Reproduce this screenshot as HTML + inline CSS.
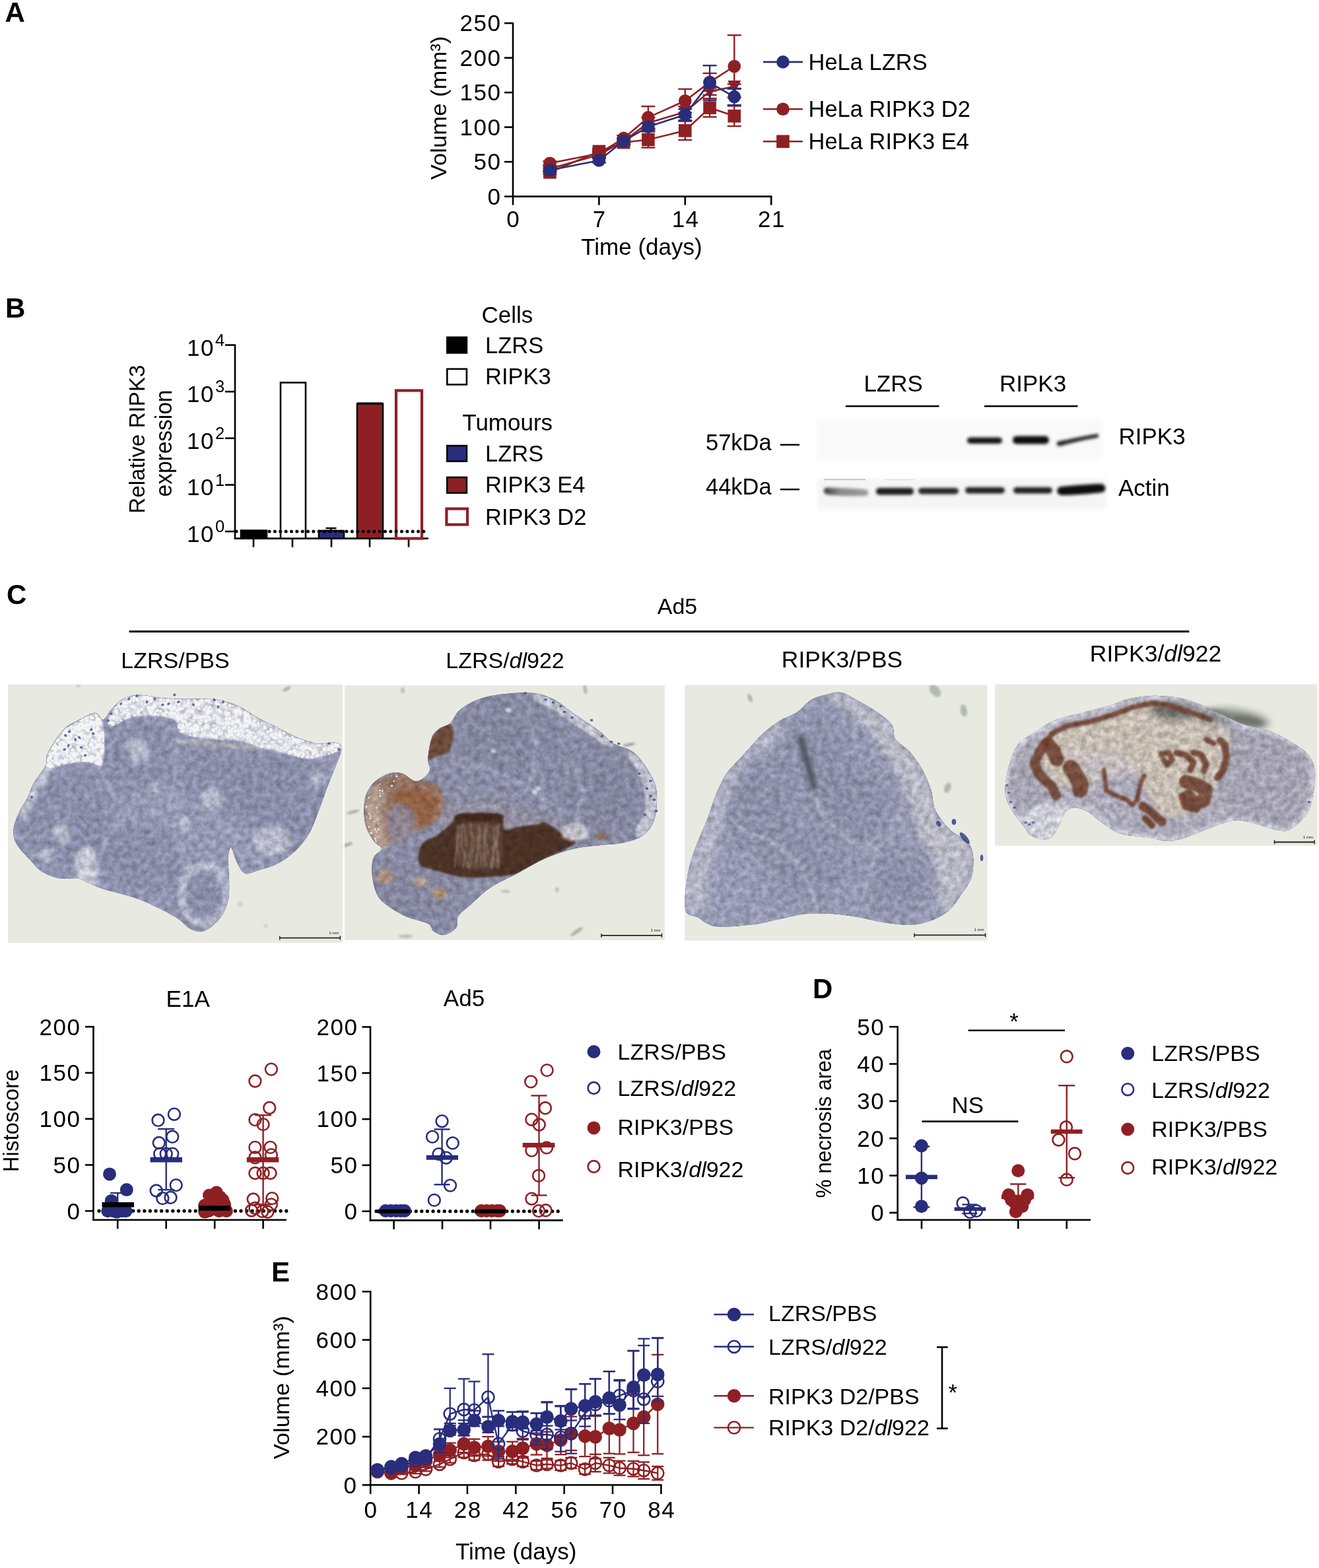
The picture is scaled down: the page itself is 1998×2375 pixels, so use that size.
<!DOCTYPE html>
<html><head><meta charset="utf-8"><title>Figure</title>
<style>
html,body{margin:0;padding:0;background:#fff;}
svg{display:block;}
text{font-family:'Liberation Sans', Arial, sans-serif;fill:#000;}
</style></head><body>
<svg width="1998" height="2375" viewBox="0 0 1998 2375">
<rect width="1998" height="2375" fill="#fff"/>
<defs>
<filter id="blur1" x="-20%" y="-50%" width="140%" height="200%"><feGaussianBlur stdDeviation="1.5"/></filter>
<filter id="blur2" x="-20%" y="-50%" width="140%" height="200%"><feGaussianBlur stdDeviation="2.2"/></filter>
<filter id="blur3" x="-20%" y="-50%" width="140%" height="200%"><feGaussianBlur stdDeviation="3"/></filter>
<filter id="blur6" x="-30%" y="-30%" width="160%" height="160%"><feGaussianBlur stdDeviation="6"/></filter>
<filter id="blur12" x="-30%" y="-30%" width="160%" height="160%"><feGaussianBlur stdDeviation="12"/></filter>
<filter id="sb1" filterUnits="userSpaceOnUse" x="0" y="1030" width="1998" height="400"><feGaussianBlur stdDeviation="1.5"/></filter>
<filter id="sb2" filterUnits="userSpaceOnUse" x="0" y="1030" width="1998" height="400"><feGaussianBlur stdDeviation="2.2"/></filter>
<filter id="sb3" filterUnits="userSpaceOnUse" x="0" y="1030" width="1998" height="400"><feGaussianBlur stdDeviation="3"/></filter>
<filter id="tt" x="0" y="0" width="100%" height="100%" color-interpolation-filters="sRGB">
  <feTurbulence type="fractalNoise" baseFrequency="0.11" numOctaves="3" seed="5"/>
  <feColorMatrix type="matrix" values="1 0 0 0 0  1 0 0 0 0  1 0 0 0 0  0 0 0 0 1" result="n"/>
  <feComposite in="SourceGraphic" in2="n" operator="arithmetic" k1="0.5" k2="0.75" k3="0" k4="0"/>
</filter>
<filter id="tt2" x="0" y="0" width="100%" height="100%" color-interpolation-filters="sRGB">
  <feTurbulence type="fractalNoise" baseFrequency="0.12" numOctaves="2" seed="9"/>
  <feColorMatrix type="matrix" values="1 0 0 0 0  1 0 0 0 0  1 0 0 0 0  0 0 0 0 1" result="n"/>
  <feComposite in="SourceGraphic" in2="n" operator="arithmetic" k1="0.7" k2="0.65" k3="0" k4="0"/>
</filter>
</defs>
<text x="7.5" y="32.8" font-size="42" text-anchor="start" font-weight="bold" >A</text>
<line x1="777" y1="33.9" x2="777" y2="298.8" stroke="#000" stroke-width="2.6" />
<line x1="775.8" y1="297.6" x2="1169.4" y2="297.6" stroke="#000" stroke-width="2.6" />
<line x1="764" y1="297.6" x2="777" y2="297.6" stroke="#000" stroke-width="2.6" />
<text x="759.5" y="309.9" font-size="35" text-anchor="end" letter-spacing="1.5">0</text>
<line x1="764" y1="245.1" x2="777" y2="245.1" stroke="#000" stroke-width="2.6" />
<text x="759.5" y="257.4" font-size="35" text-anchor="end" letter-spacing="1.5">50</text>
<line x1="764" y1="192.6" x2="777" y2="192.6" stroke="#000" stroke-width="2.6" />
<text x="759.5" y="204.9" font-size="35" text-anchor="end" letter-spacing="1.5">100</text>
<line x1="764" y1="140.1" x2="777" y2="140.1" stroke="#000" stroke-width="2.6" />
<text x="759.5" y="152.4" font-size="35" text-anchor="end" letter-spacing="1.5">150</text>
<line x1="764" y1="87.6" x2="777" y2="87.6" stroke="#000" stroke-width="2.6" />
<text x="759.5" y="99.9" font-size="35" text-anchor="end" letter-spacing="1.5">200</text>
<line x1="764" y1="35.1" x2="777" y2="35.1" stroke="#000" stroke-width="2.6" />
<text x="759.5" y="47.4" font-size="35" text-anchor="end" letter-spacing="1.5">250</text>
<line x1="777" y1="297.6" x2="777" y2="310.6" stroke="#000" stroke-width="2.6" />
<text x="777.8" y="343.6" font-size="35" text-anchor="middle" letter-spacing="1.5">0</text>
<line x1="907.4" y1="297.6" x2="907.4" y2="310.6" stroke="#000" stroke-width="2.6" />
<text x="908.2" y="343.6" font-size="35" text-anchor="middle" letter-spacing="1.5">7</text>
<line x1="1037.8" y1="297.6" x2="1037.8" y2="310.6" stroke="#000" stroke-width="2.6" />
<text x="1038.6" y="343.6" font-size="35" text-anchor="middle" letter-spacing="1.5">14</text>
<line x1="1168.2" y1="297.6" x2="1168.2" y2="310.6" stroke="#000" stroke-width="2.6" />
<text x="1169" y="343.6" font-size="35" text-anchor="middle" letter-spacing="1.5">21</text>
<text x="972" y="386" font-size="35" text-anchor="middle" >Time (days)</text>
<text transform="translate(676.4,163.4) rotate(-90)" font-size="34" text-anchor="middle" textLength="217.5" lengthAdjust="spacingAndGlyphs">Volume (mm³)</text>
<line x1="832.9" y1="259.8" x2="832.9" y2="251.4" stroke="#8e2024" stroke-width="2.4" />
<line x1="822.4" y1="251.4" x2="843.4" y2="251.4" stroke="#8e2024" stroke-width="2.4" />
<line x1="822.4" y1="259.8" x2="843.4" y2="259.8" stroke="#8e2024" stroke-width="2.4" />
<line x1="907.4" y1="238.8" x2="907.4" y2="230.4" stroke="#8e2024" stroke-width="2.4" />
<line x1="896.9" y1="230.4" x2="917.9" y2="230.4" stroke="#8e2024" stroke-width="2.4" />
<line x1="896.9" y1="238.8" x2="917.9" y2="238.8" stroke="#8e2024" stroke-width="2.4" />
<line x1="944.7" y1="217.8" x2="944.7" y2="209.4" stroke="#8e2024" stroke-width="2.4" />
<line x1="934.2" y1="209.4" x2="955.2" y2="209.4" stroke="#8e2024" stroke-width="2.4" />
<line x1="934.2" y1="217.8" x2="955.2" y2="217.8" stroke="#8e2024" stroke-width="2.4" />
<line x1="981.9" y1="194.7" x2="981.9" y2="177.9" stroke="#8e2024" stroke-width="2.4" />
<line x1="971.4" y1="177.9" x2="992.4" y2="177.9" stroke="#8e2024" stroke-width="2.4" />
<line x1="971.4" y1="194.7" x2="992.4" y2="194.7" stroke="#8e2024" stroke-width="2.4" />
<line x1="1037.8" y1="177.9" x2="1037.8" y2="161.1" stroke="#8e2024" stroke-width="2.4" />
<line x1="1027.3" y1="161.1" x2="1048.3" y2="161.1" stroke="#8e2024" stroke-width="2.4" />
<line x1="1027.3" y1="177.9" x2="1048.3" y2="177.9" stroke="#8e2024" stroke-width="2.4" />
<line x1="1075.1" y1="143.8" x2="1075.1" y2="133.3" stroke="#8e2024" stroke-width="2.4" />
<line x1="1064.6" y1="133.3" x2="1085.6" y2="133.3" stroke="#8e2024" stroke-width="2.4" />
<line x1="1064.6" y1="143.8" x2="1085.6" y2="143.8" stroke="#8e2024" stroke-width="2.4" />
<line x1="1112.3" y1="134.7" x2="1112.3" y2="127.4" stroke="#8e2024" stroke-width="2.4" />
<line x1="1101.8" y1="127.4" x2="1122.8" y2="127.4" stroke="#8e2024" stroke-width="2.4" />
<line x1="1101.8" y1="134.7" x2="1122.8" y2="134.7" stroke="#8e2024" stroke-width="2.4" />
<polyline points="832.9,255.6 907.4,234.6 944.7,213.6 981.9,186.3 1037.8,169.5 1075.1,138.5 1112.3,131.1" fill="none" stroke="#8e2024" stroke-width="2.6" stroke-linejoin="round"/>
<polygon points="822.9,246.6 842.9,246.6 832.9,266.6" fill="#8e2024" />
<polygon points="897.4,225.6 917.4,225.6 907.4,245.6" fill="#8e2024" />
<polygon points="934.7,204.6 954.7,204.6 944.7,224.6" fill="#8e2024" />
<polygon points="971.9,177.3 991.9,177.3 981.9,197.3" fill="#8e2024" />
<polygon points="1027.8,160.5 1047.8,160.5 1037.8,180.5" fill="#8e2024" />
<polygon points="1065.1,129.5 1085.1,129.5 1075.1,149.5" fill="#8e2024" />
<polygon points="1102.3,122.1 1122.3,122.1 1112.3,142.1" fill="#8e2024" />
<line x1="832.9" y1="264" x2="832.9" y2="257.7" stroke="#8e2024" stroke-width="2.4" />
<line x1="822.4" y1="257.7" x2="843.4" y2="257.7" stroke="#8e2024" stroke-width="2.4" />
<line x1="822.4" y1="264" x2="843.4" y2="264" stroke="#8e2024" stroke-width="2.4" />
<line x1="907.4" y1="233.6" x2="907.4" y2="225.2" stroke="#8e2024" stroke-width="2.4" />
<line x1="896.9" y1="225.2" x2="917.9" y2="225.2" stroke="#8e2024" stroke-width="2.4" />
<line x1="896.9" y1="233.6" x2="917.9" y2="233.6" stroke="#8e2024" stroke-width="2.4" />
<line x1="944.7" y1="219.9" x2="944.7" y2="211.5" stroke="#8e2024" stroke-width="2.4" />
<line x1="934.2" y1="211.5" x2="955.2" y2="211.5" stroke="#8e2024" stroke-width="2.4" />
<line x1="934.2" y1="219.9" x2="955.2" y2="219.9" stroke="#8e2024" stroke-width="2.4" />
<line x1="981.9" y1="223.6" x2="981.9" y2="199.4" stroke="#8e2024" stroke-width="2.4" />
<line x1="971.4" y1="199.4" x2="992.4" y2="199.4" stroke="#8e2024" stroke-width="2.4" />
<line x1="971.4" y1="223.6" x2="992.4" y2="223.6" stroke="#8e2024" stroke-width="2.4" />
<line x1="1037.8" y1="212" x2="1037.8" y2="183.7" stroke="#8e2024" stroke-width="2.4" />
<line x1="1027.3" y1="183.7" x2="1048.3" y2="183.7" stroke="#8e2024" stroke-width="2.4" />
<line x1="1027.3" y1="212" x2="1048.3" y2="212" stroke="#8e2024" stroke-width="2.4" />
<line x1="1075.1" y1="177.2" x2="1075.1" y2="149.2" stroke="#8e2024" stroke-width="2.4" />
<line x1="1064.6" y1="149.2" x2="1085.6" y2="149.2" stroke="#8e2024" stroke-width="2.4" />
<line x1="1064.6" y1="177.2" x2="1085.6" y2="177.2" stroke="#8e2024" stroke-width="2.4" />
<line x1="1112.3" y1="191.1" x2="1112.3" y2="160.5" stroke="#8e2024" stroke-width="2.4" />
<line x1="1101.8" y1="160.5" x2="1122.8" y2="160.5" stroke="#8e2024" stroke-width="2.4" />
<line x1="1101.8" y1="191.1" x2="1122.8" y2="191.1" stroke="#8e2024" stroke-width="2.4" />
<polyline points="832.9,260.9 907.4,229.4 944.7,215.7 981.9,211.5 1037.8,197.9 1075.1,163.2 1112.3,175.8" fill="none" stroke="#8e2024" stroke-width="2.6" stroke-linejoin="round"/>
<rect x="823.1" y="251.1" width="19.6" height="19.6" fill="#8e2024" stroke="none" stroke-width="0"/>
<rect x="897.6" y="219.6" width="19.6" height="19.6" fill="#8e2024" stroke="none" stroke-width="0"/>
<rect x="934.9" y="205.9" width="19.6" height="19.6" fill="#8e2024" stroke="none" stroke-width="0"/>
<rect x="972.1" y="201.7" width="19.6" height="19.6" fill="#8e2024" stroke="none" stroke-width="0"/>
<rect x="1028" y="188.1" width="19.6" height="19.6" fill="#8e2024" stroke="none" stroke-width="0"/>
<rect x="1065.3" y="153.4" width="19.6" height="19.6" fill="#8e2024" stroke="none" stroke-width="0"/>
<rect x="1102.5" y="166" width="19.6" height="19.6" fill="#8e2024" stroke="none" stroke-width="0"/>
<line x1="832.9" y1="250.4" x2="832.9" y2="244.1" stroke="#8e2024" stroke-width="2.4" />
<line x1="822.4" y1="244.1" x2="843.4" y2="244.1" stroke="#8e2024" stroke-width="2.4" />
<line x1="822.4" y1="250.4" x2="843.4" y2="250.4" stroke="#8e2024" stroke-width="2.4" />
<line x1="907.4" y1="236.7" x2="907.4" y2="228.3" stroke="#8e2024" stroke-width="2.4" />
<line x1="896.9" y1="228.3" x2="917.9" y2="228.3" stroke="#8e2024" stroke-width="2.4" />
<line x1="896.9" y1="236.7" x2="917.9" y2="236.7" stroke="#8e2024" stroke-width="2.4" />
<line x1="944.7" y1="213.6" x2="944.7" y2="205.2" stroke="#8e2024" stroke-width="2.4" />
<line x1="934.2" y1="205.2" x2="955.2" y2="205.2" stroke="#8e2024" stroke-width="2.4" />
<line x1="934.2" y1="213.6" x2="955.2" y2="213.6" stroke="#8e2024" stroke-width="2.4" />
<line x1="981.9" y1="194.7" x2="981.9" y2="161.1" stroke="#8e2024" stroke-width="2.4" />
<line x1="971.4" y1="161.1" x2="992.4" y2="161.1" stroke="#8e2024" stroke-width="2.4" />
<line x1="971.4" y1="194.7" x2="992.4" y2="194.7" stroke="#8e2024" stroke-width="2.4" />
<line x1="1037.8" y1="170.6" x2="1037.8" y2="134.9" stroke="#8e2024" stroke-width="2.4" />
<line x1="1027.3" y1="134.9" x2="1048.3" y2="134.9" stroke="#8e2024" stroke-width="2.4" />
<line x1="1027.3" y1="170.6" x2="1048.3" y2="170.6" stroke="#8e2024" stroke-width="2.4" />
<line x1="1075.1" y1="137.7" x2="1075.1" y2="111" stroke="#8e2024" stroke-width="2.4" />
<line x1="1064.6" y1="111" x2="1085.6" y2="111" stroke="#8e2024" stroke-width="2.4" />
<line x1="1064.6" y1="137.7" x2="1085.6" y2="137.7" stroke="#8e2024" stroke-width="2.4" />
<line x1="1112.3" y1="147.8" x2="1112.3" y2="53.3" stroke="#8e2024" stroke-width="2.4" />
<line x1="1101.8" y1="53.3" x2="1122.8" y2="53.3" stroke="#8e2024" stroke-width="2.4" />
<line x1="1101.8" y1="147.8" x2="1122.8" y2="147.8" stroke="#8e2024" stroke-width="2.4" />
<polyline points="832.9,247.2 907.4,232.5 944.7,209.4 981.9,177.9 1037.8,152.7 1075.1,124.4 1112.3,100.5" fill="none" stroke="#8e2024" stroke-width="2.6" stroke-linejoin="round"/>
<circle cx="832.9" cy="247.2" r="9.8" fill="#8e2024" stroke="none" stroke-width="0"/>
<circle cx="907.4" cy="232.5" r="9.8" fill="#8e2024" stroke="none" stroke-width="0"/>
<circle cx="944.7" cy="209.4" r="9.8" fill="#8e2024" stroke="none" stroke-width="0"/>
<circle cx="981.9" cy="177.9" r="9.8" fill="#8e2024" stroke="none" stroke-width="0"/>
<circle cx="1037.8" cy="152.7" r="9.8" fill="#8e2024" stroke="none" stroke-width="0"/>
<circle cx="1075.1" cy="124.4" r="9.8" fill="#8e2024" stroke="none" stroke-width="0"/>
<circle cx="1112.3" cy="100.5" r="9.8" fill="#8e2024" stroke="none" stroke-width="0"/>
<line x1="832.9" y1="260.9" x2="832.9" y2="254.6" stroke="#282d7c" stroke-width="2.4" />
<line x1="822.4" y1="254.6" x2="843.4" y2="254.6" stroke="#282d7c" stroke-width="2.4" />
<line x1="822.4" y1="260.9" x2="843.4" y2="260.9" stroke="#282d7c" stroke-width="2.4" />
<line x1="907.4" y1="246.2" x2="907.4" y2="239.9" stroke="#282d7c" stroke-width="2.4" />
<line x1="896.9" y1="239.9" x2="917.9" y2="239.9" stroke="#282d7c" stroke-width="2.4" />
<line x1="896.9" y1="246.2" x2="917.9" y2="246.2" stroke="#282d7c" stroke-width="2.4" />
<line x1="944.7" y1="217.8" x2="944.7" y2="209.4" stroke="#282d7c" stroke-width="2.4" />
<line x1="934.2" y1="209.4" x2="955.2" y2="209.4" stroke="#282d7c" stroke-width="2.4" />
<line x1="934.2" y1="217.8" x2="955.2" y2="217.8" stroke="#282d7c" stroke-width="2.4" />
<line x1="981.9" y1="197.3" x2="981.9" y2="186.8" stroke="#282d7c" stroke-width="2.4" />
<line x1="971.4" y1="186.8" x2="992.4" y2="186.8" stroke="#282d7c" stroke-width="2.4" />
<line x1="971.4" y1="197.3" x2="992.4" y2="197.3" stroke="#282d7c" stroke-width="2.4" />
<line x1="1037.8" y1="182.1" x2="1037.8" y2="165.3" stroke="#282d7c" stroke-width="2.4" />
<line x1="1027.3" y1="165.3" x2="1048.3" y2="165.3" stroke="#282d7c" stroke-width="2.4" />
<line x1="1027.3" y1="182.1" x2="1048.3" y2="182.1" stroke="#282d7c" stroke-width="2.4" />
<line x1="1075.1" y1="151.7" x2="1075.1" y2="99.2" stroke="#282d7c" stroke-width="2.4" />
<line x1="1064.6" y1="99.2" x2="1085.6" y2="99.2" stroke="#282d7c" stroke-width="2.4" />
<line x1="1064.6" y1="151.7" x2="1085.6" y2="151.7" stroke="#282d7c" stroke-width="2.4" />
<line x1="1112.3" y1="159.2" x2="1112.3" y2="134" stroke="#282d7c" stroke-width="2.4" />
<line x1="1101.8" y1="134" x2="1122.8" y2="134" stroke="#282d7c" stroke-width="2.4" />
<line x1="1101.8" y1="159.2" x2="1122.8" y2="159.2" stroke="#282d7c" stroke-width="2.4" />
<polyline points="832.9,257.7 907.4,243 944.7,213.6 981.9,192.1 1037.8,173.7 1075.1,125.4 1112.3,146.6" fill="none" stroke="#282d7c" stroke-width="2.6" stroke-linejoin="round"/>
<circle cx="832.9" cy="257.7" r="9.8" fill="#282d7c" stroke="none" stroke-width="0"/>
<circle cx="907.4" cy="243" r="9.8" fill="#282d7c" stroke="none" stroke-width="0"/>
<circle cx="944.7" cy="213.6" r="9.8" fill="#282d7c" stroke="none" stroke-width="0"/>
<circle cx="981.9" cy="192.1" r="9.8" fill="#282d7c" stroke="none" stroke-width="0"/>
<circle cx="1037.8" cy="173.7" r="9.8" fill="#282d7c" stroke="none" stroke-width="0"/>
<circle cx="1075.1" cy="125.4" r="9.8" fill="#282d7c" stroke="none" stroke-width="0"/>
<circle cx="1112.3" cy="146.6" r="9.8" fill="#282d7c" stroke="none" stroke-width="0"/>
<line x1="1156" y1="93.9" x2="1216" y2="93.9" stroke="#282d7c" stroke-width="2.6" />
<circle cx="1186" cy="93.9" r="9.8" fill="#282d7c" stroke="none" stroke-width="0"/>
<text x="1224.5" y="105.9" font-size="34.5" text-anchor="start" >HeLa LZRS</text>
<line x1="1156" y1="165.3" x2="1216" y2="165.3" stroke="#8e2024" stroke-width="2.6" />
<circle cx="1186" cy="165.3" r="9.8" fill="#8e2024" stroke="none" stroke-width="0"/>
<text x="1224.5" y="177.3" font-size="34.5" text-anchor="start" >HeLa RIPK3 D2</text>
<line x1="1156" y1="214.3" x2="1216" y2="214.3" stroke="#8e2024" stroke-width="2.6" />
<rect x="1176.2" y="204.5" width="19.6" height="19.6" fill="#8e2024" stroke="none" stroke-width="0"/>
<text x="1224.5" y="226.3" font-size="34.5" text-anchor="start" >HeLa RIPK3 E4</text>
<text x="8" y="481.1" font-size="42" text-anchor="start" font-weight="bold" >B</text>
<line x1="356" y1="521.4" x2="356" y2="816.8" stroke="#000" stroke-width="2.6" />
<line x1="354.8" y1="815.6" x2="648.8" y2="815.6" stroke="#000" stroke-width="2.6" />
<line x1="341" y1="805" x2="356" y2="805" stroke="#000" stroke-width="2.6" />
<text x="324.9" y="821" font-size="35" text-anchor="end" letter-spacing="1.5">10</text>
<text x="326" y="806.2" font-size="25.5" text-anchor="start" >0</text>
<line x1="341" y1="734.4" x2="356" y2="734.4" stroke="#000" stroke-width="2.6" />
<text x="324.9" y="750.4" font-size="35" text-anchor="end" letter-spacing="1.5">10</text>
<text x="326" y="735.6" font-size="25.5" text-anchor="start" >1</text>
<line x1="341" y1="663.8" x2="356" y2="663.8" stroke="#000" stroke-width="2.6" />
<text x="324.9" y="679.8" font-size="35" text-anchor="end" letter-spacing="1.5">10</text>
<text x="326" y="665" font-size="25.5" text-anchor="start" >2</text>
<line x1="341" y1="593.2" x2="356" y2="593.2" stroke="#000" stroke-width="2.6" />
<text x="324.9" y="609.2" font-size="35" text-anchor="end" letter-spacing="1.5">10</text>
<text x="326" y="594.4" font-size="25.5" text-anchor="start" >3</text>
<line x1="341" y1="522.6" x2="356" y2="522.6" stroke="#000" stroke-width="2.6" />
<text x="324.9" y="538.6" font-size="35" text-anchor="end" letter-spacing="1.5">10</text>
<text x="326" y="523.8" font-size="25.5" text-anchor="start" >4</text>
<line x1="384" y1="815.6" x2="384" y2="828.7" stroke="#000" stroke-width="2.6" />
<line x1="443" y1="815.6" x2="443" y2="828.7" stroke="#000" stroke-width="2.6" />
<line x1="502" y1="815.6" x2="502" y2="828.7" stroke="#000" stroke-width="2.6" />
<line x1="560" y1="815.6" x2="560" y2="828.7" stroke="#000" stroke-width="2.6" />
<line x1="619" y1="815.6" x2="619" y2="828.7" stroke="#000" stroke-width="2.6" />
<rect x="365" y="803.5" width="39" height="12.1" fill="#000" stroke="#000" stroke-width="2.6"/>
<rect x="425" y="579.5" width="38" height="236.1" fill="#fff" stroke="#000" stroke-width="2.6"/>
<line x1="501.5" y1="804" x2="501.5" y2="800" stroke="#000" stroke-width="2.4" />
<line x1="493.5" y1="800" x2="509.5" y2="800" stroke="#000" stroke-width="2.4" />
<line x1="493.5" y1="804" x2="509.5" y2="804" stroke="#000" stroke-width="2.4" />
<rect x="483" y="804" width="38" height="11.6" fill="#282d7c" stroke="#000" stroke-width="2.6"/>
<rect x="541" y="611.5" width="39" height="204.1" fill="#8e2024" stroke="#000" stroke-width="2.6"/>
<line x1="541" y1="610.5" x2="580" y2="610.5" stroke="#000" stroke-width="2" />
<rect x="600" y="591.5" width="39" height="224.1" fill="#fff" stroke="#8e2024" stroke-width="4.2"/>
<line x1="358" y1="805" x2="648" y2="805" stroke="#000" stroke-width="5" stroke-linecap="round" stroke-dasharray="0 8.35"/>
<text transform="translate(219,665.2) rotate(-90)" font-size="34" text-anchor="middle" textLength="225" lengthAdjust="spacingAndGlyphs">Relative RIPK3</text>
<text transform="translate(260.1,671.5) rotate(-90)" font-size="34.5" text-anchor="middle" textLength="162" lengthAdjust="spacingAndGlyphs">expression</text>
<text x="729.4" y="488.8" font-size="35" text-anchor="start" >Cells</text>
<text x="700.3" y="652" font-size="35" text-anchor="start" >Tumours</text>
<rect x="677.3" y="510.9" width="29.6" height="23.6" fill="#000" stroke="#000" stroke-width="2.6"/>
<text x="735" y="534.7" font-size="34.5" text-anchor="start" >LZRS</text>
<rect x="677.3" y="558.9" width="29.6" height="23.6" fill="#fff" stroke="#000" stroke-width="2.6"/>
<text x="735" y="582.3" font-size="34.5" text-anchor="start" >RIPK3</text>
<rect x="677.3" y="675.1" width="29.6" height="23.6" fill="#282d7c" stroke="#000" stroke-width="2.6"/>
<text x="735" y="698.8" font-size="34.5" text-anchor="start" >LZRS</text>
<rect x="677.3" y="723" width="29.6" height="23.6" fill="#8e2024" stroke="#000" stroke-width="2.6"/>
<text x="735" y="746" font-size="34.5" text-anchor="start" >RIPK3 E4</text>
<rect x="676.4" y="770.6" width="31.6" height="24" fill="#fff" stroke="#8e2024" stroke-width="4.2"/>
<text x="735" y="795" font-size="34.5" text-anchor="start" >RIPK3 D2</text>
<text x="1308.4" y="593" font-size="35" text-anchor="start" >LZRS</text>
<text x="1514" y="593" font-size="35" text-anchor="start" >RIPK3</text>
<line x1="1281" y1="615.2" x2="1422.5" y2="615.2" stroke="#000" stroke-width="2.6" />
<line x1="1491" y1="615.2" x2="1632.5" y2="615.2" stroke="#000" stroke-width="2.6" />
<text x="1069" y="681.6" font-size="34.5" text-anchor="start" >57kDa</text>
<line x1="1181.9" y1="673.7" x2="1211.1" y2="673.7" stroke="#000" stroke-width="2.4" />
<text x="1069" y="749.2" font-size="34.5" text-anchor="start" >44kDa</text>
<line x1="1181.9" y1="741.3" x2="1211.1" y2="741.3" stroke="#000" stroke-width="2.4" />
<text x="1694.5" y="672.7" font-size="35" text-anchor="start" >RIPK3</text>
<text x="1694" y="751" font-size="35" text-anchor="start" >Actin</text>
<rect x="1236" y="634" width="434" height="63" fill="#f9f9f9" filter="url(#blur3)"/>
<rect x="1238" y="725" width="438" height="47" fill="#f5f5f5" filter="url(#blur3)"/>
<line x1="1248" y1="726.4" x2="1311" y2="726.4" stroke="#777" stroke-width="1.6" opacity="0.45"/>
<line x1="1340" y1="726.6" x2="1385" y2="726.6" stroke="#999" stroke-width="1.4" opacity="0.3"/>
<linearGradient id="act1" x1="0" y1="0" x2="1" y2="0"><stop offset="0" stop-color="#3a3a3a"/><stop offset="0.35" stop-color="#8a8a8a"/><stop offset="1" stop-color="#9a9a9a"/></linearGradient>
<g filter="url(#blur2)">
<rect x="1465" y="662.5" width="53" height="9.5" rx="4.7" fill="#161616"/>
<rect x="1534" y="660.5" width="55" height="12" rx="6" fill="#0c0c0c"/>
<path d="M1603,668.5 C1620,665 1645,660 1662,657 C1665,659 1665,662 1662,663 C1645,666 1622,671 1605,676 C1600,675 1599,670 1603,668.5 Z" fill="#2a2a2a"/>
</g>
<g filter="url(#blur2)">
<path d="M1253,738.5 C1275,739 1300,740 1311,741.5 C1317,743 1317,750 1311,751 C1290,752 1265,751 1253,749 C1246,747 1246,739 1253,738.5 Z" fill="url(#act1)"/>
<rect x="1327" y="739" width="57" height="10.5" rx="5" fill="#1d1d1d"/>
<rect x="1391" y="739" width="61" height="9.5" rx="4.7" fill="#262626"/>
<rect x="1462" y="738" width="60" height="9.5" rx="4.7" fill="#202020"/>
<rect x="1535" y="738" width="59" height="9.5" rx="4.7" fill="#222"/>
<path d="M1608,737 C1630,735 1655,733 1668,733 C1676,734 1677,745 1668,746 C1650,748 1625,750 1608,750 C1599,749 1599,738 1608,737 Z" fill="#080808"/>
</g>
<text x="10" y="915" font-size="42" text-anchor="start" font-weight="bold" >C</text>
<text x="1026" y="929.7" font-size="34" text-anchor="middle" >Ad5</text>
<line x1="195.6" y1="956.5" x2="1801.3" y2="956.5" stroke="#000" stroke-width="3" />
<text x="265.5" y="1012" font-size="34" text-anchor="middle" >LZRS/PBS</text>
<text x="765" y="1012" font-size="34" text-anchor="middle" >LZRS/<tspan font-style="italic">dl</tspan>922</text>
<text x="1275.5" y="1011" font-size="35.5" text-anchor="middle" >RIPK3/PBS</text>
<text x="1750.5" y="1002" font-size="35.5" text-anchor="middle" >RIPK3/<tspan font-style="italic">dl</tspan>922</text>
<clipPath id="f1"><rect x="12" y="1036.6" width="507" height="391.4"/></clipPath>
<rect x="12" y="1036.6" width="507" height="391.4" fill="#e8eae2"/>
<g clip-path="url(#f1)">
<ellipse cx="118.7" cy="1039" rx="3" ry="1.8" fill="#8a8f88" filter="url(#blur1)" opacity="0.5"/>
<ellipse cx="434.2" cy="1043.5" rx="6.6" ry="2.4" fill="#8a8f88" filter="url(#blur1)" opacity="0.7" transform="rotate(-30 434.2 1043.5)"/>
<ellipse cx="524.3" cy="1279.4" rx="4.2" ry="9" fill="#8a8f88" filter="url(#blur1)" opacity="0.6" transform="rotate(20 524.3 1279.4)"/>
<ellipse cx="363.6" cy="1369.5" rx="3.6" ry="4.2" fill="#8a8f88" filter="url(#blur1)" opacity="0.25"/>
<ellipse cx="402.6" cy="1402.6" rx="3" ry="3.6" fill="#8a8f88" filter="url(#blur1)" opacity="0.25"/>
<g filter="url(#tt)">
<clipPath id="t1"><path d="M21,1252.4 C22.4,1245.3 26.5,1235.8 30,1228.3 C33.6,1220.8 38.6,1214.3 42.1,1207.3 C45.6,1200.3 46.6,1194.3 51.1,1186.2 C55.6,1178.2 65.6,1166.7 69.1,1159.2 C72.6,1151.7 67.6,1150.2 72.1,1141.2 C76.6,1132.2 88.1,1113.6 96.2,1105.1 C104.2,1096.6 112.2,1094.4 120.2,1090.1 C128.2,1085.8 138.2,1079.6 144.2,1079.6 C150.2,1079.6 152.2,1090.8 156.2,1090.1 C160.3,1089.3 163.3,1080.3 168.3,1075.1 C173.3,1069.8 179.3,1062.3 186.3,1058.5 C193.3,1054.8 201.3,1052.9 210.3,1052.5 C219.4,1052.2 230.4,1055.4 240.4,1056.4 C250.4,1057.4 260.4,1058.2 270.4,1058.5 C280.4,1058.9 290.5,1058.3 300.5,1058.5 C310.5,1058.8 320.5,1058.3 330.5,1060 C340.5,1061.8 350.6,1064.6 360.6,1069.1 C370.6,1073.6 380.6,1081.6 390.6,1087.1 C400.6,1092.6 410.7,1097.1 420.7,1102.1 C430.7,1107.1 440.7,1113.1 450.7,1117.1 C460.7,1121.1 471.3,1124.9 480.8,1126.2 C490.3,1127.4 501.7,1123.4 507.8,1124.7 C513.9,1125.9 517.4,1127.4 517.4,1133.7 C517.4,1139.9 511.4,1152.4 507.8,1162.2 C504.2,1172 499.8,1181.7 495.8,1192.3 C491.8,1202.8 488.3,1213.8 483.8,1225.3 C479.3,1236.8 474.8,1250.9 468.8,1261.4 C462.7,1271.9 455.7,1280.7 447.7,1288.4 C439.7,1296.2 430.2,1302.9 420.7,1307.9 C411.2,1313 398.9,1316 390.6,1318.5 C382.4,1321 376.4,1325 371.1,1323 C365.8,1321 362.6,1313 359.1,1306.4 C355.6,1299.9 352.3,1284.9 350.1,1283.9 C347.8,1282.9 346.1,1292.7 345.6,1300.4 C345.1,1308.2 347.1,1320 347.1,1330.5 C347.1,1341 347.8,1353.5 345.6,1363.5 C343.3,1373.5 339.5,1382.8 333.5,1390.6 C327.5,1398.3 317,1407.4 309.5,1410.1 C302,1412.9 295,1410.1 288.5,1407.1 C282,1404.1 277.4,1396.8 270.4,1392.1 C263.4,1387.3 256.4,1383.6 246.4,1378.6 C236.4,1373.5 221.4,1366.3 210.3,1362 C199.3,1357.8 189.8,1355.8 180.3,1353 C170.8,1350.3 161.3,1348.3 153.2,1345.5 C145.2,1342.8 138.2,1339 132.2,1336.5 C126.2,1334 124.2,1331.5 117.2,1330.5 C110.2,1329.5 99.2,1332.2 90.1,1330.5 C81.1,1328.7 70.6,1324.7 63.1,1320 C55.6,1315.2 50.6,1307.7 45.1,1301.9 C39.6,1296.2 34,1290.7 30,1285.4 C26.1,1280.2 23.1,1275.9 21.6,1270.4 C20.1,1264.9 19.6,1259.4 21,1252.4 Z"/></clipPath>
<path d="M21,1252.4 C22.4,1245.3 26.5,1235.8 30,1228.3 C33.6,1220.8 38.6,1214.3 42.1,1207.3 C45.6,1200.3 46.6,1194.3 51.1,1186.2 C55.6,1178.2 65.6,1166.7 69.1,1159.2 C72.6,1151.7 67.6,1150.2 72.1,1141.2 C76.6,1132.2 88.1,1113.6 96.2,1105.1 C104.2,1096.6 112.2,1094.4 120.2,1090.1 C128.2,1085.8 138.2,1079.6 144.2,1079.6 C150.2,1079.6 152.2,1090.8 156.2,1090.1 C160.3,1089.3 163.3,1080.3 168.3,1075.1 C173.3,1069.8 179.3,1062.3 186.3,1058.5 C193.3,1054.8 201.3,1052.9 210.3,1052.5 C219.4,1052.2 230.4,1055.4 240.4,1056.4 C250.4,1057.4 260.4,1058.2 270.4,1058.5 C280.4,1058.9 290.5,1058.3 300.5,1058.5 C310.5,1058.8 320.5,1058.3 330.5,1060 C340.5,1061.8 350.6,1064.6 360.6,1069.1 C370.6,1073.6 380.6,1081.6 390.6,1087.1 C400.6,1092.6 410.7,1097.1 420.7,1102.1 C430.7,1107.1 440.7,1113.1 450.7,1117.1 C460.7,1121.1 471.3,1124.9 480.8,1126.2 C490.3,1127.4 501.7,1123.4 507.8,1124.7 C513.9,1125.9 517.4,1127.4 517.4,1133.7 C517.4,1139.9 511.4,1152.4 507.8,1162.2 C504.2,1172 499.8,1181.7 495.8,1192.3 C491.8,1202.8 488.3,1213.8 483.8,1225.3 C479.3,1236.8 474.8,1250.9 468.8,1261.4 C462.7,1271.9 455.7,1280.7 447.7,1288.4 C439.7,1296.2 430.2,1302.9 420.7,1307.9 C411.2,1313 398.9,1316 390.6,1318.5 C382.4,1321 376.4,1325 371.1,1323 C365.8,1321 362.6,1313 359.1,1306.4 C355.6,1299.9 352.3,1284.9 350.1,1283.9 C347.8,1282.9 346.1,1292.7 345.6,1300.4 C345.1,1308.2 347.1,1320 347.1,1330.5 C347.1,1341 347.8,1353.5 345.6,1363.5 C343.3,1373.5 339.5,1382.8 333.5,1390.6 C327.5,1398.3 317,1407.4 309.5,1410.1 C302,1412.9 295,1410.1 288.5,1407.1 C282,1404.1 277.4,1396.8 270.4,1392.1 C263.4,1387.3 256.4,1383.6 246.4,1378.6 C236.4,1373.5 221.4,1366.3 210.3,1362 C199.3,1357.8 189.8,1355.8 180.3,1353 C170.8,1350.3 161.3,1348.3 153.2,1345.5 C145.2,1342.8 138.2,1339 132.2,1336.5 C126.2,1334 124.2,1331.5 117.2,1330.5 C110.2,1329.5 99.2,1332.2 90.1,1330.5 C81.1,1328.7 70.6,1324.7 63.1,1320 C55.6,1315.2 50.6,1307.7 45.1,1301.9 C39.6,1296.2 34,1290.7 30,1285.4 C26.1,1280.2 23.1,1275.9 21.6,1270.4 C20.1,1264.9 19.6,1259.4 21,1252.4 Z" fill="#979ab6"/>
<g clip-path="url(#t1)"><ellipse cx="99.2" cy="1240.3" rx="75.1" ry="78.1" fill="#82859f" filter="url(#blur12)" opacity="0.55"/></g>
<g clip-path="url(#t1)"><ellipse cx="210.3" cy="1144.2" rx="60.1" ry="60.1" fill="#82859f" filter="url(#blur12)" opacity="0.55"/></g>
<g clip-path="url(#t1)"><ellipse cx="435.7" cy="1210.3" rx="66.1" ry="84.1" fill="#82859f" filter="url(#blur12)" opacity="0.55"/></g>
<g clip-path="url(#t1)"><ellipse cx="210.3" cy="1300.4" rx="66.1" ry="54.1" fill="#82859f" filter="url(#blur12)" opacity="0.55"/></g>
<g clip-path="url(#t1)"><ellipse cx="300.5" cy="1360.5" rx="45.1" ry="48.1" fill="#82859f" filter="url(#blur12)" opacity="0.55"/></g>
<g clip-path="url(#t1)"><ellipse cx="330.5" cy="1180.2" rx="60.1" ry="60.1" fill="#82859f" filter="url(#blur12)" opacity="0.55"/></g>
<g clip-path="url(#t1)"><path d="M144.2,1156.2 L168.3,1198.3 L180.3,1240.3 L156.2,1285.4 L141.2,1330.5" fill="none" stroke="#a8aac0" stroke-width="6" opacity="0.6" filter="url(#sb2)"/></g>
<g clip-path="url(#t1)"><path d="M180.3,1240.3 L240.4,1225.3 L285.5,1210.3 L330.5,1240.3 L354.6,1270.4" fill="none" stroke="#a8aac0" stroke-width="6" opacity="0.6" filter="url(#sb2)"/></g>
<g clip-path="url(#t1)"><path d="M270.4,1120.1 L264.4,1165.2 L255.4,1225.3 L270.4,1285.4 L285.5,1330.5" fill="none" stroke="#a8aac0" stroke-width="6" opacity="0.6" filter="url(#sb2)"/></g>
<g clip-path="url(#t1)"><path d="M70.6,1162.2 C70.4,1158.5 69.4,1150.4 73.6,1141.2 C77.9,1131.9 88.4,1114.9 96.2,1106.6 C103.9,1098.4 112.3,1095.9 120.2,1091.6 C128.1,1087.3 137.9,1080.6 143.6,1081.1 C149.4,1081.6 152.4,1088.1 154.7,1094.6 C157.1,1101.1 157.8,1109.6 157.8,1120.1 C157.8,1130.7 159,1152.1 154.7,1157.7 C150.5,1163.3 140.5,1154 132.2,1153.8 C123.9,1153.5 114.7,1154.5 105.2,1156.2 C95.7,1157.9 80.9,1162.7 75.1,1163.7 C69.4,1164.7 70.9,1166 70.6,1162.2 Z" fill="#d9dbe3" filter="url(#blur1)" opacity="0.97"/></g>
<g clip-path="url(#t1)"><path d="M163.8,1090.1 C165.8,1083.6 175.5,1066.2 183.3,1060 C191.1,1053.9 200.8,1053.9 210.3,1053.4 C219.9,1052.9 230.4,1056.1 240.4,1057 C250.4,1058 260.4,1058.8 270.4,1059.1 C280.4,1059.5 290.5,1058.9 300.5,1059.1 C310.5,1059.4 320.5,1058.9 330.5,1060.6 C340.5,1062.4 350.6,1065.2 360.6,1069.7 C370.6,1074.2 380.6,1082.2 390.6,1087.7 C400.6,1093.2 410.7,1097.7 420.7,1102.7 C430.7,1107.7 440.7,1113.7 450.7,1117.7 C460.7,1121.7 470.8,1125.5 480.8,1126.8 C490.8,1128.1 504.9,1124.1 510.8,1125.6 C516.7,1127.1 519.2,1132.7 516.2,1135.8 C513.2,1138.9 501.7,1142 492.8,1144.2 C483.9,1146.3 473.8,1149.4 462.7,1148.7 C451.7,1147.9 438.7,1142.7 426.7,1139.7 C414.7,1136.7 401.6,1133.7 390.6,1130.7 C379.6,1127.7 370.6,1123.4 360.6,1121.6 C350.6,1119.9 340.5,1120.9 330.5,1120.1 C320.5,1119.4 310,1118.9 300.5,1117.1 C291,1115.4 279.4,1114.1 273.4,1109.6 C267.4,1105.1 270.9,1094.4 264.4,1090.1 C257.9,1085.8 245.4,1084.7 234.4,1084.1 C223.4,1083.5 208.8,1084 198.3,1086.5 C187.8,1089 177,1098.5 171.3,1099.1 C165.5,1099.7 161.8,1096.6 163.8,1090.1 Z" fill="#d9dbe3" filter="url(#blur1)" opacity="0.97"/></g>
<g clip-path="url(#t1)"><path d="M30,1228.3 C31,1222.8 38.6,1214.3 42.1,1207.3 C45.6,1200.3 46.6,1193.8 51.1,1186.2 C55.6,1178.7 64.6,1165.7 69.1,1162.2 C73.6,1158.7 79.6,1159.2 78.1,1165.2 C76.6,1171.2 65.1,1188.8 60.1,1198.3 C55.1,1207.8 52.1,1215.3 48.1,1222.3 C44.1,1229.3 39.1,1239.3 36.1,1240.3 C33.1,1241.3 29,1233.8 30,1228.3 Z" fill="#cbcdd8" filter="url(#blur3)" opacity="0.8"/></g>
<g clip-path="url(#t1)"><path d="M120.2,1288.4 C124.7,1284.4 136.7,1278.4 141.2,1285.4 C145.7,1292.4 147.2,1320.7 147.2,1330.5 C147.2,1340.2 145.7,1343.5 141.2,1344 C136.7,1344.5 124.7,1339.2 120.2,1333.5 C115.7,1327.7 114.2,1317 114.2,1309.4 C114.2,1301.9 115.7,1292.4 120.2,1288.4 Z" fill="#cfd1da" filter="url(#blur3)" opacity="0.85"/></g>
<g clip-path="url(#t1)"><path d="M279.4,1120.1 C298,1120.6 372.1,1126.7 390.6,1129.2 C409.2,1131.7 409.2,1135.7 390.6,1135.2 C372.1,1134.7 298,1128.7 279.4,1126.2 C260.9,1123.6 260.9,1119.6 279.4,1120.1 Z" fill="#b8b5b0" filter="url(#blur2)" opacity="0.6"/></g>
<ellipse cx="210.3" cy="1138.2" rx="16.5" ry="18" fill="#bcbecf" filter="url(#blur3)" opacity="0.85"/>
<ellipse cx="320" cy="1210.3" rx="16.5" ry="18" fill="#bcbecf" filter="url(#blur3)" opacity="0.85"/>
<ellipse cx="411.7" cy="1273.4" rx="28.5" ry="22.5" fill="#bcbecf" filter="url(#blur3)" opacity="0.85"/>
<ellipse cx="93.1" cy="1261.4" rx="13.5" ry="16.5" fill="#bcbecf" filter="url(#blur3)" opacity="0.85"/>
<ellipse cx="70.6" cy="1294.4" rx="12" ry="10.5" fill="#bcbecf" filter="url(#blur3)" opacity="0.85"/>
<ellipse cx="480.8" cy="1180.2" rx="10.5" ry="12" fill="#bcbecf" filter="url(#blur3)" opacity="0.85"/>
<ellipse cx="279.4" cy="1246.3" rx="9" ry="10.5" fill="#bcbecf" filter="url(#blur3)" opacity="0.85"/>
<ellipse cx="234.4" cy="1195.3" rx="9" ry="9" fill="#bcbecf" filter="url(#blur3)" opacity="0.85"/>
<ellipse cx="198.3" cy="1126.2" rx="9" ry="9" fill="#bcbecf" filter="url(#blur3)" opacity="0.85"/>
<g clip-path="url(#t1)"><ellipse cx="309.5" cy="1354.5" rx="34.6" ry="43.6" fill="none" stroke="#b6b8ca" stroke-width="13.5" opacity="0.9" filter="url(#sb2)"/></g>
</g>
<clipPath id="foam1"><path d="M163.8,1090.1 C165.8,1083.6 175.5,1066.2 183.3,1060 C191.1,1053.9 200.8,1053.9 210.3,1053.4 C219.9,1052.9 230.4,1056.1 240.4,1057 C250.4,1058 260.4,1058.8 270.4,1059.1 C280.4,1059.5 290.5,1058.9 300.5,1059.1 C310.5,1059.4 320.5,1058.9 330.5,1060.6 C340.5,1062.4 350.6,1065.2 360.6,1069.7 C370.6,1074.2 380.6,1082.2 390.6,1087.7 C400.6,1093.2 410.7,1097.7 420.7,1102.7 C430.7,1107.7 440.7,1113.7 450.7,1117.7 C460.7,1121.7 470.8,1125.5 480.8,1126.8 C490.8,1128.1 504.9,1124.1 510.8,1125.6 C516.7,1127.1 519.2,1132.7 516.2,1135.8 C513.2,1138.9 501.7,1142 492.8,1144.2 C483.9,1146.3 473.8,1149.4 462.7,1148.7 C451.7,1147.9 438.7,1142.7 426.7,1139.7 C414.7,1136.7 401.6,1133.7 390.6,1130.7 C379.6,1127.7 370.6,1123.4 360.6,1121.6 C350.6,1119.9 340.5,1120.9 330.5,1120.1 C320.5,1119.4 310,1118.9 300.5,1117.1 C291,1115.4 279.4,1114.1 273.4,1109.6 C267.4,1105.1 270.9,1094.4 264.4,1090.1 C257.9,1085.8 245.4,1084.7 234.4,1084.1 C223.4,1083.5 208.8,1084 198.3,1086.5 C187.8,1089 177,1098.5 171.3,1099.1 C165.5,1099.7 161.8,1096.6 163.8,1090.1 Z"/></clipPath>
<g clip-path="url(#t1)"><g clip-path="url(#foam1)" fill="#f4f4f5"><circle cx="247.6" cy="1105.3" r="1.8"/><circle cx="376.6" cy="1113" r="1.3"/><circle cx="168.4" cy="1133.2" r="1.6"/><circle cx="246.4" cy="1148.3" r="2"/><circle cx="458.6" cy="1098.8" r="2.2"/><circle cx="216.8" cy="1113.9" r="2.6"/><circle cx="348.2" cy="1124" r="2.3"/><circle cx="186.3" cy="1125.7" r="2.1"/><circle cx="269.9" cy="1056.4" r="2.6"/><circle cx="330.4" cy="1121.9" r="2.6"/><circle cx="415.5" cy="1141.2" r="1.8"/><circle cx="446.1" cy="1095.8" r="2.7"/><circle cx="473.5" cy="1062.7" r="1.4"/><circle cx="240.2" cy="1145.4" r="1.9"/><circle cx="384.6" cy="1082.1" r="2"/><circle cx="299.8" cy="1086.9" r="2.1"/><circle cx="369.7" cy="1139.6" r="2.3"/><circle cx="491.2" cy="1135" r="2.8"/><circle cx="400.4" cy="1069" r="2.6"/><circle cx="503.8" cy="1139.6" r="2.1"/><circle cx="415.4" cy="1073.5" r="2.5"/><circle cx="365.9" cy="1080.6" r="1.3"/><circle cx="464.7" cy="1147.7" r="1.3"/><circle cx="445.9" cy="1092.5" r="1.4"/><circle cx="267.3" cy="1126.7" r="2.6"/><circle cx="179.3" cy="1112" r="1.3"/><circle cx="417" cy="1085" r="2.6"/><circle cx="509.4" cy="1101.6" r="2.8"/><circle cx="272.9" cy="1060.8" r="2.2"/><circle cx="174.8" cy="1072.2" r="1.9"/><circle cx="378.9" cy="1068.3" r="1.3"/><circle cx="469.6" cy="1083.3" r="2.7"/><circle cx="479.8" cy="1089.4" r="1.9"/><circle cx="347.1" cy="1114.8" r="2.2"/><circle cx="360.9" cy="1112.5" r="2.7"/><circle cx="342.5" cy="1094.5" r="2.4"/><circle cx="247.5" cy="1082.1" r="2.8"/><circle cx="347.4" cy="1105.7" r="1.2"/><circle cx="310.1" cy="1108.7" r="1.2"/><circle cx="380.8" cy="1113.7" r="1.3"/><circle cx="384.9" cy="1097.8" r="2.3"/><circle cx="288" cy="1120.8" r="2.4"/><circle cx="171.6" cy="1059.2" r="2.3"/><circle cx="503.3" cy="1077.4" r="1.9"/><circle cx="372.7" cy="1083.9" r="1.8"/><circle cx="274" cy="1088.6" r="2.2"/><circle cx="269.6" cy="1089.4" r="2.4"/><circle cx="173.3" cy="1107.7" r="2.4"/><circle cx="273" cy="1074.6" r="2.5"/><circle cx="247.9" cy="1071.3" r="1.9"/><circle cx="409.8" cy="1063.1" r="1.7"/><circle cx="281.4" cy="1132.8" r="1.9"/><circle cx="465.3" cy="1069.6" r="1.7"/><circle cx="392.9" cy="1137.7" r="1.9"/><circle cx="243.1" cy="1065" r="2"/><circle cx="231" cy="1130.3" r="2.5"/><circle cx="228.5" cy="1080" r="2.5"/><circle cx="390" cy="1130.2" r="1.8"/><circle cx="209.5" cy="1081.2" r="2.5"/><circle cx="259.3" cy="1086.4" r="1.9"/><circle cx="311.7" cy="1092.4" r="2.7"/><circle cx="218.7" cy="1053.9" r="2.7"/><circle cx="473.9" cy="1147.4" r="1.9"/><circle cx="498.7" cy="1141.8" r="1.6"/><circle cx="426.5" cy="1133.1" r="2.3"/><circle cx="346.7" cy="1081" r="1.7"/><circle cx="243.9" cy="1059.9" r="2.1"/><circle cx="264.9" cy="1130.6" r="1.3"/><circle cx="482.3" cy="1119.5" r="2.7"/><circle cx="479.8" cy="1139.1" r="2.1"/><circle cx="168.4" cy="1124.4" r="1.5"/><circle cx="269.5" cy="1116.6" r="2"/><circle cx="309.6" cy="1142.9" r="2.2"/><circle cx="284.1" cy="1077.5" r="2.6"/><circle cx="332" cy="1128" r="1.8"/><circle cx="233.3" cy="1104.4" r="2.5"/><circle cx="224.1" cy="1128.8" r="2.7"/><circle cx="447.9" cy="1131.9" r="1.2"/><circle cx="385.3" cy="1135.6" r="1.3"/><circle cx="259.4" cy="1079" r="2"/><circle cx="312.8" cy="1098.5" r="2.4"/><circle cx="164.4" cy="1058.7" r="1.4"/><circle cx="207.7" cy="1060" r="2.8"/><circle cx="464.9" cy="1061.6" r="2"/><circle cx="275.1" cy="1083.4" r="1.8"/><circle cx="391.8" cy="1109.3" r="1.8"/><circle cx="231.1" cy="1084.8" r="1.4"/><circle cx="359.6" cy="1121.6" r="1.8"/><circle cx="191.9" cy="1070.4" r="1.8"/><circle cx="376.8" cy="1128" r="1.8"/><circle cx="446.1" cy="1112.8" r="1.9"/><circle cx="295" cy="1100.7" r="2.3"/><circle cx="312" cy="1119.6" r="1.9"/><circle cx="250.1" cy="1104.5" r="2.3"/><circle cx="189" cy="1093.9" r="1.9"/><circle cx="473.8" cy="1142.6" r="1.8"/><circle cx="480.2" cy="1128.8" r="1.6"/><circle cx="327.4" cy="1065.2" r="2.5"/><circle cx="397.2" cy="1138" r="2.5"/><circle cx="399.1" cy="1123.3" r="2.1"/><circle cx="200.1" cy="1109.4" r="1.2"/><circle cx="214.3" cy="1127.2" r="1.3"/><circle cx="196.1" cy="1062.9" r="2.6"/><circle cx="226.9" cy="1055.7" r="2.5"/><circle cx="206.5" cy="1133.8" r="2.3"/><circle cx="458.5" cy="1144.2" r="2.1"/><circle cx="445.3" cy="1056.9" r="2.4"/><circle cx="344" cy="1121.6" r="1.4"/><circle cx="427.7" cy="1142.5" r="1.3"/><circle cx="278" cy="1107.2" r="2.5"/><circle cx="249.1" cy="1070.6" r="1.6"/><circle cx="380.9" cy="1125.2" r="1.8"/><circle cx="293.3" cy="1091.2" r="1.8"/><circle cx="311.2" cy="1061.4" r="2"/><circle cx="506.7" cy="1092.8" r="2.4"/><circle cx="220.4" cy="1119.2" r="2.4"/><circle cx="401.3" cy="1102.7" r="2"/><circle cx="390.4" cy="1138.9" r="1.4"/><circle cx="197.5" cy="1124.7" r="2.7"/><circle cx="346.1" cy="1095.6" r="2.4"/><circle cx="229.4" cy="1078.9" r="1.5"/><circle cx="370.2" cy="1083.4" r="1.6"/><circle cx="407.4" cy="1144.3" r="1.7"/><circle cx="412.4" cy="1092.8" r="2.6"/><circle cx="369.8" cy="1078.9" r="1.5"/><circle cx="171.9" cy="1099.1" r="1.8"/><circle cx="224.5" cy="1087.8" r="1.7"/><circle cx="436.6" cy="1067.1" r="2.8"/><circle cx="332.8" cy="1110.5" r="1.9"/><circle cx="457.9" cy="1131.7" r="2.1"/><circle cx="333.4" cy="1122.1" r="2.6"/><circle cx="304.8" cy="1123.3" r="2.7"/><circle cx="328.5" cy="1075.3" r="1.6"/><circle cx="416.7" cy="1117.8" r="2.7"/><circle cx="464.7" cy="1076.5" r="1.5"/><circle cx="254.9" cy="1071.3" r="2.3"/><circle cx="466.4" cy="1139.1" r="1.6"/><circle cx="468.7" cy="1083.3" r="1.9"/><circle cx="420.7" cy="1061.6" r="1.3"/><circle cx="457.7" cy="1081.2" r="1.8"/><circle cx="368.3" cy="1117.8" r="1.2"/><circle cx="281.8" cy="1095" r="2"/><circle cx="237.8" cy="1109.2" r="2.7"/><circle cx="301.5" cy="1105.3" r="1.4"/><circle cx="260.6" cy="1116.8" r="1.4"/><circle cx="476.5" cy="1140" r="1.4"/><circle cx="495.5" cy="1089.1" r="2.4"/><circle cx="430.7" cy="1081.6" r="2.3"/><circle cx="394.3" cy="1130.2" r="1.6"/><circle cx="429.6" cy="1145" r="2.3"/><circle cx="352.7" cy="1064.2" r="2"/><circle cx="287.9" cy="1121.8" r="2.3"/><circle cx="363.4" cy="1070.8" r="2.2"/><circle cx="386.1" cy="1070.5" r="2.6"/><circle cx="394.8" cy="1065.2" r="2.7"/><circle cx="213.6" cy="1085" r="2.4"/><circle cx="374.3" cy="1106.3" r="2.2"/><circle cx="325.1" cy="1083.2" r="1.5"/><circle cx="187.9" cy="1121.6" r="2.4"/><circle cx="355.2" cy="1123.9" r="1.8"/><circle cx="257.5" cy="1090" r="2.6"/><circle cx="178.6" cy="1101.5" r="1.6"/><circle cx="434.8" cy="1087.2" r="1.7"/><circle cx="305.9" cy="1105" r="2.4"/><circle cx="288.1" cy="1134.1" r="1.4"/><circle cx="259.1" cy="1062.9" r="1.4"/><circle cx="438.3" cy="1122.7" r="1.5"/><circle cx="230.4" cy="1093.1" r="2.4"/><circle cx="451.3" cy="1124.8" r="2.1"/><circle cx="215.4" cy="1091.4" r="1.5"/><circle cx="349.7" cy="1107.6" r="1.5"/><circle cx="251.9" cy="1127.9" r="1.2"/><circle cx="446.8" cy="1138.3" r="2.7"/><circle cx="298.8" cy="1106.1" r="2.1"/><circle cx="387.1" cy="1146.5" r="2.3"/><circle cx="269.3" cy="1135.4" r="2"/><circle cx="375.7" cy="1122.7" r="1.2"/><circle cx="435.3" cy="1116.5" r="2"/><circle cx="348.3" cy="1097.3" r="1.5"/><circle cx="350.4" cy="1057" r="2"/><circle cx="391.4" cy="1095.8" r="2.1"/><circle cx="501.8" cy="1138.4" r="1.4"/><circle cx="443" cy="1112.8" r="1.3"/><circle cx="290.6" cy="1075.7" r="1.3"/><circle cx="353.7" cy="1142" r="1.7"/><circle cx="470.6" cy="1119.6" r="1.4"/><circle cx="466.3" cy="1110.7" r="2.7"/><circle cx="416.1" cy="1123.9" r="1.7"/><circle cx="448.1" cy="1142.2" r="2.6"/><circle cx="317.8" cy="1125.5" r="2"/><circle cx="202.2" cy="1057.5" r="1.3"/><circle cx="234.4" cy="1068.8" r="2"/><circle cx="410.2" cy="1104.6" r="1.9"/><circle cx="392.6" cy="1082.5" r="1.9"/><circle cx="430.6" cy="1091.7" r="1.5"/><circle cx="480.8" cy="1122" r="1.8"/><circle cx="294.5" cy="1103.9" r="2.2"/><circle cx="242.7" cy="1053.7" r="1.5"/><circle cx="439.8" cy="1067.1" r="1.9"/><circle cx="232.6" cy="1073.4" r="1.5"/><circle cx="306.1" cy="1069.5" r="1.2"/><circle cx="202.6" cy="1069.5" r="2"/><circle cx="184.8" cy="1055.6" r="1.9"/><circle cx="307.5" cy="1120.4" r="1.3"/><circle cx="305.9" cy="1091.2" r="1.2"/><circle cx="504.1" cy="1074.3" r="1.4"/><circle cx="331" cy="1069.1" r="2.2"/><circle cx="285.8" cy="1065.2" r="1.3"/><circle cx="420.2" cy="1079.6" r="2.5"/><circle cx="327.8" cy="1142.3" r="1.7"/><circle cx="251.9" cy="1078.8" r="2.5"/><circle cx="385.5" cy="1086.3" r="1.3"/><circle cx="404.3" cy="1145.8" r="2.1"/><circle cx="165.1" cy="1056.3" r="1.3"/><circle cx="223.8" cy="1056.9" r="1.3"/><circle cx="394.4" cy="1139.2" r="1.5"/><circle cx="507" cy="1098.9" r="2.5"/><circle cx="487.1" cy="1143" r="1.3"/><circle cx="271.2" cy="1111.2" r="2.7"/><circle cx="194.7" cy="1081.4" r="2.6"/><circle cx="204.2" cy="1090.6" r="1.7"/><circle cx="403.5" cy="1141.9" r="1.5"/><circle cx="424.5" cy="1123.3" r="2.5"/><circle cx="358.8" cy="1141.4" r="1.8"/><circle cx="309.9" cy="1075.3" r="2.4"/><circle cx="333.2" cy="1079.1" r="1.5"/><circle cx="417.8" cy="1111.1" r="2.3"/><circle cx="300.1" cy="1099.8" r="1.4"/><circle cx="414.3" cy="1055.6" r="1.9"/><circle cx="431.1" cy="1118" r="1.4"/><circle cx="247.4" cy="1133.8" r="2.2"/><circle cx="473.4" cy="1136.5" r="1.9"/><circle cx="479.9" cy="1123.2" r="1.7"/><circle cx="294.2" cy="1060.3" r="1.8"/><circle cx="500.6" cy="1063.4" r="2.1"/><circle cx="202.6" cy="1061.1" r="2.2"/><circle cx="248.6" cy="1058.1" r="1.4"/><circle cx="390.9" cy="1109.2" r="1.2"/><circle cx="244.8" cy="1145.6" r="1.6"/><circle cx="362" cy="1093.4" r="2.4"/><circle cx="376.8" cy="1128.6" r="2.1"/><circle cx="230.1" cy="1070.4" r="1.3"/><circle cx="454.7" cy="1064.2" r="1.2"/><circle cx="504.4" cy="1072.4" r="2.6"/><circle cx="194" cy="1097.8" r="1.6"/><circle cx="456.1" cy="1112.1" r="2.2"/><circle cx="432.1" cy="1136.5" r="1.8"/><circle cx="376.3" cy="1095.9" r="1.4"/><circle cx="458.2" cy="1110.1" r="2.5"/><circle cx="236.4" cy="1104.8" r="1.9"/><circle cx="420.4" cy="1060.8" r="1.8"/><circle cx="334.5" cy="1060.3" r="2.1"/><circle cx="422.9" cy="1093.7" r="2.2"/><circle cx="377.3" cy="1073.8" r="1.8"/><circle cx="514.7" cy="1085.4" r="1.9"/><circle cx="193.4" cy="1074.2" r="1.5"/><circle cx="491.9" cy="1122.6" r="2.6"/><circle cx="511.5" cy="1111.7" r="2.7"/><circle cx="352.6" cy="1093.3" r="2.7"/><circle cx="482.1" cy="1143.9" r="2"/><circle cx="436.4" cy="1092.2" r="2.8"/><circle cx="488.1" cy="1081.3" r="2.7"/><circle cx="228.8" cy="1062.6" r="2.4"/><circle cx="267.5" cy="1102.9" r="2.2"/><circle cx="178.1" cy="1124.4" r="1.6"/><circle cx="316.2" cy="1086.3" r="2.4"/><circle cx="427" cy="1080.8" r="1.4"/><circle cx="269.3" cy="1092.6" r="1.3"/><circle cx="217.8" cy="1126.1" r="2.3"/><circle cx="507.9" cy="1146.8" r="2.6"/><circle cx="295.1" cy="1068.8" r="1.7"/><circle cx="327" cy="1103.5" r="2.1"/><circle cx="290.5" cy="1134.7" r="1.7"/><circle cx="327" cy="1137.9" r="2.5"/><circle cx="268.6" cy="1076.5" r="2.5"/><circle cx="167.3" cy="1066" r="2"/><circle cx="352.6" cy="1069.2" r="1.3"/><circle cx="235.6" cy="1126.8" r="1.9"/><circle cx="508.9" cy="1128.3" r="2.8"/><circle cx="176.1" cy="1071.1" r="1.2"/><circle cx="316.2" cy="1085.7" r="1.3"/><circle cx="356.2" cy="1062.4" r="1.7"/><circle cx="250.9" cy="1129.8" r="1.9"/><circle cx="255.5" cy="1057.6" r="1.9"/><circle cx="384.9" cy="1117.8" r="2.7"/><circle cx="448.8" cy="1077" r="1.4"/><circle cx="431" cy="1128.6" r="2"/><circle cx="456.7" cy="1106" r="1.6"/><circle cx="223.2" cy="1055.1" r="2.2"/><circle cx="479.9" cy="1139.8" r="1.9"/><circle cx="398.3" cy="1141.9" r="2.5"/><circle cx="376.2" cy="1092.9" r="2"/><circle cx="224" cy="1070.9" r="2.3"/><circle cx="513.4" cy="1105.5" r="1.9"/><circle cx="287.8" cy="1096.8" r="2.5"/><circle cx="323.3" cy="1144.8" r="1.4"/><circle cx="274.8" cy="1103.2" r="1.9"/><circle cx="463.7" cy="1132.3" r="2.7"/><circle cx="379.6" cy="1056.4" r="2.1"/><circle cx="357.5" cy="1099.9" r="1.6"/><circle cx="413.8" cy="1140.3" r="1.4"/><circle cx="399.5" cy="1088.8" r="2"/><circle cx="479.5" cy="1144.9" r="2.2"/><circle cx="232.5" cy="1141.1" r="1.5"/><circle cx="298.9" cy="1132.3" r="1.7"/><circle cx="259.2" cy="1143.9" r="2.7"/><circle cx="275.6" cy="1090.8" r="1.7"/><circle cx="210.1" cy="1077.3" r="2.8"/><circle cx="191.7" cy="1075.3" r="1.5"/><circle cx="191.8" cy="1103.6" r="2.4"/><circle cx="459.2" cy="1113.6" r="2.5"/><circle cx="165.7" cy="1080.3" r="2.7"/><circle cx="188.2" cy="1078.9" r="2"/><circle cx="258.2" cy="1105.5" r="1.3"/><circle cx="246.9" cy="1144.6" r="1.4"/><circle cx="482.9" cy="1070.4" r="2.8"/><circle cx="401.5" cy="1115.1" r="1.4"/><circle cx="183" cy="1125.8" r="1.5"/><circle cx="230.6" cy="1131.8" r="2.6"/><circle cx="181" cy="1145" r="2.1"/><circle cx="298.5" cy="1063.6" r="1.8"/><circle cx="511.8" cy="1080.2" r="1.4"/><circle cx="215" cy="1065.5" r="1.8"/><circle cx="486.3" cy="1060.8" r="1.5"/><circle cx="494.8" cy="1148.4" r="2.8"/><circle cx="250.4" cy="1087.2" r="2.7"/><circle cx="334.7" cy="1120.4" r="1.7"/><circle cx="171.3" cy="1086.3" r="2.4"/><circle cx="439.4" cy="1107.6" r="1.9"/><circle cx="353.4" cy="1095.6" r="2.1"/><circle cx="457.4" cy="1072.5" r="2.2"/><circle cx="492.5" cy="1134.2" r="1.5"/><circle cx="503.3" cy="1133.5" r="1.5"/><circle cx="257.5" cy="1072.7" r="1.3"/><circle cx="508.6" cy="1092.4" r="2.6"/><circle cx="204.1" cy="1054.8" r="2.6"/><circle cx="443.6" cy="1147.9" r="2.3"/><circle cx="348.9" cy="1126.4" r="1.3"/><circle cx="354.2" cy="1095.5" r="1.4"/><circle cx="375.4" cy="1084.2" r="2"/><circle cx="295.4" cy="1083.7" r="1.8"/><circle cx="375.6" cy="1146.8" r="2.7"/><circle cx="467.7" cy="1133" r="1.7"/><circle cx="508" cy="1079.1" r="1.4"/><circle cx="340.3" cy="1123.2" r="1.7"/><circle cx="391.2" cy="1080.3" r="2.7"/><circle cx="323.4" cy="1099" r="2.1"/><circle cx="472.1" cy="1147.4" r="2"/><circle cx="319.4" cy="1112.3" r="1.3"/><circle cx="313.7" cy="1134.2" r="2.4"/><circle cx="184.7" cy="1134.8" r="1.8"/><circle cx="509.6" cy="1088.4" r="1.5"/><circle cx="357.2" cy="1137.6" r="1.9"/><circle cx="469.5" cy="1121.2" r="1.8"/><circle cx="269.7" cy="1101.6" r="1.8"/><circle cx="295.1" cy="1115.5" r="2.6"/><circle cx="369.7" cy="1067.4" r="1.6"/><circle cx="294.5" cy="1112" r="1.4"/><circle cx="192.5" cy="1084" r="1.7"/><circle cx="174.2" cy="1104.8" r="2.7"/><circle cx="352.1" cy="1123.7" r="2.5"/><circle cx="459" cy="1140.4" r="1.9"/><circle cx="404.3" cy="1064.9" r="2.6"/><circle cx="297.1" cy="1098.7" r="2.6"/><circle cx="264.8" cy="1071.5" r="2.5"/><circle cx="374.8" cy="1061.5" r="1.2"/><circle cx="287.6" cy="1054.2" r="2.5"/><circle cx="228.5" cy="1079.6" r="1.8"/><circle cx="344.1" cy="1094.6" r="2.2"/><circle cx="396.3" cy="1095" r="1.4"/><circle cx="508.9" cy="1119.3" r="1.3"/><circle cx="319.4" cy="1125.2" r="2.8"/><circle cx="187" cy="1054.3" r="2"/><circle cx="312.5" cy="1138.6" r="2.5"/><circle cx="280.6" cy="1093.3" r="2.1"/><circle cx="475.4" cy="1072.7" r="1.8"/><circle cx="194.9" cy="1114.5" r="1.2"/><circle cx="493.3" cy="1103.3" r="2.1"/><circle cx="193.8" cy="1075.6" r="2"/><circle cx="466" cy="1104.8" r="1.7"/><circle cx="509.9" cy="1116.4" r="2"/><circle cx="235.1" cy="1081.9" r="2.6"/><circle cx="210.6" cy="1104.1" r="2.2"/><circle cx="288.8" cy="1126.7" r="2.7"/><circle cx="466" cy="1123.7" r="1.5"/><circle cx="184.9" cy="1094.7" r="1.7"/><circle cx="232.1" cy="1136.4" r="1.5"/><circle cx="453.8" cy="1142.8" r="1.4"/><circle cx="485.8" cy="1091.3" r="1.5"/><circle cx="229.5" cy="1057" r="2"/><circle cx="299.2" cy="1134.5" r="2.5"/><circle cx="183.8" cy="1091.7" r="1.8"/><circle cx="226.4" cy="1077.3" r="1.6"/><circle cx="408.4" cy="1085.8" r="1.4"/><circle cx="241.5" cy="1095.6" r="2.1"/><circle cx="250.3" cy="1120.1" r="1.5"/><circle cx="400.2" cy="1111.5" r="1.5"/><circle cx="428.5" cy="1091" r="2.1"/><circle cx="374.5" cy="1113.3" r="1.9"/><circle cx="183.5" cy="1128.4" r="2.6"/><circle cx="336.5" cy="1108.6" r="1.6"/><circle cx="480.5" cy="1118.7" r="1.6"/><circle cx="451.9" cy="1147.4" r="1.8"/><circle cx="514.6" cy="1099.5" r="1.5"/><circle cx="416.4" cy="1085.7" r="2.4"/><circle cx="369.4" cy="1063.7" r="2"/><circle cx="463.7" cy="1098.9" r="2.1"/><circle cx="468" cy="1096" r="2"/><circle cx="369.2" cy="1131.9" r="1.5"/><circle cx="196.7" cy="1125.9" r="2.1"/><circle cx="270.5" cy="1138.4" r="2.6"/><circle cx="354.6" cy="1147.6" r="2.5"/><circle cx="427.4" cy="1081.2" r="1.2"/><circle cx="402.9" cy="1123.5" r="1.8"/><circle cx="332.5" cy="1107.5" r="1.6"/><circle cx="409.6" cy="1107" r="1.8"/><circle cx="202.4" cy="1106.2" r="1.7"/><circle cx="419.3" cy="1069.9" r="1.8"/><circle cx="232.9" cy="1092.3" r="2.1"/><circle cx="201.4" cy="1058.7" r="2"/><circle cx="234.8" cy="1101.5" r="1.5"/><circle cx="199.3" cy="1104.6" r="2.7"/><circle cx="469.9" cy="1102.5" r="1.8"/><circle cx="187.1" cy="1079.8" r="1.7"/><circle cx="495.6" cy="1064.6" r="2.7"/><circle cx="331.8" cy="1094.8" r="1.6"/><circle cx="503" cy="1071.2" r="2.1"/><circle cx="343.8" cy="1072.4" r="1.6"/><circle cx="511.1" cy="1128.8" r="2.4"/><circle cx="482" cy="1062.8" r="2.3"/><circle cx="428.3" cy="1074.9" r="1.9"/><circle cx="507.2" cy="1084.6" r="2.4"/><circle cx="222" cy="1117" r="1.6"/><circle cx="343.1" cy="1088.9" r="2.6"/><circle cx="426.3" cy="1101.5" r="2.3"/><circle cx="314.5" cy="1130" r="1.6"/><circle cx="355.6" cy="1109.2" r="1.8"/><circle cx="180.2" cy="1069.6" r="2.2"/><circle cx="238.3" cy="1125.7" r="2"/><circle cx="499.7" cy="1134.2" r="2.4"/><circle cx="295.1" cy="1057.6" r="2.1"/><circle cx="426.6" cy="1141.2" r="1.5"/><circle cx="219.6" cy="1146.8" r="2.4"/><circle cx="334.6" cy="1123.8" r="1.4"/><circle cx="355.5" cy="1117.1" r="2.2"/><circle cx="220.6" cy="1066.5" r="2.2"/><circle cx="475.5" cy="1066.6" r="1.2"/><circle cx="192.9" cy="1128.2" r="1.8"/><circle cx="324.4" cy="1148.1" r="2.2"/><circle cx="256.6" cy="1120.2" r="1.2"/><circle cx="263" cy="1120" r="1.5"/><circle cx="175.3" cy="1102.8" r="1.7"/><circle cx="506.1" cy="1063.1" r="2.5"/><circle cx="300.7" cy="1130.2" r="1.9"/><circle cx="399" cy="1084.5" r="1.6"/><circle cx="323.2" cy="1129.7" r="1.8"/><circle cx="244.8" cy="1093" r="1.4"/><circle cx="275" cy="1108" r="2.1"/><circle cx="374.3" cy="1081.1" r="1.2"/><circle cx="173.1" cy="1085.7" r="1.5"/><circle cx="364.3" cy="1078.7" r="2.4"/><circle cx="375.7" cy="1116.5" r="2.4"/><circle cx="347.6" cy="1094.1" r="1.7"/><circle cx="185.9" cy="1129.1" r="2"/><circle cx="198.9" cy="1141.7" r="2.1"/><circle cx="383.5" cy="1095.2" r="1.4"/><circle cx="516.1" cy="1069.5" r="1.8"/><circle cx="516" cy="1065.1" r="2"/><circle cx="332.8" cy="1077" r="2.7"/><circle cx="309.7" cy="1054.5" r="2"/><circle cx="165.4" cy="1120.9" r="2.6"/><circle cx="483" cy="1058" r="2.3"/><circle cx="271.2" cy="1098.5" r="1.7"/><circle cx="271.3" cy="1066.1" r="2.2"/><circle cx="195" cy="1145.3" r="1.3"/><circle cx="503.6" cy="1071.7" r="1.3"/><circle cx="426.3" cy="1104" r="2.4"/><circle cx="343" cy="1113.5" r="1.3"/><circle cx="401.3" cy="1102.2" r="2.7"/><circle cx="165.9" cy="1059.9" r="2.3"/><circle cx="490.2" cy="1093.6" r="2.3"/><circle cx="361.3" cy="1090.7" r="1.9"/><circle cx="375.8" cy="1056.2" r="1.7"/><circle cx="423.9" cy="1078" r="2"/><circle cx="254.2" cy="1087.5" r="2.2"/><circle cx="425.9" cy="1144.6" r="2"/><circle cx="235.2" cy="1085.5" r="1.3"/><circle cx="248.2" cy="1109.1" r="2.2"/><circle cx="248.9" cy="1070.7" r="1.4"/><circle cx="226.7" cy="1101.2" r="1.6"/><circle cx="475.2" cy="1107.2" r="1.7"/><circle cx="315.7" cy="1057.2" r="2.4"/><circle cx="428.5" cy="1088.1" r="2.4"/><circle cx="259.8" cy="1074.3" r="1.6"/><circle cx="233.1" cy="1111.1" r="2.2"/><circle cx="420.3" cy="1063.3" r="2.4"/><circle cx="332.3" cy="1089.5" r="2"/><circle cx="316.3" cy="1072.5" r="1.8"/><circle cx="391.5" cy="1121.6" r="2.7"/><circle cx="232.3" cy="1138.3" r="2.5"/><circle cx="415.1" cy="1146.7" r="1.4"/><circle cx="437.5" cy="1139.1" r="1.4"/><circle cx="373.4" cy="1143.6" r="1.7"/><circle cx="465.2" cy="1139.8" r="1.9"/><circle cx="214.9" cy="1074" r="2.5"/><circle cx="312.6" cy="1083.5" r="1.9"/><circle cx="490.9" cy="1077.6" r="1.2"/><circle cx="498.3" cy="1083.6" r="1.8"/><circle cx="507.7" cy="1080.3" r="1.3"/><circle cx="476.7" cy="1076.7" r="1.6"/><circle cx="494.3" cy="1075.3" r="2.6"/><circle cx="281.2" cy="1082.3" r="1.5"/><circle cx="354.9" cy="1106.8" r="1.8"/><circle cx="342.6" cy="1081.8" r="2.5"/><circle cx="492.9" cy="1125.2" r="2.5"/><circle cx="188.7" cy="1077.3" r="1.5"/><circle cx="218.3" cy="1145.7" r="2.6"/><circle cx="486" cy="1106.6" r="1.4"/><circle cx="314.3" cy="1058.8" r="2.6"/><circle cx="257.3" cy="1080.9" r="2.7"/><circle cx="234.4" cy="1141.3" r="1.7"/><circle cx="398.1" cy="1063.6" r="2.6"/><circle cx="304.3" cy="1086.3" r="2.2"/><circle cx="372.9" cy="1077.3" r="1.4"/><circle cx="366.6" cy="1055.8" r="2.6"/><circle cx="284.9" cy="1069.6" r="1.7"/><circle cx="203.9" cy="1083.6" r="2.1"/><circle cx="307.2" cy="1085.3" r="1.7"/><circle cx="335.2" cy="1127.6" r="1.9"/><circle cx="434.4" cy="1099.4" r="1.4"/><circle cx="223.8" cy="1134.2" r="2"/><circle cx="298.6" cy="1102.6" r="2.6"/><circle cx="296.1" cy="1087.9" r="1.8"/><circle cx="167.6" cy="1105.3" r="2"/><circle cx="338.5" cy="1096.5" r="2"/><circle cx="415.9" cy="1071.2" r="2.8"/><circle cx="204.2" cy="1136" r="1.5"/><circle cx="444" cy="1078.3" r="1.3"/><circle cx="354.3" cy="1133.4" r="2.6"/><circle cx="472.9" cy="1146.8" r="1.3"/><circle cx="297.4" cy="1063.6" r="2.4"/><circle cx="322.9" cy="1124.3" r="2.5"/><circle cx="515.9" cy="1117.9" r="2.6"/><circle cx="357.1" cy="1061.1" r="2.6"/><circle cx="195.9" cy="1061.6" r="2.5"/><circle cx="262.6" cy="1116.5" r="1.2"/><circle cx="238.1" cy="1121.6" r="1.3"/><circle cx="343.7" cy="1142.7" r="1.5"/><circle cx="412.2" cy="1124.3" r="2.2"/><circle cx="433.9" cy="1119.9" r="1.2"/><circle cx="231.4" cy="1104.5" r="2.8"/><circle cx="240.2" cy="1109.3" r="1.4"/><circle cx="462.2" cy="1095.8" r="2"/><circle cx="399.7" cy="1066.4" r="2.4"/><circle cx="445.7" cy="1135.3" r="1.7"/><circle cx="246.4" cy="1069.2" r="2.6"/><circle cx="318.2" cy="1090.6" r="2"/><circle cx="410" cy="1083.7" r="1.7"/><circle cx="433.8" cy="1127.4" r="1.7"/><circle cx="189.7" cy="1141.8" r="2.4"/><circle cx="373.2" cy="1092" r="2.7"/><circle cx="315.5" cy="1074.1" r="1.4"/><circle cx="287.5" cy="1110.7" r="1.8"/><circle cx="497.6" cy="1115.3" r="1.9"/><circle cx="396.5" cy="1110.8" r="2.2"/><circle cx="338.3" cy="1103.3" r="2"/><circle cx="456.8" cy="1071.7" r="2.5"/><circle cx="268.9" cy="1134.3" r="1.3"/><circle cx="334.7" cy="1095.6" r="2.3"/><circle cx="235.1" cy="1078.4" r="1.4"/><circle cx="361.7" cy="1108.4" r="1.2"/><circle cx="226.5" cy="1072.5" r="2.7"/><circle cx="324.1" cy="1107.3" r="1.7"/><circle cx="396.3" cy="1130.9" r="2.3"/><circle cx="164.3" cy="1095.3" r="2"/><circle cx="179.5" cy="1128.7" r="1.7"/><circle cx="267.2" cy="1113" r="2.1"/><circle cx="338.7" cy="1135.3" r="2"/><circle cx="284.7" cy="1059.6" r="2.1"/><circle cx="291.9" cy="1104.5" r="1.8"/><circle cx="166.2" cy="1057" r="1.5"/><circle cx="196.9" cy="1134.5" r="2.1"/><circle cx="247.8" cy="1121.1" r="2.2"/><circle cx="185.6" cy="1125" r="1.6"/><circle cx="515.3" cy="1067" r="1.7"/><circle cx="251.6" cy="1135.6" r="2.5"/><circle cx="368" cy="1067.6" r="1.9"/><circle cx="411.2" cy="1059" r="2.7"/><circle cx="460.3" cy="1142.2" r="2.3"/><circle cx="381.5" cy="1146.3" r="1.6"/><circle cx="271.5" cy="1065.2" r="1.5"/><circle cx="445.2" cy="1062.5" r="2.4"/><circle cx="303.4" cy="1137" r="2.4"/><circle cx="405.8" cy="1133.9" r="1.3"/><circle cx="257.3" cy="1088.5" r="1.9"/><circle cx="400" cy="1137.2" r="2.4"/><circle cx="491.1" cy="1119.7" r="1.8"/><circle cx="342.8" cy="1124.7" r="2.5"/><circle cx="294.1" cy="1087.3" r="2.2"/><circle cx="244.3" cy="1137.5" r="1.2"/><circle cx="392.4" cy="1099.7" r="1.5"/><circle cx="364.7" cy="1098.6" r="2.7"/><circle cx="475.6" cy="1109.3" r="2.6"/><circle cx="475.2" cy="1069.2" r="2.5"/><circle cx="457.5" cy="1147.8" r="2.4"/><circle cx="301.9" cy="1073.1" r="2.2"/><circle cx="238" cy="1125.6" r="2.1"/><circle cx="454.8" cy="1087.4" r="1.7"/><circle cx="482.5" cy="1116.5" r="1.8"/><circle cx="361.4" cy="1094.9" r="2.2"/><circle cx="345.9" cy="1080.6" r="2.8"/><circle cx="475.8" cy="1125.7" r="1.6"/><circle cx="232.2" cy="1123.1" r="2.5"/><circle cx="393.8" cy="1073.8" r="2.4"/><circle cx="348.2" cy="1089" r="2.1"/><circle cx="321.9" cy="1115.2" r="2.4"/><circle cx="510.1" cy="1064" r="2.1"/><circle cx="497" cy="1116" r="2.1"/><circle cx="464.4" cy="1056.4" r="2.5"/><circle cx="383.4" cy="1109.1" r="1.7"/><circle cx="382" cy="1065.4" r="2"/><circle cx="254.6" cy="1142.2" r="2.5"/><circle cx="330.4" cy="1125.4" r="1.8"/><circle cx="348.3" cy="1068.8" r="2.6"/><circle cx="433.1" cy="1125.8" r="1.3"/><circle cx="452.6" cy="1054.6" r="2.1"/><circle cx="335.7" cy="1059.1" r="1.9"/><circle cx="476.4" cy="1112.9" r="1.7"/><circle cx="450.8" cy="1087.3" r="2.6"/><circle cx="305.1" cy="1060.8" r="2.8"/><circle cx="188.8" cy="1077.5" r="2.4"/><circle cx="204.4" cy="1105.3" r="2.6"/><circle cx="371.7" cy="1086.6" r="2.4"/><circle cx="454.8" cy="1108.6" r="2.2"/><circle cx="277.4" cy="1092.2" r="2.8"/><circle cx="506.3" cy="1053.6" r="1.5"/><circle cx="243.2" cy="1129" r="1.5"/><circle cx="223.5" cy="1126.4" r="1.5"/><circle cx="508.3" cy="1096.8" r="2.6"/><circle cx="452.7" cy="1073.2" r="2.5"/><circle cx="310" cy="1074.6" r="1.3"/><circle cx="411.6" cy="1106.9" r="1.7"/><circle cx="457.3" cy="1072.2" r="1.9"/><circle cx="194.5" cy="1086.8" r="2.6"/><circle cx="340" cy="1068.1" r="1.6"/><circle cx="390.9" cy="1079.9" r="2.6"/><circle cx="185.1" cy="1136.2" r="2.2"/><circle cx="453.6" cy="1087.2" r="1.3"/><circle cx="224.4" cy="1113.1" r="1.2"/><circle cx="202.6" cy="1128" r="2.6"/><circle cx="465.5" cy="1133.2" r="2.1"/><circle cx="472.3" cy="1119.9" r="2.1"/><circle cx="313.8" cy="1055.8" r="1.3"/><circle cx="251.8" cy="1097.3" r="1.4"/><circle cx="505.8" cy="1108.4" r="2.4"/><circle cx="478.4" cy="1075" r="2.6"/><circle cx="501.4" cy="1078.9" r="1.4"/><circle cx="445.7" cy="1138.2" r="2.5"/><circle cx="307.7" cy="1110.8" r="1.4"/><circle cx="246.4" cy="1093.3" r="2.4"/><circle cx="195.1" cy="1141.9" r="1.2"/><circle cx="505.5" cy="1076" r="2.5"/><circle cx="452.1" cy="1144.3" r="2"/><circle cx="410.1" cy="1081.3" r="2.5"/><circle cx="202.1" cy="1137.6" r="2.1"/><circle cx="185.6" cy="1143.1" r="1.7"/><circle cx="187.8" cy="1078.1" r="1.2"/><circle cx="262.9" cy="1121.1" r="2.8"/><circle cx="386.3" cy="1134.8" r="2.5"/><circle cx="415.7" cy="1090.1" r="1.6"/><circle cx="218.8" cy="1105.5" r="1.5"/><circle cx="424.6" cy="1084" r="2.1"/><circle cx="356.4" cy="1113.2" r="1.4"/><circle cx="254.1" cy="1119" r="1.5"/><circle cx="400.4" cy="1145.4" r="1.8"/><circle cx="502.7" cy="1111.9" r="2.7"/><circle cx="349.2" cy="1125.1" r="2.3"/><circle cx="232.6" cy="1102.8" r="2.1"/><circle cx="327.2" cy="1116.3" r="2.7"/><circle cx="444" cy="1130.8" r="1.4"/><circle cx="411.6" cy="1113.2" r="2.7"/><circle cx="164.7" cy="1069.9" r="2.8"/><circle cx="295" cy="1120.7" r="2.1"/><circle cx="304" cy="1095.2" r="2.1"/><circle cx="511" cy="1104.2" r="2.5"/><circle cx="270.7" cy="1121.2" r="2.2"/><circle cx="425.8" cy="1137.2" r="1.3"/><circle cx="504.6" cy="1111.6" r="1.6"/><circle cx="327.4" cy="1062.7" r="1.6"/><circle cx="459" cy="1121.2" r="2.6"/><circle cx="221" cy="1063.7" r="1.8"/><circle cx="338.5" cy="1121.1" r="1.7"/><circle cx="423.6" cy="1109.1" r="1.7"/><circle cx="441.4" cy="1060.5" r="2.1"/><circle cx="230" cy="1057.5" r="2"/><circle cx="347" cy="1111.8" r="1.8"/><circle cx="491.4" cy="1128.1" r="1.4"/><circle cx="165.4" cy="1144.9" r="1.9"/><circle cx="200.8" cy="1070.4" r="2.3"/><circle cx="226" cy="1089" r="2.3"/><circle cx="287.9" cy="1115.7" r="2.7"/><circle cx="443.2" cy="1113.3" r="2.2"/><circle cx="272.9" cy="1114.4" r="2.2"/><circle cx="370.7" cy="1100.2" r="2.4"/><circle cx="235.8" cy="1121.4" r="2.8"/><circle cx="176.4" cy="1077.4" r="2.8"/><circle cx="192.8" cy="1131.3" r="2.1"/><circle cx="188.3" cy="1113.4" r="1.2"/><circle cx="463.1" cy="1082.2" r="2.7"/><circle cx="480.1" cy="1066.4" r="1.8"/><circle cx="217.5" cy="1125.6" r="1.4"/><circle cx="189.7" cy="1064.5" r="2.6"/><circle cx="250.8" cy="1084.2" r="1.9"/><circle cx="358.3" cy="1092.8" r="2.7"/><circle cx="283.8" cy="1098.8" r="2.6"/><circle cx="249.6" cy="1070" r="2.5"/><circle cx="275.1" cy="1138.4" r="2.5"/><circle cx="295.2" cy="1085.1" r="1.4"/><circle cx="471.6" cy="1095.6" r="1.7"/><circle cx="226" cy="1075" r="2.6"/><circle cx="209.8" cy="1106.3" r="2.2"/><circle cx="347.2" cy="1101.3" r="1.8"/><circle cx="231.3" cy="1131.6" r="2.6"/><circle cx="362.5" cy="1077.4" r="2.7"/><circle cx="234.9" cy="1069.7" r="2.2"/><circle cx="456.8" cy="1107.9" r="1.4"/><circle cx="508.8" cy="1068.3" r="1.7"/><circle cx="512.1" cy="1128.9" r="2.4"/><circle cx="190.5" cy="1134.6" r="1.8"/><circle cx="167.5" cy="1128.6" r="2.7"/><circle cx="180.5" cy="1096.7" r="2.6"/><circle cx="280.9" cy="1082.3" r="2.4"/><circle cx="319.3" cy="1148.5" r="2.6"/><circle cx="466.4" cy="1120.8" r="1.5"/><circle cx="405.9" cy="1108.5" r="2"/><circle cx="363.4" cy="1082.5" r="1.5"/><circle cx="485.3" cy="1088.4" r="1.4"/><circle cx="507.9" cy="1102.1" r="2.3"/><circle cx="283.3" cy="1067.6" r="1.7"/><circle cx="457.5" cy="1079.5" r="2.7"/><circle cx="271.1" cy="1138.9" r="1.5"/><circle cx="320.1" cy="1065.7" r="1.4"/><circle cx="347.9" cy="1088.2" r="2.1"/><circle cx="240" cy="1083" r="1.7"/><circle cx="480.4" cy="1061.1" r="1.9"/><circle cx="464.9" cy="1107.9" r="1.6"/><circle cx="515.2" cy="1063.8" r="1.4"/><circle cx="169.8" cy="1095.3" r="2.6"/><circle cx="263.3" cy="1080.6" r="2.5"/><circle cx="191.1" cy="1055.1" r="2.3"/><circle cx="194.8" cy="1103.7" r="1.4"/><circle cx="375.8" cy="1134.5" r="1.9"/><circle cx="260.1" cy="1112.8" r="2.3"/><circle cx="183.8" cy="1076.3" r="1.8"/><circle cx="342" cy="1079.5" r="2.3"/><circle cx="253.8" cy="1139.6" r="1.8"/><circle cx="241.9" cy="1060.9" r="1.4"/><circle cx="239.7" cy="1137.5" r="1.9"/><circle cx="319.9" cy="1144.9" r="2.7"/><circle cx="433.6" cy="1076.3" r="1.7"/><circle cx="341.8" cy="1078" r="1.8"/><circle cx="238.7" cy="1076.4" r="2.4"/><circle cx="376.4" cy="1095.9" r="2"/><circle cx="380" cy="1118.7" r="1.2"/><circle cx="461" cy="1097.5" r="1.7"/><circle cx="501.6" cy="1125.5" r="1.8"/><circle cx="172.4" cy="1095.1" r="1.9"/><circle cx="295.9" cy="1062.7" r="2.1"/><circle cx="253.5" cy="1126" r="2"/><circle cx="267" cy="1132.1" r="1.9"/><circle cx="193.5" cy="1080.1" r="1.3"/><circle cx="315.2" cy="1140" r="2.7"/><circle cx="393.6" cy="1068.1" r="1.6"/><circle cx="235.4" cy="1088.9" r="2.2"/><circle cx="171.6" cy="1100.1" r="1.9"/><circle cx="396.8" cy="1132.2" r="1.8"/><circle cx="376.2" cy="1079.3" r="1.9"/><circle cx="387.6" cy="1058.4" r="2"/><circle cx="340.8" cy="1070.9" r="1.6"/><circle cx="454.3" cy="1086.7" r="1.5"/><circle cx="264.1" cy="1103.1" r="1.8"/><circle cx="287.5" cy="1084.2" r="1.5"/><circle cx="341.6" cy="1110.6" r="1.3"/><circle cx="371.9" cy="1082.7" r="2.8"/><circle cx="494.4" cy="1065.9" r="2.3"/><circle cx="285.4" cy="1064" r="2.6"/><circle cx="483.9" cy="1128.4" r="2.2"/><circle cx="508.5" cy="1106.4" r="2.3"/><circle cx="393.8" cy="1135.3" r="2.6"/><circle cx="271" cy="1073.2" r="2.1"/><circle cx="371.6" cy="1087.1" r="2.6"/><circle cx="462.9" cy="1118.9" r="2.1"/><circle cx="408.8" cy="1072" r="2.5"/><circle cx="208.6" cy="1139.5" r="2.2"/><circle cx="261.5" cy="1071.6" r="2.2"/><circle cx="327.3" cy="1119.8" r="1.4"/><circle cx="472.3" cy="1094.3" r="1.9"/><circle cx="424.1" cy="1111.2" r="1.9"/><circle cx="266.9" cy="1097.8" r="1.3"/><circle cx="254" cy="1132.1" r="1.4"/><circle cx="194.1" cy="1134.2" r="1.8"/><circle cx="350.5" cy="1109.4" r="2.3"/><circle cx="276.1" cy="1126.8" r="1.2"/><circle cx="462.5" cy="1083" r="2.2"/><circle cx="270.8" cy="1124.8" r="1.8"/><circle cx="376.1" cy="1084" r="2.5"/><circle cx="437.6" cy="1072.6" r="2.4"/><circle cx="495.9" cy="1076" r="1.5"/><circle cx="491.9" cy="1145.2" r="1.4"/><circle cx="437.1" cy="1142" r="1.6"/><circle cx="438.9" cy="1081.8" r="2.5"/><circle cx="343" cy="1098.4" r="1.4"/><circle cx="393.7" cy="1120.2" r="1.7"/><circle cx="179.6" cy="1062.1" r="1.6"/><circle cx="515" cy="1124.3" r="2.6"/><circle cx="428" cy="1066.2" r="1.8"/><circle cx="498.6" cy="1134.6" r="2.8"/><circle cx="452.7" cy="1121.2" r="2.4"/><circle cx="486.3" cy="1094.3" r="1.3"/><circle cx="273.9" cy="1054.7" r="1.6"/><circle cx="371.7" cy="1079.7" r="1.6"/><circle cx="197.1" cy="1087.6" r="2"/><circle cx="372" cy="1143.3" r="1.3"/><circle cx="253.7" cy="1060.8" r="2.7"/><circle cx="386.5" cy="1116" r="2.5"/><circle cx="164.6" cy="1139.5" r="1.7"/><circle cx="385.3" cy="1091.9" r="2.4"/><circle cx="270.2" cy="1079.9" r="1.6"/><circle cx="419.2" cy="1096.9" r="1.4"/><circle cx="289" cy="1107.5" r="1.8"/><circle cx="372.6" cy="1133.7" r="2.2"/><circle cx="446.2" cy="1082.3" r="2.6"/><circle cx="495.3" cy="1103.9" r="1.2"/><circle cx="194" cy="1125.6" r="2.6"/><circle cx="419.1" cy="1101.8" r="2.1"/><circle cx="204.5" cy="1110.4" r="2.8"/><circle cx="236.2" cy="1111.6" r="2.6"/><circle cx="392.9" cy="1086.8" r="1.6"/><circle cx="422" cy="1141.8" r="2.6"/><circle cx="305" cy="1124.4" r="2.5"/><circle cx="296.1" cy="1125.4" r="1.8"/><circle cx="234.4" cy="1053.5" r="2.4"/><circle cx="429" cy="1057.5" r="1.3"/><circle cx="276.1" cy="1073.3" r="2.4"/><circle cx="230.7" cy="1109.2" r="2.1"/><circle cx="286.7" cy="1134.9" r="1.9"/><circle cx="344.2" cy="1116.9" r="1.8"/><circle cx="229.3" cy="1144.2" r="2.4"/><circle cx="356" cy="1100.7" r="2.2"/><circle cx="267.8" cy="1060.4" r="2.1"/><circle cx="481" cy="1062.9" r="2.8"/><circle cx="295.5" cy="1148.5" r="2.4"/><circle cx="259.7" cy="1073.7" r="2.6"/><circle cx="509" cy="1130.1" r="2.1"/><circle cx="355.3" cy="1128" r="2.5"/><circle cx="457.8" cy="1080.9" r="2.5"/><circle cx="499.9" cy="1108.2" r="1.2"/><circle cx="230.2" cy="1115.5" r="1.9"/><circle cx="487.2" cy="1114.6" r="2.3"/><circle cx="217.1" cy="1103.4" r="2.3"/><circle cx="486.9" cy="1139.3" r="1.6"/><circle cx="340.6" cy="1146.7" r="1.3"/><circle cx="188.7" cy="1070.7" r="2.4"/><circle cx="278.3" cy="1120.8" r="2.5"/><circle cx="448.7" cy="1057.2" r="2.3"/><circle cx="445.1" cy="1120.4" r="2.6"/><circle cx="452" cy="1111.9" r="2.6"/><circle cx="355.7" cy="1063.7" r="1.7"/><circle cx="492.5" cy="1085.5" r="2"/><circle cx="471.5" cy="1118.7" r="2.5"/><circle cx="329.5" cy="1101.8" r="1.3"/><circle cx="234.1" cy="1068.5" r="2.1"/><circle cx="349.3" cy="1060.3" r="2.2"/><circle cx="199.6" cy="1090.2" r="1.2"/><circle cx="331.2" cy="1067.2" r="2.7"/><circle cx="291.3" cy="1132.4" r="1.9"/><circle cx="279.1" cy="1133.4" r="1.6"/><circle cx="345.3" cy="1114.3" r="2.8"/><circle cx="411.8" cy="1058.3" r="1.9"/><circle cx="499.4" cy="1134.8" r="1.8"/><circle cx="209" cy="1079.1" r="2.4"/><circle cx="227.4" cy="1138.4" r="1.6"/><circle cx="406.8" cy="1119.5" r="1.6"/><circle cx="346.6" cy="1113.3" r="1.6"/><circle cx="351.3" cy="1113.2" r="2.7"/><circle cx="263.9" cy="1070" r="2"/><circle cx="374.1" cy="1099.8" r="2.7"/><circle cx="234.9" cy="1101.9" r="2"/><circle cx="233.6" cy="1096.8" r="1.9"/><circle cx="296.1" cy="1127.1" r="2.8"/><circle cx="505.4" cy="1074.2" r="1.8"/><circle cx="498.4" cy="1061.3" r="1.3"/><circle cx="186.6" cy="1144.9" r="2"/><circle cx="316.4" cy="1062.8" r="2.6"/><circle cx="513.7" cy="1119" r="2.7"/><circle cx="363.9" cy="1083.1" r="1.5"/><circle cx="270.8" cy="1067.7" r="1.8"/><circle cx="180.5" cy="1057.3" r="2.6"/><circle cx="462.7" cy="1131" r="1.8"/><circle cx="322.6" cy="1105.2" r="2.5"/><circle cx="270.8" cy="1102.2" r="2.1"/><circle cx="460.2" cy="1086.7" r="1.2"/><circle cx="306.1" cy="1137.6" r="1.5"/><circle cx="384.5" cy="1066.1" r="1.6"/><circle cx="384" cy="1063.2" r="1.9"/><circle cx="370.6" cy="1090.4" r="2.4"/><circle cx="462.1" cy="1080" r="2.4"/><circle cx="430.1" cy="1110.2" r="2.1"/><circle cx="363.9" cy="1123.9" r="2.3"/><circle cx="259.3" cy="1115.4" r="2.3"/><circle cx="326.7" cy="1138.8" r="1.7"/><circle cx="358.1" cy="1107.6" r="2.2"/><circle cx="228.6" cy="1117.1" r="1.4"/><circle cx="351.7" cy="1096.4" r="2.3"/><circle cx="466.1" cy="1147.2" r="1.6"/><circle cx="484.5" cy="1098.4" r="2"/><circle cx="178.1" cy="1135.3" r="1.6"/><circle cx="261.6" cy="1082.5" r="1.6"/><circle cx="265.6" cy="1080.9" r="2.1"/><circle cx="290.6" cy="1125.5" r="2.7"/><circle cx="492.2" cy="1089.2" r="2.3"/><circle cx="422" cy="1122.5" r="1.8"/><circle cx="231.6" cy="1125.6" r="2.3"/><circle cx="287.6" cy="1116.9" r="1.3"/><circle cx="440" cy="1139" r="2.8"/><circle cx="204" cy="1119.3" r="2.5"/><circle cx="213.6" cy="1111.5" r="1.5"/><circle cx="240.7" cy="1056.1" r="1.6"/><circle cx="463.2" cy="1109.3" r="2.5"/><circle cx="505.8" cy="1067.9" r="2.6"/><circle cx="479.5" cy="1115.3" r="1.7"/><circle cx="225.6" cy="1095.3" r="1.8"/><circle cx="255.6" cy="1117.7" r="2.2"/><circle cx="254.8" cy="1069.9" r="2"/><circle cx="414.3" cy="1116.8" r="2.2"/><circle cx="479.9" cy="1125.6" r="1.9"/><circle cx="426.6" cy="1116.8" r="1.7"/><circle cx="222.7" cy="1089.4" r="2.3"/><circle cx="428.4" cy="1082.4" r="2.1"/><circle cx="190.1" cy="1110.4" r="1.9"/><circle cx="434.4" cy="1135.4" r="1.3"/><circle cx="503.9" cy="1069.8" r="2.7"/><circle cx="511.1" cy="1074.6" r="1.7"/><circle cx="215" cy="1140.2" r="2.4"/><circle cx="504.3" cy="1130.3" r="1.8"/><circle cx="436.6" cy="1087.4" r="1.7"/><circle cx="313.9" cy="1120.1" r="1.7"/><circle cx="361.2" cy="1107.5" r="2.5"/><circle cx="329.5" cy="1093.5" r="2.1"/><circle cx="326.2" cy="1123.1" r="1.4"/><circle cx="226.4" cy="1057.1" r="1.9"/><circle cx="462.9" cy="1110.6" r="2.2"/><circle cx="493.5" cy="1131.7" r="1.7"/><circle cx="242.1" cy="1104.6" r="1.6"/><circle cx="373.9" cy="1061" r="1.8"/><circle cx="418.2" cy="1077.7" r="1.4"/><circle cx="427.6" cy="1071.9" r="2.6"/><circle cx="379.8" cy="1138.1" r="2.1"/><circle cx="336.1" cy="1078" r="1.3"/><circle cx="499.8" cy="1074.3" r="1.3"/><circle cx="492.4" cy="1104.6" r="2.1"/><circle cx="487.7" cy="1123.2" r="1.6"/><circle cx="263.6" cy="1116" r="2.3"/><circle cx="243.2" cy="1077.2" r="2"/><circle cx="184.7" cy="1130.1" r="2.3"/><circle cx="217" cy="1108.6" r="2.1"/><circle cx="195.1" cy="1094.4" r="2.5"/><circle cx="324.1" cy="1122.7" r="1.6"/><circle cx="515.6" cy="1117.1" r="2.1"/><circle cx="167.7" cy="1087.3" r="1.2"/><circle cx="318.5" cy="1070.3" r="1.6"/><circle cx="271.5" cy="1067.2" r="1.7"/><circle cx="341.3" cy="1066.2" r="2.1"/><circle cx="498.3" cy="1122.1" r="2.7"/><circle cx="202.1" cy="1116.4" r="1.6"/><circle cx="493.3" cy="1100.7" r="2.4"/><circle cx="437.3" cy="1066.1" r="1.4"/><circle cx="449.5" cy="1131.4" r="1.9"/><circle cx="172.4" cy="1055.7" r="2.5"/><circle cx="408.8" cy="1089" r="2.3"/><circle cx="448.5" cy="1054.1" r="2.4"/><circle cx="508.5" cy="1136.2" r="2.6"/><circle cx="318.8" cy="1111.2" r="1.4"/><circle cx="443.1" cy="1116.3" r="1.8"/><circle cx="181.2" cy="1070.5" r="1.8"/><circle cx="488.3" cy="1098.4" r="2.6"/><circle cx="229.8" cy="1077.6" r="1.6"/><circle cx="265.1" cy="1129.2" r="1.8"/><circle cx="276.6" cy="1118.3" r="1.9"/><circle cx="473.5" cy="1119.7" r="2.5"/><circle cx="314.4" cy="1091" r="1.9"/><circle cx="511.9" cy="1143.4" r="2.1"/><circle cx="337.7" cy="1060.3" r="2.6"/><circle cx="378.8" cy="1092.7" r="1.5"/><circle cx="329.7" cy="1120.9" r="1.6"/><circle cx="257.3" cy="1102.1" r="2"/><circle cx="166.2" cy="1059.4" r="1.8"/><circle cx="413.7" cy="1089.8" r="1.2"/><circle cx="249.6" cy="1072" r="2.4"/><circle cx="244.1" cy="1146.9" r="1.7"/><circle cx="227.3" cy="1055.2" r="2"/><circle cx="345.5" cy="1127.8" r="2.3"/><circle cx="355.1" cy="1058.5" r="2.7"/><circle cx="251.1" cy="1075.8" r="1.5"/><circle cx="371" cy="1115.8" r="1.7"/><circle cx="254.4" cy="1054.5" r="2.2"/><circle cx="414.6" cy="1064.8" r="1.6"/><circle cx="428.7" cy="1121.1" r="1.4"/><circle cx="512" cy="1121.7" r="2.3"/><circle cx="276.9" cy="1145.5" r="1.9"/><circle cx="388.2" cy="1147" r="2.5"/><circle cx="225.7" cy="1065.8" r="1.5"/><circle cx="205.9" cy="1137.8" r="2.1"/><circle cx="331.6" cy="1088.6" r="2"/><circle cx="317.8" cy="1122.5" r="1.9"/><circle cx="469.3" cy="1134" r="2.6"/><circle cx="428.1" cy="1069.9" r="1.9"/><circle cx="460" cy="1087.4" r="2.1"/><circle cx="238.2" cy="1132" r="1.7"/><circle cx="291.2" cy="1131.3" r="1.3"/><circle cx="166.1" cy="1093.9" r="1.9"/><circle cx="203.5" cy="1090.8" r="2.4"/><circle cx="475.1" cy="1141.3" r="2.5"/><circle cx="189.9" cy="1088.3" r="1.9"/><circle cx="173.7" cy="1127.8" r="1.6"/><circle cx="438.7" cy="1117.8" r="1.6"/><circle cx="284.4" cy="1096.3" r="1.5"/><circle cx="167.8" cy="1093.6" r="1.6"/><circle cx="253.5" cy="1128.4" r="2.4"/><circle cx="308.6" cy="1055.8" r="2.4"/><circle cx="256.5" cy="1063" r="2.4"/><circle cx="482.9" cy="1077.8" r="2.1"/><circle cx="476.6" cy="1102.9" r="1.8"/><circle cx="218.8" cy="1056.1" r="2.6"/><circle cx="449.9" cy="1070.7" r="2.2"/><circle cx="231.5" cy="1124.6" r="1.8"/><circle cx="409.1" cy="1104.3" r="1.3"/><circle cx="364.4" cy="1115.8" r="1.3"/><circle cx="176.7" cy="1079.1" r="2.4"/><circle cx="508.1" cy="1096" r="2.6"/><circle cx="414.2" cy="1079.4" r="1.9"/><circle cx="461.7" cy="1099.4" r="2"/><circle cx="418.2" cy="1067.5" r="1.9"/><circle cx="347.1" cy="1107.5" r="2.3"/><circle cx="259.3" cy="1098.6" r="1.9"/><circle cx="200.2" cy="1128.4" r="2.7"/><circle cx="361.1" cy="1092.6" r="1.8"/><circle cx="323.5" cy="1088.7" r="1.6"/><circle cx="498.1" cy="1088.3" r="1.5"/><circle cx="396" cy="1053.9" r="1.8"/><circle cx="361.4" cy="1131.5" r="1.7"/><circle cx="182.1" cy="1145.6" r="1.2"/><circle cx="311.2" cy="1102.2" r="2.8"/><circle cx="289.3" cy="1076.5" r="1.7"/><circle cx="296" cy="1067.3" r="2.6"/><circle cx="344.7" cy="1123.4" r="1.6"/><circle cx="398.7" cy="1140.4" r="1.6"/><circle cx="500.7" cy="1080.6" r="2.3"/><circle cx="495.7" cy="1097.6" r="2.7"/><circle cx="303.2" cy="1095.1" r="2.7"/><circle cx="376" cy="1058.5" r="1.4"/><circle cx="352.3" cy="1085.8" r="1.3"/><circle cx="450.8" cy="1084.5" r="2.6"/><circle cx="292.9" cy="1070.9" r="1.9"/><circle cx="455.1" cy="1139.6" r="2.1"/><circle cx="252.5" cy="1103.7" r="1.6"/><circle cx="291.1" cy="1054.1" r="1.2"/><circle cx="492.5" cy="1126.5" r="1.6"/><circle cx="380.7" cy="1057.3" r="2.5"/><circle cx="379.8" cy="1122" r="1.9"/><circle cx="317" cy="1131.1" r="1.7"/><circle cx="191.1" cy="1064.4" r="2.7"/><circle cx="261.7" cy="1059.5" r="2.1"/><circle cx="209.4" cy="1094.1" r="2.4"/><circle cx="246.1" cy="1093.6" r="2.7"/><circle cx="470.1" cy="1136.2" r="1.3"/><circle cx="506.6" cy="1106.8" r="1.4"/><circle cx="511.2" cy="1065.1" r="2.8"/><circle cx="174.6" cy="1060.9" r="2"/><circle cx="378.3" cy="1109.2" r="2.5"/><circle cx="201.9" cy="1122.5" r="1.7"/><circle cx="500.2" cy="1113" r="2.3"/><circle cx="210.4" cy="1140.5" r="1.7"/><circle cx="237.3" cy="1093.5" r="2.5"/><circle cx="277.5" cy="1098.3" r="2.2"/><circle cx="250.8" cy="1064.7" r="1.9"/><circle cx="415" cy="1118" r="1.5"/><circle cx="395.5" cy="1133.1" r="2.3"/><circle cx="228.3" cy="1057.5" r="2.8"/><circle cx="413.8" cy="1079.5" r="2.4"/><circle cx="368.3" cy="1113.5" r="1.8"/><circle cx="399.3" cy="1089.9" r="1.8"/><circle cx="278.1" cy="1123.6" r="2.6"/><circle cx="266.5" cy="1060.6" r="1.6"/><circle cx="430.2" cy="1087.4" r="1.2"/><circle cx="461.1" cy="1094.8" r="1.3"/><circle cx="427.1" cy="1101.8" r="2.6"/><circle cx="458" cy="1131.9" r="2.6"/><circle cx="299.1" cy="1130.5" r="2"/><circle cx="393.5" cy="1074.1" r="2.2"/></g></g>
<clipPath id="foam2"><path d="M70.6,1162.2 C70.4,1158.5 69.4,1150.4 73.6,1141.2 C77.9,1131.9 88.4,1114.9 96.2,1106.6 C103.9,1098.4 112.3,1095.9 120.2,1091.6 C128.1,1087.3 137.9,1080.6 143.6,1081.1 C149.4,1081.6 152.4,1088.1 154.7,1094.6 C157.1,1101.1 157.8,1109.6 157.8,1120.1 C157.8,1130.7 159,1152.1 154.7,1157.7 C150.5,1163.3 140.5,1154 132.2,1153.8 C123.9,1153.5 114.7,1154.5 105.2,1156.2 C95.7,1157.9 80.9,1162.7 75.1,1163.7 C69.4,1164.7 70.9,1166 70.6,1162.2 Z"/></clipPath>
<g clip-path="url(#t1)"><g clip-path="url(#foam2)" fill="#f4f4f5"><circle cx="91.2" cy="1089.6" r="1.8"/><circle cx="84.1" cy="1086.6" r="1.8"/><circle cx="150.6" cy="1147.2" r="2.4"/><circle cx="90" cy="1125.4" r="1.6"/><circle cx="85.7" cy="1089.9" r="1.5"/><circle cx="151.4" cy="1149.6" r="2.5"/><circle cx="140.4" cy="1097.1" r="1.7"/><circle cx="125.2" cy="1141.6" r="2.6"/><circle cx="147.3" cy="1088.2" r="2.2"/><circle cx="129.1" cy="1122.9" r="1.5"/><circle cx="111.9" cy="1088.5" r="2.7"/><circle cx="146" cy="1126.3" r="1.7"/><circle cx="149.8" cy="1128.4" r="2.6"/><circle cx="144.5" cy="1123.1" r="1.9"/><circle cx="122.8" cy="1116.7" r="1.5"/><circle cx="97.2" cy="1148.2" r="1.3"/><circle cx="74.6" cy="1132.8" r="1.6"/><circle cx="117.2" cy="1120" r="1.7"/><circle cx="157.5" cy="1097.2" r="1.9"/><circle cx="88.3" cy="1133.4" r="1.6"/><circle cx="101.6" cy="1142.8" r="1.7"/><circle cx="119.3" cy="1155.8" r="1.4"/><circle cx="76" cy="1100" r="2.4"/><circle cx="124.2" cy="1100.7" r="1.7"/><circle cx="86.1" cy="1119" r="1.3"/><circle cx="131.4" cy="1155.1" r="2.7"/><circle cx="134.6" cy="1160.4" r="1.2"/><circle cx="95.8" cy="1160.9" r="2.4"/><circle cx="106.4" cy="1159" r="2.2"/><circle cx="141.9" cy="1105.3" r="1.5"/><circle cx="109.3" cy="1092.4" r="1.8"/><circle cx="154.4" cy="1108.5" r="1.2"/><circle cx="74.5" cy="1095.1" r="2.5"/><circle cx="102.2" cy="1105.1" r="1.4"/><circle cx="156.2" cy="1116.1" r="1.5"/><circle cx="75.8" cy="1085.6" r="1.5"/><circle cx="129.6" cy="1093.4" r="1.3"/><circle cx="113.4" cy="1101.7" r="2.8"/><circle cx="81.3" cy="1124.8" r="2.4"/><circle cx="106.3" cy="1162.7" r="2"/><circle cx="91.7" cy="1115" r="1.3"/><circle cx="107.3" cy="1101.6" r="2.6"/><circle cx="143" cy="1122.3" r="1.3"/><circle cx="92.8" cy="1101.1" r="1.5"/><circle cx="90.8" cy="1152.9" r="1.4"/><circle cx="75.1" cy="1157.8" r="2.1"/><circle cx="156.9" cy="1114.4" r="2.6"/><circle cx="127.6" cy="1146.4" r="2.4"/><circle cx="113.7" cy="1088.8" r="1.5"/><circle cx="146.8" cy="1155.4" r="2.7"/><circle cx="99.9" cy="1135.4" r="2.5"/><circle cx="126.6" cy="1148.4" r="2"/><circle cx="127.7" cy="1137.8" r="1.6"/><circle cx="151" cy="1160.1" r="1.3"/><circle cx="155.2" cy="1160.6" r="2.3"/><circle cx="74.5" cy="1155.4" r="1.4"/><circle cx="155" cy="1136.2" r="1.3"/><circle cx="85.2" cy="1133.6" r="2.1"/><circle cx="135.7" cy="1157.7" r="1.5"/><circle cx="70.9" cy="1157.3" r="1.2"/><circle cx="147" cy="1090.7" r="2.5"/><circle cx="138.8" cy="1153.6" r="2.1"/><circle cx="147.2" cy="1097.7" r="2.3"/><circle cx="99.4" cy="1154.8" r="2.4"/><circle cx="111.7" cy="1124.6" r="1.2"/><circle cx="73.6" cy="1130.2" r="2"/><circle cx="146" cy="1131.3" r="1.4"/><circle cx="102.2" cy="1144.5" r="2"/><circle cx="71.5" cy="1150.3" r="2.5"/><circle cx="78" cy="1126" r="1.8"/><circle cx="139.2" cy="1106.8" r="1.6"/><circle cx="113" cy="1160.9" r="1.4"/><circle cx="80.6" cy="1132.4" r="2.6"/><circle cx="115.3" cy="1116.9" r="2.6"/><circle cx="138.3" cy="1086.6" r="2.6"/><circle cx="87.7" cy="1106.1" r="2.5"/><circle cx="107.4" cy="1147.1" r="1.5"/><circle cx="146.8" cy="1095.7" r="1.4"/><circle cx="113.7" cy="1109.1" r="2.1"/><circle cx="149.4" cy="1139.8" r="1.2"/><circle cx="97.8" cy="1126.1" r="2"/><circle cx="133" cy="1121.1" r="1.3"/><circle cx="92" cy="1151.1" r="1.8"/><circle cx="137.4" cy="1162.5" r="2.2"/><circle cx="129.6" cy="1131.4" r="1.7"/><circle cx="150.2" cy="1119.7" r="2.7"/><circle cx="97.2" cy="1152.8" r="2.5"/><circle cx="124" cy="1117.6" r="1.4"/><circle cx="137.8" cy="1111" r="2.3"/><circle cx="82.2" cy="1087.9" r="1.4"/><circle cx="141.1" cy="1095.8" r="2.6"/><circle cx="103" cy="1128.7" r="1.8"/><circle cx="124.7" cy="1088.8" r="1.8"/><circle cx="152.2" cy="1095.9" r="2.2"/><circle cx="99.1" cy="1105.9" r="1.2"/><circle cx="72.4" cy="1159.5" r="2.5"/><circle cx="140.4" cy="1147.8" r="2.7"/><circle cx="84.4" cy="1129.4" r="2"/><circle cx="120.6" cy="1158.6" r="2.4"/><circle cx="155" cy="1090.7" r="2.2"/><circle cx="129.5" cy="1142.7" r="2.2"/><circle cx="143" cy="1106.1" r="2.7"/><circle cx="106" cy="1130.6" r="2.6"/><circle cx="131.9" cy="1106.7" r="1.6"/><circle cx="99.1" cy="1132.9" r="2.8"/><circle cx="149" cy="1114.2" r="1.8"/><circle cx="141.8" cy="1104.5" r="1.9"/><circle cx="71.8" cy="1096.3" r="2.1"/><circle cx="131" cy="1131.9" r="1.8"/><circle cx="153.5" cy="1132.6" r="1.4"/><circle cx="76.5" cy="1161.5" r="2.8"/><circle cx="150.8" cy="1131" r="1.7"/><circle cx="78.6" cy="1102.4" r="1.6"/><circle cx="151.5" cy="1154.8" r="2.4"/><circle cx="83.6" cy="1100.8" r="1.7"/><circle cx="153.2" cy="1094.6" r="2.5"/><circle cx="129.9" cy="1126.3" r="2.7"/><circle cx="93.5" cy="1124.4" r="1.5"/><circle cx="79" cy="1083.7" r="1.7"/><circle cx="81.2" cy="1086.1" r="2.8"/><circle cx="95.8" cy="1154.6" r="2.3"/><circle cx="134.3" cy="1135.2" r="2.7"/><circle cx="147.2" cy="1140.5" r="2.1"/><circle cx="131.1" cy="1140.9" r="2.1"/><circle cx="114.4" cy="1093.8" r="2.6"/><circle cx="112.8" cy="1086.7" r="1.5"/><circle cx="146.8" cy="1102.2" r="1.8"/><circle cx="130.1" cy="1152.3" r="1.7"/><circle cx="104.3" cy="1116" r="1.2"/><circle cx="147" cy="1082.7" r="2.7"/><circle cx="83.9" cy="1094" r="2.6"/><circle cx="142.4" cy="1100.3" r="2.1"/><circle cx="112.2" cy="1140.5" r="1.5"/><circle cx="142.5" cy="1163.4" r="2.3"/><circle cx="150.9" cy="1158.5" r="1.8"/><circle cx="144.5" cy="1150" r="2.1"/><circle cx="80" cy="1132.3" r="2.7"/><circle cx="97.2" cy="1134.5" r="2.6"/><circle cx="122.9" cy="1084.2" r="2.2"/><circle cx="92.9" cy="1152" r="2.3"/><circle cx="97.4" cy="1155.1" r="2.2"/><circle cx="100.2" cy="1150" r="2.6"/><circle cx="148.4" cy="1154.1" r="2.3"/><circle cx="131.5" cy="1131" r="2"/><circle cx="156.7" cy="1110.3" r="1.3"/><circle cx="132.8" cy="1122.2" r="2.1"/><circle cx="122.7" cy="1101.7" r="1.5"/><circle cx="76.8" cy="1145.7" r="2.7"/><circle cx="131.3" cy="1090.7" r="2.8"/><circle cx="142.6" cy="1123.2" r="1.2"/><circle cx="144.1" cy="1132.6" r="2.2"/><circle cx="72.2" cy="1141.7" r="1.3"/><circle cx="112.3" cy="1093.1" r="1.8"/><circle cx="148.2" cy="1142.9" r="2.5"/><circle cx="96.6" cy="1113.2" r="2.2"/><circle cx="73.6" cy="1115.2" r="2.8"/><circle cx="136.3" cy="1152.4" r="1.7"/><circle cx="130.8" cy="1146.3" r="2.3"/><circle cx="108.7" cy="1095.5" r="1.2"/><circle cx="147.9" cy="1158.1" r="1.6"/><circle cx="136.5" cy="1114.7" r="2.2"/><circle cx="144" cy="1107.6" r="2.2"/><circle cx="92.9" cy="1123.3" r="1.2"/><circle cx="93.6" cy="1104.8" r="2.7"/><circle cx="82.2" cy="1143.7" r="1.3"/><circle cx="156.6" cy="1094.8" r="1.3"/><circle cx="89.1" cy="1158.2" r="2.3"/><circle cx="148.2" cy="1122.3" r="1.4"/><circle cx="100.3" cy="1118.7" r="2.8"/><circle cx="85.1" cy="1101.3" r="2.5"/><circle cx="80.5" cy="1161.4" r="1.7"/><circle cx="120" cy="1135.7" r="2.7"/><circle cx="77.2" cy="1151.1" r="1.5"/><circle cx="133.2" cy="1083.3" r="2.4"/><circle cx="86.4" cy="1098.1" r="1.3"/><circle cx="98.9" cy="1108.2" r="2.8"/><circle cx="123.5" cy="1111.2" r="2.8"/><circle cx="85.6" cy="1098.8" r="2.7"/><circle cx="153.5" cy="1137.6" r="2.8"/><circle cx="75.6" cy="1155.7" r="2.3"/><circle cx="128.8" cy="1150.8" r="1.4"/><circle cx="88" cy="1092.5" r="2"/><circle cx="118.2" cy="1125.8" r="1.8"/><circle cx="135.4" cy="1150.4" r="2.4"/><circle cx="73.9" cy="1093.7" r="1.6"/><circle cx="91.4" cy="1128.5" r="1.5"/><circle cx="125" cy="1109.5" r="1.8"/><circle cx="132.3" cy="1159.1" r="1.5"/><circle cx="101" cy="1162.2" r="1.5"/><circle cx="73" cy="1096.9" r="2.5"/><circle cx="134.3" cy="1158.6" r="2"/><circle cx="74.2" cy="1106.4" r="2.4"/><circle cx="104.8" cy="1092.6" r="1.8"/><circle cx="111" cy="1110.5" r="1.9"/><circle cx="82.5" cy="1083.5" r="2.5"/><circle cx="134.4" cy="1115.7" r="1.4"/><circle cx="96.4" cy="1127.2" r="2.6"/><circle cx="112.6" cy="1161.5" r="2"/><circle cx="86.4" cy="1131.9" r="2.2"/><circle cx="122.8" cy="1141" r="1.2"/><circle cx="108.7" cy="1147.2" r="1.4"/><circle cx="74.3" cy="1096.2" r="1.7"/><circle cx="108.5" cy="1107.1" r="2.2"/><circle cx="85.4" cy="1109.6" r="2.3"/><circle cx="118" cy="1160.3" r="2.7"/><circle cx="93.1" cy="1108.8" r="2.1"/><circle cx="118" cy="1111.3" r="2.6"/><circle cx="87.8" cy="1120" r="1.4"/><circle cx="147.6" cy="1130.3" r="2.8"/><circle cx="83.1" cy="1139.8" r="2.2"/><circle cx="75.1" cy="1148.8" r="2.6"/><circle cx="77.6" cy="1158.9" r="2.5"/><circle cx="123.3" cy="1126" r="1.6"/><circle cx="75.6" cy="1120.4" r="2.6"/><circle cx="88.8" cy="1120.1" r="1.7"/><circle cx="130.8" cy="1160.4" r="2.6"/><circle cx="95.7" cy="1115.5" r="1.2"/><circle cx="116.7" cy="1151.6" r="2.6"/><circle cx="76.9" cy="1116.9" r="1.3"/><circle cx="107.6" cy="1156.5" r="1.7"/><circle cx="144.3" cy="1160" r="2.5"/><circle cx="88.2" cy="1157" r="2.7"/><circle cx="157.6" cy="1082" r="1.2"/><circle cx="96" cy="1123.9" r="1.9"/><circle cx="78.7" cy="1134" r="2.3"/><circle cx="125.5" cy="1123.3" r="2.1"/><circle cx="130.7" cy="1086.4" r="1.9"/><circle cx="82.4" cy="1089.7" r="2.4"/><circle cx="98.9" cy="1109.1" r="1.6"/><circle cx="121.8" cy="1090.8" r="2.2"/><circle cx="76.7" cy="1160" r="1.5"/><circle cx="137.5" cy="1126.1" r="1.9"/><circle cx="97.1" cy="1110.8" r="2.4"/><circle cx="116.3" cy="1125.4" r="1.6"/><circle cx="125.1" cy="1095.2" r="2"/><circle cx="127.4" cy="1126.1" r="2.1"/><circle cx="120.3" cy="1097.1" r="2.7"/><circle cx="130.2" cy="1141" r="2.7"/><circle cx="110" cy="1108.6" r="1.7"/><circle cx="98.2" cy="1105.9" r="1.7"/><circle cx="88.8" cy="1121.1" r="1.7"/><circle cx="102.7" cy="1135.9" r="1.7"/><circle cx="145.8" cy="1147" r="1.7"/><circle cx="143.3" cy="1095.7" r="1.4"/><circle cx="157.3" cy="1083.8" r="1.2"/><circle cx="146.2" cy="1081.3" r="2.2"/><circle cx="119" cy="1099.5" r="1.6"/><circle cx="154.9" cy="1113.6" r="1.6"/><circle cx="109.1" cy="1141.6" r="1.7"/><circle cx="78.4" cy="1146.4" r="1.4"/><circle cx="75.4" cy="1081.5" r="2.8"/><circle cx="108.4" cy="1142" r="2.1"/><circle cx="155.6" cy="1109.4" r="1.8"/><circle cx="130.1" cy="1081.1" r="1.8"/><circle cx="136.8" cy="1128.4" r="2"/><circle cx="152.2" cy="1116.8" r="2.4"/><circle cx="104.8" cy="1088.2" r="1.8"/><circle cx="89" cy="1083.3" r="1.7"/><circle cx="81.6" cy="1118.8" r="2.4"/><circle cx="136.7" cy="1154.1" r="1.7"/><circle cx="129" cy="1154.6" r="1.8"/><circle cx="150.2" cy="1089.6" r="2.7"/><circle cx="147.4" cy="1162.1" r="2.5"/><circle cx="132.6" cy="1117" r="2.3"/><circle cx="147.2" cy="1128.7" r="2.2"/><circle cx="151.2" cy="1104.6" r="1.7"/><circle cx="73.7" cy="1153.6" r="2.2"/><circle cx="129.2" cy="1100.8" r="1.5"/><circle cx="112.3" cy="1153.6" r="1.8"/><circle cx="107.4" cy="1115.6" r="2.6"/><circle cx="81.4" cy="1152.6" r="1.2"/><circle cx="131.5" cy="1144.2" r="2"/><circle cx="135.3" cy="1104.3" r="1.4"/><circle cx="102" cy="1103" r="2.3"/><circle cx="119.8" cy="1135.7" r="2.8"/><circle cx="138" cy="1146.5" r="2.8"/><circle cx="151.5" cy="1142.4" r="1.8"/><circle cx="114.9" cy="1143.5" r="2.5"/><circle cx="149" cy="1142.4" r="2.3"/><circle cx="92.8" cy="1132.4" r="1.5"/><circle cx="127" cy="1095.6" r="1.2"/><circle cx="153.9" cy="1153" r="1.7"/><circle cx="74.5" cy="1148.7" r="2.4"/><circle cx="84.1" cy="1148.6" r="2.5"/><circle cx="120.7" cy="1103.7" r="1.3"/><circle cx="76.1" cy="1117.5" r="2.4"/><circle cx="126.2" cy="1099.7" r="2.5"/><circle cx="76.1" cy="1131.8" r="1.5"/><circle cx="71.1" cy="1097.1" r="2.5"/><circle cx="89.8" cy="1082.2" r="2"/><circle cx="101" cy="1128.5" r="2.1"/><circle cx="132.3" cy="1156.7" r="1.7"/><circle cx="125.9" cy="1090.9" r="1.6"/><circle cx="79" cy="1152.3" r="1.7"/><circle cx="132.5" cy="1153.6" r="1.8"/><circle cx="88.6" cy="1101.6" r="2"/><circle cx="104.4" cy="1086.9" r="2.6"/><circle cx="126.3" cy="1153.1" r="2.6"/><circle cx="133.8" cy="1149.2" r="2.3"/><circle cx="107.9" cy="1148.7" r="2.7"/><circle cx="80" cy="1093" r="1.5"/><circle cx="110.3" cy="1152.5" r="2"/><circle cx="145.1" cy="1111.4" r="2.1"/><circle cx="92.1" cy="1134" r="1.6"/><circle cx="71.3" cy="1114" r="2.1"/><circle cx="147.4" cy="1104.7" r="2.7"/><circle cx="141.3" cy="1094.1" r="2.4"/><circle cx="152.1" cy="1160.6" r="2.3"/><circle cx="104.6" cy="1126" r="2.2"/><circle cx="124" cy="1096.7" r="2.6"/><circle cx="117.7" cy="1087" r="1.7"/><circle cx="77.6" cy="1119.2" r="1.4"/><circle cx="116.8" cy="1104.1" r="2.5"/><circle cx="137.6" cy="1096.6" r="2.5"/><circle cx="121.3" cy="1103.4" r="2.7"/><circle cx="71.2" cy="1114" r="2.2"/><circle cx="84.8" cy="1121.7" r="2.6"/><circle cx="100.6" cy="1139.6" r="1.5"/><circle cx="155.6" cy="1160.7" r="1.5"/><circle cx="137.2" cy="1108.7" r="1.3"/><circle cx="89" cy="1141.3" r="1.9"/><circle cx="116.8" cy="1091.6" r="1.5"/><circle cx="102.4" cy="1123.5" r="2.5"/><circle cx="109.8" cy="1108.2" r="2.7"/><circle cx="130.8" cy="1143.5" r="2.5"/><circle cx="112.8" cy="1102.6" r="1.4"/><circle cx="127.9" cy="1142.9" r="2.6"/><circle cx="150.7" cy="1122.7" r="2"/><circle cx="154.7" cy="1088.2" r="1.8"/><circle cx="118.1" cy="1130.8" r="2.2"/><circle cx="84.4" cy="1123.1" r="1.5"/><circle cx="104.1" cy="1095.9" r="1.7"/><circle cx="125.2" cy="1114" r="1.5"/><circle cx="111.5" cy="1136.4" r="1.7"/><circle cx="94.3" cy="1117.1" r="2.3"/><circle cx="73.8" cy="1136.7" r="1.3"/><circle cx="148.2" cy="1096.9" r="2.5"/><circle cx="73.6" cy="1121.8" r="1.6"/><circle cx="138.2" cy="1144.8" r="1.4"/><circle cx="75.1" cy="1141.4" r="1.9"/><circle cx="103.1" cy="1109.9" r="1.8"/><circle cx="120.9" cy="1113.2" r="1.4"/><circle cx="111.7" cy="1162.8" r="2.4"/><circle cx="133.2" cy="1157.7" r="1.9"/><circle cx="102.2" cy="1146.6" r="1.4"/><circle cx="137.4" cy="1093.3" r="2.2"/><circle cx="115.4" cy="1144.9" r="1.3"/><circle cx="129.1" cy="1149.4" r="1.3"/><circle cx="130.2" cy="1104.2" r="2.4"/><circle cx="155.9" cy="1081.3" r="1.9"/><circle cx="114.1" cy="1162.2" r="2.7"/><circle cx="73.1" cy="1092.4" r="1.9"/><circle cx="140.7" cy="1146.3" r="2.1"/><circle cx="150.9" cy="1148.9" r="2.6"/><circle cx="125.9" cy="1102.5" r="2.4"/><circle cx="133" cy="1157.8" r="1.5"/><circle cx="72.5" cy="1109.3" r="1.6"/><circle cx="104.3" cy="1086" r="2.2"/><circle cx="107.9" cy="1103" r="1.4"/><circle cx="120.6" cy="1089.3" r="2.6"/><circle cx="94.7" cy="1155.3" r="1.4"/><circle cx="104.6" cy="1145.4" r="2"/><circle cx="109.6" cy="1153.9" r="1.5"/><circle cx="144.8" cy="1123.6" r="1.7"/><circle cx="101.1" cy="1104.1" r="2.2"/><circle cx="109" cy="1123.9" r="2.2"/><circle cx="145.5" cy="1138.8" r="1.7"/><circle cx="128.6" cy="1138.3" r="2.7"/><circle cx="104.3" cy="1125.1" r="2.4"/><circle cx="99.8" cy="1108" r="2.2"/><circle cx="103.2" cy="1151.1" r="1.8"/><circle cx="89.8" cy="1131.5" r="2.2"/><circle cx="156.9" cy="1159" r="1.9"/><circle cx="109.7" cy="1134.9" r="2"/><circle cx="121.8" cy="1114.2" r="2.6"/><circle cx="148.4" cy="1146.4" r="2.4"/><circle cx="148" cy="1102.2" r="2.7"/><circle cx="88.2" cy="1089.4" r="2"/><circle cx="84.4" cy="1102.2" r="2.2"/><circle cx="83.6" cy="1114" r="1.8"/><circle cx="152.8" cy="1087.6" r="2"/><circle cx="111.4" cy="1094.5" r="1.8"/><circle cx="102.3" cy="1110.7" r="2.1"/><circle cx="119.1" cy="1119.6" r="1.9"/><circle cx="123.7" cy="1121.1" r="1.4"/><circle cx="127.8" cy="1114.9" r="2.6"/><circle cx="82.1" cy="1126.2" r="1.7"/><circle cx="125.7" cy="1148.7" r="2.2"/><circle cx="120.4" cy="1158.1" r="1.6"/><circle cx="157.4" cy="1117.3" r="2.2"/><circle cx="81.9" cy="1083.6" r="1.5"/><circle cx="117.9" cy="1100.9" r="2.5"/><circle cx="84.1" cy="1135.9" r="2.6"/><circle cx="131" cy="1157.3" r="2.5"/><circle cx="145.4" cy="1084.4" r="2"/><circle cx="96.7" cy="1117.3" r="2.4"/><circle cx="134.3" cy="1097.9" r="1.5"/><circle cx="76.7" cy="1142.2" r="2.5"/><circle cx="78.6" cy="1092.4" r="1.4"/><circle cx="156.9" cy="1087" r="2.1"/><circle cx="147" cy="1095.2" r="2.3"/><circle cx="100.2" cy="1134.1" r="1.9"/><circle cx="83.6" cy="1155.2" r="2"/><circle cx="156.2" cy="1130.3" r="2.7"/><circle cx="127.7" cy="1085.8" r="1.2"/><circle cx="157.1" cy="1136.1" r="2.5"/><circle cx="143.7" cy="1110.9" r="2.3"/><circle cx="127" cy="1086.1" r="2.1"/><circle cx="151.6" cy="1127.1" r="2.5"/><circle cx="76.5" cy="1115.4" r="2"/><circle cx="119" cy="1151" r="2"/><circle cx="120" cy="1123.9" r="2.3"/><circle cx="121.1" cy="1113.8" r="1.7"/><circle cx="145.9" cy="1110.4" r="2.3"/><circle cx="94.3" cy="1162.7" r="1.5"/><circle cx="107.2" cy="1111.6" r="2.6"/><circle cx="134.4" cy="1102.8" r="1.6"/><circle cx="135.4" cy="1118" r="1.5"/><circle cx="80.8" cy="1140.7" r="2.3"/><circle cx="140.9" cy="1087.4" r="2"/><circle cx="83.2" cy="1128.2" r="1.6"/><circle cx="90.7" cy="1127.4" r="1.5"/><circle cx="139.8" cy="1094.9" r="1.6"/><circle cx="136.4" cy="1102.9" r="1.7"/><circle cx="138.9" cy="1127.6" r="2.5"/><circle cx="146.3" cy="1160.7" r="1.3"/><circle cx="104.8" cy="1118.6" r="1.7"/><circle cx="146.2" cy="1113.7" r="2.7"/><circle cx="76.7" cy="1117.8" r="2.2"/><circle cx="139.1" cy="1121" r="2.6"/><circle cx="96.5" cy="1110.5" r="1.5"/><circle cx="87.1" cy="1121.3" r="2.4"/><circle cx="87.4" cy="1121.4" r="1.9"/><circle cx="156.2" cy="1121.8" r="2.5"/><circle cx="91" cy="1155" r="1.2"/><circle cx="83.8" cy="1133.5" r="2"/><circle cx="116.5" cy="1132.5" r="1.8"/><circle cx="128.3" cy="1113.9" r="2.1"/><circle cx="132.8" cy="1106.7" r="2.4"/><circle cx="142.5" cy="1162.8" r="1.3"/><circle cx="107.8" cy="1094.6" r="1.5"/><circle cx="111.8" cy="1145.4" r="1.4"/><circle cx="139.9" cy="1150.8" r="2.7"/><circle cx="136.6" cy="1098.4" r="2.3"/><circle cx="120.6" cy="1103.7" r="2.5"/><circle cx="99.5" cy="1150.5" r="2.6"/><circle cx="105.2" cy="1092.2" r="2.5"/><circle cx="84.3" cy="1091" r="2.6"/><circle cx="91.3" cy="1102.6" r="1.8"/><circle cx="133.6" cy="1097.2" r="1.7"/></g></g>
<ellipse cx="195.3" cy="1058.5" rx="2.4" ry="1.8" fill="#4d5690" opacity="0.85" transform="rotate(115 195.3 1058.5)"/>
<ellipse cx="207.3" cy="1054" rx="2.4" ry="1.8" fill="#4d5690" opacity="0.85" transform="rotate(143 207.3 1054)"/>
<ellipse cx="222.4" cy="1063.1" rx="2.4" ry="1.8" fill="#4d5690" opacity="0.85" transform="rotate(119 222.4 1063.1)"/>
<ellipse cx="234.4" cy="1058.5" rx="2.4" ry="1.8" fill="#4d5690" opacity="0.85" transform="rotate(115 234.4 1058.5)"/>
<ellipse cx="255.4" cy="1066.1" rx="2.4" ry="1.8" fill="#4d5690" opacity="0.85" transform="rotate(130 255.4 1066.1)"/>
<ellipse cx="270.4" cy="1063.1" rx="2.4" ry="1.8" fill="#4d5690" opacity="0.85" transform="rotate(150 270.4 1063.1)"/>
<ellipse cx="293" cy="1067.6" rx="2.4" ry="1.8" fill="#4d5690" opacity="0.85" transform="rotate(48 293 1067.6)"/>
<ellipse cx="324.5" cy="1060" rx="2.4" ry="1.8" fill="#4d5690" opacity="0.85" transform="rotate(47 324.5 1060)"/>
<ellipse cx="330.5" cy="1070.6" rx="2.4" ry="1.8" fill="#4d5690" opacity="0.85" transform="rotate(131 330.5 1070.6)"/>
<ellipse cx="338" cy="1063.1" rx="2.4" ry="1.8" fill="#4d5690" opacity="0.85" transform="rotate(121 338 1063.1)"/>
<ellipse cx="264.4" cy="1052.5" rx="2.4" ry="1.8" fill="#4d5690" opacity="0.85" transform="rotate(161 264.4 1052.5)"/>
<ellipse cx="168.3" cy="1081.1" rx="2.4" ry="1.8" fill="#4d5690" opacity="0.85" transform="rotate(157 168.3 1081.1)"/>
<ellipse cx="163.8" cy="1091.6" rx="2.4" ry="1.8" fill="#4d5690" opacity="0.85" transform="rotate(47 163.8 1091.6)"/>
<ellipse cx="99.2" cy="1114.1" rx="2.4" ry="1.8" fill="#4d5690" opacity="0.85" transform="rotate(24 99.2 1114.1)"/>
<ellipse cx="103.7" cy="1129.2" rx="2.4" ry="1.8" fill="#4d5690" opacity="0.85" transform="rotate(114 103.7 1129.2)"/>
<ellipse cx="114.2" cy="1120.1" rx="2.4" ry="1.8" fill="#4d5690" opacity="0.85" transform="rotate(77 114.2 1120.1)"/>
<ellipse cx="120.2" cy="1117.1" rx="2.4" ry="1.8" fill="#4d5690" opacity="0.85" transform="rotate(36 120.2 1117.1)"/>
<ellipse cx="123.2" cy="1132.2" rx="2.4" ry="1.8" fill="#4d5690" opacity="0.85" transform="rotate(23 123.2 1132.2)"/>
<ellipse cx="138.2" cy="1105.1" rx="2.4" ry="1.8" fill="#4d5690" opacity="0.85" transform="rotate(137 138.2 1105.1)"/>
<ellipse cx="141.2" cy="1111.1" rx="2.4" ry="1.8" fill="#4d5690" opacity="0.85" transform="rotate(177 141.2 1111.1)"/>
<ellipse cx="97.7" cy="1135.2" rx="2.4" ry="1.8" fill="#4d5690" opacity="0.85" transform="rotate(162 97.7 1135.2)"/>
<ellipse cx="498.8" cy="1126.2" rx="2.4" ry="1.8" fill="#4d5690" opacity="0.85" transform="rotate(10 498.8 1126.2)"/>
<ellipse cx="513.8" cy="1135.2" rx="2.4" ry="1.8" fill="#4d5690" opacity="0.85" transform="rotate(152 513.8 1135.2)"/>
<ellipse cx="48.1" cy="1207.3" rx="2.4" ry="1.8" fill="#4d5690" opacity="0.85" transform="rotate(101 48.1 1207.3)"/>
<ellipse cx="183.3" cy="1066.1" rx="2.4" ry="1.8" fill="#4d5690" opacity="0.85" transform="rotate(115 183.3 1066.1)"/>
<ellipse cx="246.4" cy="1067.6" rx="2.4" ry="1.8" fill="#4d5690" opacity="0.85" transform="rotate(167 246.4 1067.6)"/>
<ellipse cx="105.2" cy="1108.1" rx="2.4" ry="1.8" fill="#4d5690" opacity="0.85" transform="rotate(157 105.2 1108.1)"/>
<ellipse cx="129.2" cy="1144.2" rx="2.4" ry="1.8" fill="#4d5690" opacity="0.85" transform="rotate(166 129.2 1144.2)"/>
</g>
<line x1="423.7" y1="1420.6" x2="515.3" y2="1420.6" stroke="#222" stroke-width="1.8" />
<line x1="423.7" y1="1417.6" x2="423.7" y2="1423.6" stroke="#222" stroke-width="1.5" />
<line x1="515.3" y1="1417.6" x2="515.3" y2="1423.6" stroke="#222" stroke-width="1.5" />
<text x="513.3" y="1414.6" font-size="6" text-anchor="end" fill="#333">1 mm</text>
<clipPath id="f2"><rect x="522" y="1038" width="485" height="386"/></clipPath>
<rect x="522" y="1038" width="485" height="386" fill="#e8eae2"/>
<g clip-path="url(#f2)">
<ellipse cx="610" cy="1045.6" rx="2.8" ry="4.5" fill="#7f857e" filter="url(#blur1)" opacity="0.45"/>
<ellipse cx="886.3" cy="1044.2" rx="2.8" ry="7.1" fill="#7f857e" filter="url(#blur1)" opacity="0.5" transform="rotate(-10 886.3 1044.2)"/>
<ellipse cx="534.8" cy="1229.8" rx="9.9" ry="2.3" fill="#7f857e" filter="url(#blur1)" opacity="0.6" transform="rotate(-15 534.8 1229.8)"/>
<ellipse cx="526.3" cy="1279.4" rx="8.5" ry="2.6" fill="#7f857e" filter="url(#blur1)" opacity="0.6" transform="rotate(-20 526.3 1279.4)"/>
<ellipse cx="952.9" cy="1127.8" rx="9.9" ry="2.3" fill="#7f857e" filter="url(#blur1)" opacity="0.7" transform="rotate(-10 952.9 1127.8)"/>
<ellipse cx="765.9" cy="1350.3" rx="7.1" ry="2.3" fill="#7f857e" filter="url(#blur1)" opacity="0.4"/>
<ellipse cx="843.8" cy="1347.5" rx="2.8" ry="4" fill="#7f857e" filter="url(#blur1)" opacity="0.4"/>
<ellipse cx="873.6" cy="1411.2" rx="11.3" ry="2.6" fill="#7f857e" filter="url(#blur1)" opacity="0.6" transform="rotate(-35 873.6 1411.2)"/>
<ellipse cx="614.2" cy="1418.3" rx="11.3" ry="2.8" fill="#7f857e" filter="url(#blur1)" opacity="0.4"/>
<g filter="url(#tt)">
<clipPath id="t2"><path d="M648.2,1149 C648.7,1141 651.1,1125.4 653.9,1117.9 C656.7,1110.3 660.5,1107.5 665.2,1103.7 C670,1099.9 677,1099.9 682.2,1095.2 C687.4,1090.5 688.8,1081.5 696.4,1075.4 C704,1069.2 715.3,1062.5 727.6,1058.3 C739.9,1054.2 755.9,1051.7 770.1,1050.4 C784.3,1049.1 800.8,1048.7 812.6,1050.4 C824.4,1052.1 831.5,1055.5 841,1060.6 C850.4,1065.7 858.4,1073.5 869.3,1081 C880.2,1088.6 896.2,1098.5 906.2,1106 C916.1,1113.4 920.3,1120.5 928.8,1125.8 C937.3,1131.1 949.4,1132.4 957.2,1137.7 C965,1143 969.7,1149 975.6,1157.6 C981.5,1166.1 989.4,1177.9 992.6,1188.7 C995.8,1199.6 995.5,1212.4 994.6,1222.7 C993.6,1233.1 991.3,1243.4 986.9,1251.1 C982.6,1258.7 976.3,1264.3 968.5,1268.7 C960.7,1273 949.6,1275.3 940.2,1277.2 C930.7,1279.1 923.6,1278.6 911.8,1280 C900,1281.4 883.5,1282.4 869.3,1285.7 C855.1,1289 841,1293.7 826.8,1299.8 C812.6,1306 798.4,1315 784.3,1322.5 C770.1,1330.1 753.6,1337.3 741.8,1345.2 C729.9,1353.1 721.3,1363 713.4,1370.1 C705.5,1377.2 697.8,1381.9 694.1,1387.7 C690.5,1393.5 694.7,1400 691.3,1404.7 C687.9,1409.4 679.5,1415.1 673.7,1416.1 C668,1417 661,1413.2 656.7,1410.4 C652.5,1407.6 655.3,1402.8 648.2,1399 C641.1,1395.3 624.6,1392.4 614.2,1387.7 C603.8,1383 592.9,1376 585.9,1370.7 C578.8,1365.4 575.4,1363.1 571.7,1356 C568,1348.8 564.8,1337 563.8,1327.6 C562.7,1318.3 563.1,1306.8 565.5,1299.8 C567.8,1292.8 577.7,1289.9 577.9,1285.7 C578.1,1281.4 570.6,1280.1 566.6,1274.3 C562.6,1268.6 556.7,1259.7 554.1,1251.1 C551.6,1242.5 551,1231.2 551.3,1222.7 C551.6,1214.2 553.2,1206.7 556.1,1200.1 C559,1193.5 563.4,1187.8 568.9,1183.1 C574.3,1178.3 582.1,1173.7 588.7,1171.7 C595.3,1169.7 601.9,1169.3 608.5,1171.2 C615.2,1173 622.7,1182 628.4,1183.1 C634,1184.1 638.8,1180.2 642.6,1177.4 C646.3,1174.6 650.1,1170.8 651.1,1166.1 C652,1161.3 647.7,1157.1 648.2,1149 Z"/></clipPath>
<path d="M648.2,1149 C648.7,1141 651.1,1125.4 653.9,1117.9 C656.7,1110.3 660.5,1107.5 665.2,1103.7 C670,1099.9 677,1099.9 682.2,1095.2 C687.4,1090.5 688.8,1081.5 696.4,1075.4 C704,1069.2 715.3,1062.5 727.6,1058.3 C739.9,1054.2 755.9,1051.7 770.1,1050.4 C784.3,1049.1 800.8,1048.7 812.6,1050.4 C824.4,1052.1 831.5,1055.5 841,1060.6 C850.4,1065.7 858.4,1073.5 869.3,1081 C880.2,1088.6 896.2,1098.5 906.2,1106 C916.1,1113.4 920.3,1120.5 928.8,1125.8 C937.3,1131.1 949.4,1132.4 957.2,1137.7 C965,1143 969.7,1149 975.6,1157.6 C981.5,1166.1 989.4,1177.9 992.6,1188.7 C995.8,1199.6 995.5,1212.4 994.6,1222.7 C993.6,1233.1 991.3,1243.4 986.9,1251.1 C982.6,1258.7 976.3,1264.3 968.5,1268.7 C960.7,1273 949.6,1275.3 940.2,1277.2 C930.7,1279.1 923.6,1278.6 911.8,1280 C900,1281.4 883.5,1282.4 869.3,1285.7 C855.1,1289 841,1293.7 826.8,1299.8 C812.6,1306 798.4,1315 784.3,1322.5 C770.1,1330.1 753.6,1337.3 741.8,1345.2 C729.9,1353.1 721.3,1363 713.4,1370.1 C705.5,1377.2 697.8,1381.9 694.1,1387.7 C690.5,1393.5 694.7,1400 691.3,1404.7 C687.9,1409.4 679.5,1415.1 673.7,1416.1 C668,1417 661,1413.2 656.7,1410.4 C652.5,1407.6 655.3,1402.8 648.2,1399 C641.1,1395.3 624.6,1392.4 614.2,1387.7 C603.8,1383 592.9,1376 585.9,1370.7 C578.8,1365.4 575.4,1363.1 571.7,1356 C568,1348.8 564.8,1337 563.8,1327.6 C562.7,1318.3 563.1,1306.8 565.5,1299.8 C567.8,1292.8 577.7,1289.9 577.9,1285.7 C578.1,1281.4 570.6,1280.1 566.6,1274.3 C562.6,1268.6 556.7,1259.7 554.1,1251.1 C551.6,1242.5 551,1231.2 551.3,1222.7 C551.6,1214.2 553.2,1206.7 556.1,1200.1 C559,1193.5 563.4,1187.8 568.9,1183.1 C574.3,1178.3 582.1,1173.7 588.7,1171.7 C595.3,1169.7 601.9,1169.3 608.5,1171.2 C615.2,1173 622.7,1182 628.4,1183.1 C634,1184.1 638.8,1180.2 642.6,1177.4 C646.3,1174.6 650.1,1170.8 651.1,1166.1 C652,1161.3 647.7,1157.1 648.2,1149 Z" fill="#8a8da5"/>
<g clip-path="url(#t2)"><ellipse cx="770.1" cy="1115" rx="70.9" ry="56.7" fill="#7f8299" filter="url(#blur12)" opacity="0.45"/></g>
<g clip-path="url(#t2)"><ellipse cx="911.8" cy="1200.1" rx="62.4" ry="62.4" fill="#7f8299" filter="url(#blur12)" opacity="0.45"/></g>
<g clip-path="url(#t2)"><ellipse cx="628.4" cy="1356" rx="56.7" ry="42.5" fill="#7f8299" filter="url(#blur12)" opacity="0.45"/></g>
<g clip-path="url(#t2)"><path d="M685.1,1157.6 L741.8,1166.1 L798.4,1188.7 L826.8,1214.2 L855.1,1228.4" fill="none" stroke="#b0b3cb" stroke-width="5" opacity="0.6" filter="url(#sb2)"/></g>
<g clip-path="url(#t2)"><path d="M798.4,1072.5 L812.6,1129.2 L804.1,1185.9" fill="none" stroke="#b0b3cb" stroke-width="5" opacity="0.6" filter="url(#sb2)"/></g>
<g clip-path="url(#t2)"><path d="M869.3,1157.6 L883.5,1200.1 L869.3,1251.1" fill="none" stroke="#b0b3cb" stroke-width="5" opacity="0.6" filter="url(#sb2)"/></g>
<g clip-path="url(#t2)"><path d="M557.5,1205.7 C560.6,1198.2 563.2,1188.7 571.7,1183.1 C580.2,1177.4 596.7,1171.7 608.5,1171.7 C620.3,1171.7 633.1,1179.8 642.6,1183.1 C652,1186.4 660,1184 665.2,1191.6 C670.4,1199.1 676.1,1218.5 673.7,1228.4 C671.4,1238.3 659.6,1245.4 651.1,1251.1 C642.6,1256.8 633.1,1257.7 622.7,1262.4 C612.3,1267.2 597.2,1276.6 588.7,1279.4 C580.2,1282.3 577.1,1283.7 571.7,1279.4 C566.3,1275.2 559.2,1262.4 556.1,1253.9 C553,1245.4 553,1236.4 553.3,1228.4 C553.5,1220.4 554.4,1213.3 557.5,1205.7 Z" fill="#94725f" filter="url(#blur2)" opacity="0.95"/></g>
<g clip-path="url(#t2)"><path d="M600,1200.1 C605.2,1194.4 626.5,1192.5 636.9,1194.4 C647.3,1196.3 659.1,1203.8 662.4,1211.4 C665.7,1219 662.4,1233.6 656.7,1239.8 C651.1,1245.9 636.9,1250.1 628.4,1248.3 C619.9,1246.4 610.4,1236.4 605.7,1228.4 C601,1220.4 594.8,1205.7 600,1200.1 Z" fill="#93603f" filter="url(#blur3)" opacity="0.9"/></g>
<g clip-path="url(#t2)"><path d="M588.7,1228.4 C592.5,1220.9 601.9,1216.1 608.5,1217.1 C615.2,1218 626,1225.6 628.4,1234.1 C630.7,1242.6 627.4,1260.5 622.7,1268.1 C618,1275.7 606.2,1280.4 600,1279.4 C593.9,1278.5 587.8,1270.9 585.9,1262.4 C584,1253.9 584.9,1236 588.7,1228.4 Z" fill="#8e889c" filter="url(#blur3)" opacity="0.8"/></g>
<g clip-path="url(#t2)"><path d="M554.7,1228.4 C554.7,1220.4 554.7,1212.4 557.5,1205.7 C560.4,1199.1 567.4,1189.7 571.7,1188.7 C575.9,1187.8 581.6,1191.1 583,1200.1 C584.4,1209 579.2,1228.4 580.2,1242.6 C581.1,1256.8 590.1,1279 588.7,1285.1 C587.3,1291.2 576.9,1284.6 571.7,1279.4 C566.5,1274.2 560.4,1262.4 557.5,1253.9 C554.7,1245.4 554.7,1236.4 554.7,1228.4 Z" fill="#b9a598" filter="url(#blur3)" opacity="0.8"/></g>
<g clip-path="url(#t2)"><path d="M662.4,1234.1 C664.8,1225.1 671.8,1216.1 685.1,1211.4 C698.3,1206.7 722.9,1203.8 741.8,1205.7 C760.7,1207.6 781.9,1218 798.4,1222.7 C815,1227.5 829.2,1225.6 841,1234.1 C852.8,1242.6 871.7,1265.3 869.3,1273.8 C866.9,1282.3 848,1287.9 826.8,1285.1 C805.5,1282.3 767.7,1260.1 741.8,1256.8 C715.8,1253.5 684.1,1269 670.9,1265.3 C657.7,1261.5 660,1243.1 662.4,1234.1 Z" fill="#97929f" filter="url(#blur6)" opacity="0.45"/></g>
<g clip-path="url(#t2)"><path d="M648.8,1149 C647.1,1144.8 651.1,1126.7 653.9,1119.3 C656.6,1111.8 660.4,1107.9 665.2,1104.3 C670,1100.6 679.3,1095.7 682.8,1097.5 C686.3,1099.3 686.8,1108.3 686.5,1115 C686.2,1121.7 684.6,1132.7 680.8,1137.7 C677,1142.7 669.1,1142.9 663.8,1144.8 C658.5,1146.7 650.4,1153.3 648.8,1149 Z" fill="#6a4736" filter="url(#blur1)" opacity="0.95"/></g>
<g clip-path="url(#t2)"><path d="M634,1295 C634.8,1289.4 636.4,1281.6 641.1,1276.6 C645.9,1271.6 655.1,1270.5 662.4,1265.3 C669.7,1260.1 679.4,1250.5 685.1,1245.4 C690.7,1240.3 684.6,1236.4 696.4,1234.6 C708.2,1232.9 744.6,1231 755.9,1234.6 C767.3,1238.3 759.7,1253.8 764.4,1256.8 C769.2,1259.7 776.2,1253.8 784.3,1252.5 C792.3,1251.2 805.5,1249.9 812.6,1248.8 C819.7,1247.7 819.7,1243.2 826.8,1246 C833.9,1248.7 847.8,1260.1 855.1,1265.3 C862.5,1270.5 875.4,1271.4 870.7,1277.2 C866,1282.9 841.2,1292.3 826.8,1299.8 C812.4,1307.4 798.4,1317.8 784.3,1322.5 C770.1,1327.2 755.9,1327.2 741.8,1328.2 C727.6,1329.1 713.4,1329.9 699.2,1328.2 C685.1,1326.4 667.1,1320.6 656.7,1317.7 C646.3,1314.8 640.7,1314.4 636.9,1310.6 C633.1,1306.8 633.3,1300.7 634,1295 Z" fill="#4b3025" filter="url(#blur1)"/></g>
<g clip-path="url(#t2)"><path d="M696.4,1251.1 C706.3,1244.9 739.9,1244.9 750.3,1248.3 C760.7,1251.6 757.8,1260.5 758.8,1270.9 C759.7,1281.3 760.7,1303.1 755.9,1310.6 C751.2,1318.2 739.4,1315.8 730.4,1316.3 C721.4,1316.8 708.7,1318.6 702.1,1313.4 C695.5,1308.3 691.7,1295.5 690.7,1285.1 C689.8,1274.7 686.5,1257.2 696.4,1251.1 Z" fill="#6e5448" filter="url(#blur3)" opacity="0.6"/></g>
<g clip-path="url(#t2)"><path d="M694.2,1250.8 L692.4,1276.6 L688.6,1315.1" fill="none" stroke="#a89890" stroke-width="2.2" opacity="0.5" filter="url(#sb1)"/></g>
<g clip-path="url(#t2)"><path d="M697.9,1247.4 L692.2,1276.6 L696,1313.9" fill="none" stroke="#a89890" stroke-width="1.3" opacity="0.5" filter="url(#sb1)"/></g>
<g clip-path="url(#t2)"><path d="M700.6,1247.4 L697.7,1276.6 L710,1314.8" fill="none" stroke="#a89890" stroke-width="2.3" opacity="0.5" filter="url(#sb1)"/></g>
<g clip-path="url(#t2)"><path d="M702.7,1248.2 L706.6,1276.6 L701.2,1316" fill="none" stroke="#a89890" stroke-width="1.6" opacity="0.5" filter="url(#sb1)"/></g>
<g clip-path="url(#t2)"><path d="M712.3,1246.5 L714.5,1276.6 L708.9,1313.7" fill="none" stroke="#a89890" stroke-width="1.6" opacity="0.5" filter="url(#sb1)"/></g>
<g clip-path="url(#t2)"><path d="M712.1,1245.7 L718.9,1276.6 L711,1315" fill="none" stroke="#a89890" stroke-width="1.5" opacity="0.5" filter="url(#sb1)"/></g>
<g clip-path="url(#t2)"><path d="M723.8,1251.8 L723.4,1276.6 L721.6,1314.7" fill="none" stroke="#a89890" stroke-width="1.3" opacity="0.5" filter="url(#sb1)"/></g>
<g clip-path="url(#t2)"><path d="M726,1247.1 L728.1,1276.6 L728.8,1312.9" fill="none" stroke="#a89890" stroke-width="1.6" opacity="0.5" filter="url(#sb1)"/></g>
<g clip-path="url(#t2)"><path d="M726.5,1253.9 L726.2,1276.6 L720.7,1311.1" fill="none" stroke="#a89890" stroke-width="2.1" opacity="0.5" filter="url(#sb1)"/></g>
<g clip-path="url(#t2)"><path d="M733.2,1249.6 L733.8,1276.6 L736.8,1311.9" fill="none" stroke="#a89890" stroke-width="1.9" opacity="0.5" filter="url(#sb1)"/></g>
<g clip-path="url(#t2)"><path d="M737.3,1247 L732.5,1276.6 L734.1,1315.9" fill="none" stroke="#a89890" stroke-width="1.6" opacity="0.5" filter="url(#sb1)"/></g>
<g clip-path="url(#t2)"><path d="M739,1246.3 L735.7,1276.6 L745.1,1315" fill="none" stroke="#a89890" stroke-width="1.6" opacity="0.5" filter="url(#sb1)"/></g>
<g clip-path="url(#t2)"><path d="M746.6,1253.1 L750.3,1276.6 L743.8,1316.2" fill="none" stroke="#a89890" stroke-width="2.4" opacity="0.5" filter="url(#sb1)"/></g>
<g clip-path="url(#t2)"><path d="M752.4,1249.6 L747.7,1276.6 L745.5,1315.6" fill="none" stroke="#a89890" stroke-width="1.4" opacity="0.5" filter="url(#sb1)"/></g>
<g clip-path="url(#t2)"><path d="M754.5,1252 L751.7,1276.6 L756.7,1310.9" fill="none" stroke="#a89890" stroke-width="1.5" opacity="0.5" filter="url(#sb1)"/></g>
<g clip-path="url(#t2)"><path d="M756.1,1246.9 L751.9,1276.6 L754.5,1315.7" fill="none" stroke="#a89890" stroke-width="2.4" opacity="0.5" filter="url(#sb1)"/></g>
<g clip-path="url(#t2)"><path d="M696.4,1232.7 C706.3,1231.2 746,1231.2 755.9,1232.7 C765.9,1234.1 765.9,1239.8 755.9,1241.2 C746,1242.6 706.3,1242.6 696.4,1241.2 C686.5,1239.8 686.5,1234.1 696.4,1232.7 Z" fill="#3f271c" filter="url(#blur1)" opacity="0.9"/></g>
<g clip-path="url(#t2)"><ellipse cx="583" cy="1327.6" rx="14.2" ry="11.3" fill="#a98a78" filter="url(#blur2)" opacity="0.85"/></g>
<g clip-path="url(#t2)"><ellipse cx="665.2" cy="1353.1" rx="11.3" ry="8.5" fill="#b39070" filter="url(#blur2)" opacity="0.85"/></g>
<g clip-path="url(#t2)"><ellipse cx="636.9" cy="1336.1" rx="11.3" ry="7.1" fill="#b8a090" filter="url(#blur2)" opacity="0.85"/></g>
<g clip-path="url(#t2)"><ellipse cx="911.8" cy="1266.7" rx="11.3" ry="5.7" fill="#8a6a55" filter="url(#blur2)" opacity="0.85"/></g>
<g clip-path="url(#t2)"><path d="M957.2,1139.1 C961.2,1141.6 969.7,1149.8 975.6,1158.1 C981.5,1166.5 989.4,1178.5 992.6,1189.3 C995.8,1200.1 995.5,1212.4 994.6,1222.7 C993.6,1233 991.3,1243.4 986.9,1251.1 C982.6,1258.7 972.5,1267.7 968.5,1268.7 C964.5,1269.6 961.4,1263.5 962.8,1256.8 C964.3,1250 975.1,1239.8 977,1228.4 C978.9,1217.1 976.5,1199.6 974.2,1188.7 C971.8,1177.9 966.6,1170.8 962.8,1163.2 C959.1,1155.7 952.5,1147.4 951.5,1143.4 C950.6,1139.4 953.2,1136.7 957.2,1139.1 Z" fill="#cfd0da" filter="url(#blur1)" opacity="0.8"/></g>
<g clip-path="url(#t2)"><path d="M812.6,1051.3 C817.8,1051.3 831.5,1056.1 841,1061.2 C850.4,1066.2 858.4,1074 869.3,1081.6 C880.2,1089.1 896.2,1099.1 906.2,1106.5 C916.1,1114 926.5,1122.4 928.8,1126.4 C931.2,1130.4 925.5,1132.5 920.3,1130.6 C915.1,1128.7 906.6,1120.9 897.7,1115 C888.7,1109.1 876.4,1101.8 866.5,1095.2 C856.6,1088.6 847.6,1081 838.1,1075.4 C828.7,1069.7 814,1065.2 809.8,1061.2 C805.5,1057.2 807.4,1051.3 812.6,1051.3 Z" fill="#cfd0da" filter="url(#blur1)" opacity="0.8"/></g>
<g clip-path="url(#t2)"><path d="M855.1,1251.1 C860.3,1247.8 877.3,1245.9 883.5,1248.3 C889.6,1250.6 894.3,1261 892,1265.3 C889.6,1269.5 875.9,1273.3 869.3,1273.8 C862.7,1274.2 854.7,1271.9 852.3,1268.1 C849.9,1264.3 849.9,1254.4 855.1,1251.1 Z" fill="#d8d6d6" filter="url(#blur2)" opacity="0.7"/></g>
</g>
<clipPath id="foam3"><path d="M557.5,1205.7 C560.6,1198.2 563.2,1188.7 571.7,1183.1 C580.2,1177.4 603.8,1170.8 608.5,1171.7 C613.3,1172.7 605.2,1183.1 600,1188.7 C594.8,1194.4 582.1,1198.2 577.4,1205.7 C572.6,1213.3 571.2,1223.2 571.7,1234.1 C572.2,1244.9 580.2,1263.4 580.2,1270.9 C580.2,1278.5 575.7,1282.3 571.7,1279.4 C567.7,1276.6 559.2,1262.4 556.1,1253.9 C553,1245.4 553,1236.4 553.3,1228.4 C553.5,1220.4 554.4,1213.3 557.5,1205.7 Z"/></clipPath>
<g clip-path="url(#t2)"><g clip-path="url(#foam3)" fill="#e6e0dc"><circle cx="587.7" cy="1251.6" r="1.6"/><circle cx="605.4" cy="1251.4" r="1.7"/><circle cx="554.9" cy="1221.9" r="1.7"/><circle cx="589.1" cy="1268.8" r="0.9"/><circle cx="579.2" cy="1198.3" r="1.3"/><circle cx="585" cy="1173.1" r="1"/><circle cx="568.7" cy="1270.4" r="1.6"/><circle cx="562.1" cy="1257.6" r="0.9"/><circle cx="587.4" cy="1185.4" r="0.8"/><circle cx="601.4" cy="1194.3" r="1"/><circle cx="607.6" cy="1265.7" r="1.1"/><circle cx="606.4" cy="1229.8" r="1.5"/><circle cx="564.6" cy="1273.1" r="1.5"/><circle cx="606.7" cy="1268" r="1.1"/><circle cx="573.2" cy="1189.6" r="0.9"/><circle cx="556.9" cy="1204.2" r="1.4"/><circle cx="553.5" cy="1244.7" r="1.1"/><circle cx="570.4" cy="1259.9" r="1.3"/><circle cx="570.7" cy="1223.6" r="1.5"/><circle cx="556.4" cy="1276.8" r="0.8"/><circle cx="594.7" cy="1262.7" r="0.8"/><circle cx="596.8" cy="1211.2" r="1.4"/><circle cx="553.8" cy="1176.8" r="1"/><circle cx="606.1" cy="1192.9" r="1.6"/><circle cx="604.6" cy="1273.2" r="1.1"/><circle cx="572.9" cy="1228.2" r="1.6"/><circle cx="559.2" cy="1252.3" r="1.6"/><circle cx="600.8" cy="1175.7" r="1.7"/><circle cx="558.3" cy="1208.4" r="1.4"/><circle cx="604" cy="1208.3" r="1.7"/><circle cx="583.4" cy="1205.4" r="1.1"/><circle cx="563.1" cy="1180.1" r="0.9"/><circle cx="591.4" cy="1279.1" r="1"/><circle cx="555.9" cy="1278" r="1.3"/><circle cx="575.7" cy="1197.3" r="1.4"/><circle cx="598.9" cy="1220.8" r="1.2"/><circle cx="556.3" cy="1270.4" r="0.8"/><circle cx="580.5" cy="1262" r="0.9"/><circle cx="593.7" cy="1274" r="1.4"/><circle cx="596.8" cy="1183.2" r="1.2"/><circle cx="561.5" cy="1262.7" r="1.1"/><circle cx="578.3" cy="1279.4" r="1.7"/><circle cx="607.2" cy="1220.6" r="1.3"/><circle cx="593.6" cy="1223.3" r="1.1"/><circle cx="575.6" cy="1187.5" r="1.2"/><circle cx="607.9" cy="1275.1" r="1.4"/><circle cx="580.9" cy="1208.2" r="0.9"/><circle cx="568.3" cy="1256" r="1.7"/><circle cx="573.2" cy="1256.4" r="1.6"/><circle cx="591.7" cy="1243.2" r="1.6"/><circle cx="573.4" cy="1247.6" r="1.1"/><circle cx="580.1" cy="1254.6" r="1.5"/><circle cx="569.5" cy="1273.6" r="1.4"/><circle cx="585.4" cy="1173" r="1.3"/><circle cx="567.1" cy="1244.1" r="1.3"/><circle cx="598.4" cy="1241.5" r="1.6"/><circle cx="572.5" cy="1241.1" r="1.5"/><circle cx="599" cy="1209.4" r="1.6"/><circle cx="601.3" cy="1245.9" r="1.8"/><circle cx="606.1" cy="1227.5" r="1.3"/><circle cx="562.5" cy="1261.8" r="1.7"/><circle cx="579.6" cy="1246.2" r="1.5"/><circle cx="593.6" cy="1190.2" r="1.6"/><circle cx="585.4" cy="1243.4" r="1.2"/><circle cx="587.7" cy="1255.2" r="1.4"/><circle cx="593.1" cy="1174.7" r="1"/><circle cx="577.6" cy="1241.7" r="1"/><circle cx="591.2" cy="1239.7" r="0.8"/><circle cx="579.3" cy="1196.1" r="0.9"/><circle cx="560.6" cy="1205.9" r="1"/><circle cx="564" cy="1175.6" r="1.3"/><circle cx="574.3" cy="1237.6" r="1.4"/><circle cx="566.4" cy="1269" r="0.8"/><circle cx="575.7" cy="1201.7" r="1.2"/><circle cx="559.6" cy="1261.3" r="1.2"/><circle cx="555.3" cy="1237.8" r="0.9"/><circle cx="583.4" cy="1208.3" r="1.4"/><circle cx="606.2" cy="1259.9" r="1.2"/><circle cx="598.2" cy="1240.9" r="1.2"/><circle cx="561.1" cy="1235.9" r="1.4"/><circle cx="606.2" cy="1276" r="1.4"/><circle cx="572.7" cy="1268" r="0.8"/><circle cx="559.2" cy="1232.7" r="1.4"/><circle cx="561" cy="1239.5" r="1.7"/><circle cx="574" cy="1218.2" r="1"/><circle cx="569.4" cy="1276.5" r="1.2"/><circle cx="606.4" cy="1270.1" r="1.4"/><circle cx="567.6" cy="1277.4" r="1.3"/><circle cx="576.2" cy="1206.1" r="1.8"/><circle cx="580.4" cy="1202.6" r="1.3"/></g></g>
<ellipse cx="815.5" cy="1194.4" rx="4" ry="3" fill="#eceaea" filter="url(#blur1)" opacity="0.8"/>
<ellipse cx="747.4" cy="1137.7" rx="4" ry="3" fill="#eceaea" filter="url(#blur1)" opacity="0.8"/>
<ellipse cx="770.1" cy="1075.4" rx="4" ry="3" fill="#eceaea" filter="url(#blur1)" opacity="0.8"/>
<ellipse cx="809.8" cy="1200.1" rx="4" ry="3" fill="#eceaea" filter="url(#blur1)" opacity="0.8"/>
<ellipse cx="795.6" cy="1049.8" rx="2.3" ry="1.8" fill="#3e4a8c" opacity="0.85"/>
<ellipse cx="826.8" cy="1059.8" rx="2.3" ry="1.8" fill="#3e4a8c" opacity="0.85"/>
<ellipse cx="838.1" cy="1064" rx="2.3" ry="1.8" fill="#3e4a8c" opacity="0.85"/>
<ellipse cx="849.5" cy="1069.7" rx="2.3" ry="1.8" fill="#3e4a8c" opacity="0.85"/>
<ellipse cx="855.1" cy="1078.2" rx="2.3" ry="1.8" fill="#3e4a8c" opacity="0.85"/>
<ellipse cx="866.5" cy="1086.7" rx="2.3" ry="1.8" fill="#3e4a8c" opacity="0.85"/>
<ellipse cx="896.2" cy="1090.9" rx="2.3" ry="1.8" fill="#3e4a8c" opacity="0.85"/>
<ellipse cx="911.8" cy="1115" rx="2.3" ry="1.8" fill="#3e4a8c" opacity="0.85"/>
<ellipse cx="926" cy="1123.5" rx="2.3" ry="1.8" fill="#3e4a8c" opacity="0.85"/>
<ellipse cx="937.3" cy="1126.4" rx="2.3" ry="1.8" fill="#3e4a8c" opacity="0.85"/>
<ellipse cx="979.9" cy="1194.4" rx="2.3" ry="1.8" fill="#3e4a8c" opacity="0.85"/>
<ellipse cx="985.5" cy="1205.7" rx="2.3" ry="1.8" fill="#3e4a8c" opacity="0.85"/>
<ellipse cx="991.2" cy="1211.4" rx="2.3" ry="1.8" fill="#3e4a8c" opacity="0.85"/>
<ellipse cx="977" cy="1234.1" rx="2.3" ry="1.8" fill="#3e4a8c" opacity="0.85"/>
<ellipse cx="968.5" cy="1171.7" rx="2.3" ry="1.8" fill="#3e4a8c" opacity="0.85"/>
<ellipse cx="985.5" cy="1183.1" rx="2.3" ry="1.8" fill="#3e4a8c" opacity="0.85"/>
<ellipse cx="994" cy="1228.4" rx="2.3" ry="1.8" fill="#3e4a8c" opacity="0.85"/>
</g>
<line x1="911" y1="1416.9" x2="1002.5" y2="1416.9" stroke="#222" stroke-width="1.8" />
<line x1="911" y1="1413.9" x2="911" y2="1419.9" stroke="#222" stroke-width="1.5" />
<line x1="1002.5" y1="1413.9" x2="1002.5" y2="1419.9" stroke="#222" stroke-width="1.5" />
<text x="1000.5" y="1410.9" font-size="6" text-anchor="end" fill="#333">1 mm</text>
<clipPath id="f3"><rect x="1037.3" y="1037.6" width="458.5" height="387"/></clipPath>
<rect x="1037.3" y="1037.6" width="458.5" height="387" fill="#e8eae2"/>
<g clip-path="url(#f3)">
<ellipse cx="1136.1" cy="1057.2" rx="3.3" ry="6.8" fill="#8a8f88" filter="url(#blur1)" opacity="0.55" transform="rotate(-20 1136.1 1057.2)"/>
<ellipse cx="1416.4" cy="1046.3" rx="6.8" ry="10.9" fill="#8a8f88" filter="url(#blur1)" opacity="0.55" transform="rotate(-40 1416.4 1046.3)"/>
<ellipse cx="1459.9" cy="1076.3" rx="4.9" ry="9.5" fill="#8a8f88" filter="url(#blur1)" opacity="0.55" transform="rotate(-10 1459.9 1076.3)"/>
<ellipse cx="1435.4" cy="1193.3" rx="4.9" ry="8.2" fill="#8a8f88" filter="url(#blur1)" opacity="0.55" transform="rotate(20 1435.4 1193.3)"/>
<g filter="url(#tt)">
<clipPath id="t3"><path d="M1038.2,1378.3 C1035.4,1368.2 1038.6,1344.3 1040.9,1329.3 C1043.2,1314.4 1046.8,1303 1051.8,1288.5 C1056.8,1274 1065.4,1256.3 1070.8,1242.2 C1076.3,1228.2 1079.4,1215.9 1084.4,1204.1 C1089.4,1192.4 1093.9,1181.5 1100.7,1171.5 C1107.6,1161.5 1116.6,1153.8 1125.2,1144.3 C1133.9,1134.8 1143.4,1123 1152.4,1114.4 C1161.5,1105.7 1170.6,1098.5 1179.7,1092.6 C1188.7,1086.7 1198.7,1084.4 1206.9,1079 C1215,1073.5 1220.9,1064.5 1228.6,1059.9 C1236.3,1055.4 1245.4,1053.6 1253.1,1051.8 C1260.8,1050 1266.7,1047.2 1274.9,1049 C1283.1,1050.9 1293,1057.7 1302.1,1062.7 C1311.2,1067.6 1321.2,1073.1 1329.3,1079 C1337.5,1084.9 1346.6,1091.2 1351.1,1098 C1355.6,1104.8 1352,1113 1356.5,1119.8 C1361.1,1126.6 1371.5,1131.1 1378.3,1138.8 C1385.1,1146.6 1391.9,1156.1 1397.3,1166.1 C1402.8,1176 1407.8,1188.7 1411,1198.7 C1414.1,1208.7 1411.9,1216.4 1416.4,1225.9 C1420.9,1235.4 1430,1247.7 1438.2,1255.9 C1446.3,1264 1459.4,1268.1 1465.4,1274.9 C1471.4,1281.7 1473.1,1287.6 1474.1,1296.7 C1475.1,1305.7 1474.5,1319.3 1471.4,1329.3 C1468.2,1339.3 1460.6,1348.4 1455,1356.5 C1449.5,1364.7 1444.6,1372.4 1438.2,1378.3 C1431.7,1384.2 1425.5,1388.2 1416.4,1391.9 C1407.3,1395.6 1396,1399.6 1383.7,1400.6 C1371.5,1401.6 1356.5,1399.7 1342.9,1397.9 C1329.3,1396.1 1315.7,1392 1302.1,1389.7 C1288.5,1387.5 1274.9,1385.2 1261.3,1384.3 C1247.7,1383.4 1234.1,1382.9 1220.5,1384.3 C1206.9,1385.6 1193.3,1389.7 1179.7,1392.4 C1166.1,1395.2 1154.7,1398.8 1138.8,1400.6 C1123,1402.4 1098,1405.1 1084.4,1403.3 C1070.8,1401.5 1064.9,1393.9 1057.2,1389.7 C1049.5,1385.6 1040.9,1388.4 1038.2,1378.3 Z"/></clipPath>
<path d="M1038.2,1378.3 C1035.4,1368.2 1038.6,1344.3 1040.9,1329.3 C1043.2,1314.4 1046.8,1303 1051.8,1288.5 C1056.8,1274 1065.4,1256.3 1070.8,1242.2 C1076.3,1228.2 1079.4,1215.9 1084.4,1204.1 C1089.4,1192.4 1093.9,1181.5 1100.7,1171.5 C1107.6,1161.5 1116.6,1153.8 1125.2,1144.3 C1133.9,1134.8 1143.4,1123 1152.4,1114.4 C1161.5,1105.7 1170.6,1098.5 1179.7,1092.6 C1188.7,1086.7 1198.7,1084.4 1206.9,1079 C1215,1073.5 1220.9,1064.5 1228.6,1059.9 C1236.3,1055.4 1245.4,1053.6 1253.1,1051.8 C1260.8,1050 1266.7,1047.2 1274.9,1049 C1283.1,1050.9 1293,1057.7 1302.1,1062.7 C1311.2,1067.6 1321.2,1073.1 1329.3,1079 C1337.5,1084.9 1346.6,1091.2 1351.1,1098 C1355.6,1104.8 1352,1113 1356.5,1119.8 C1361.1,1126.6 1371.5,1131.1 1378.3,1138.8 C1385.1,1146.6 1391.9,1156.1 1397.3,1166.1 C1402.8,1176 1407.8,1188.7 1411,1198.7 C1414.1,1208.7 1411.9,1216.4 1416.4,1225.9 C1420.9,1235.4 1430,1247.7 1438.2,1255.9 C1446.3,1264 1459.4,1268.1 1465.4,1274.9 C1471.4,1281.7 1473.1,1287.6 1474.1,1296.7 C1475.1,1305.7 1474.5,1319.3 1471.4,1329.3 C1468.2,1339.3 1460.6,1348.4 1455,1356.5 C1449.5,1364.7 1444.6,1372.4 1438.2,1378.3 C1431.7,1384.2 1425.5,1388.2 1416.4,1391.9 C1407.3,1395.6 1396,1399.6 1383.7,1400.6 C1371.5,1401.6 1356.5,1399.7 1342.9,1397.9 C1329.3,1396.1 1315.7,1392 1302.1,1389.7 C1288.5,1387.5 1274.9,1385.2 1261.3,1384.3 C1247.7,1383.4 1234.1,1382.9 1220.5,1384.3 C1206.9,1385.6 1193.3,1389.7 1179.7,1392.4 C1166.1,1395.2 1154.7,1398.8 1138.8,1400.6 C1123,1402.4 1098,1405.1 1084.4,1403.3 C1070.8,1401.5 1064.9,1393.9 1057.2,1389.7 C1049.5,1385.6 1040.9,1388.4 1038.2,1378.3 Z" fill="#979ab3"/>
<g clip-path="url(#t3)"><ellipse cx="1288.5" cy="1220.5" rx="62.6" ry="59.9" fill="#85889f" filter="url(#blur12)" opacity="0.55"/></g>
<g clip-path="url(#t3)"><ellipse cx="1152.4" cy="1225.9" rx="54.4" ry="70.7" fill="#85889f" filter="url(#blur12)" opacity="0.55"/></g>
<g clip-path="url(#t3)"><ellipse cx="1220.5" cy="1315.7" rx="54.4" ry="49" fill="#85889f" filter="url(#blur12)" opacity="0.55"/></g>
<g clip-path="url(#t3)"><ellipse cx="1356.5" cy="1334.8" rx="49" ry="46.3" fill="#85889f" filter="url(#blur12)" opacity="0.55"/></g>
<g clip-path="url(#t3)"><ellipse cx="1234.1" cy="1138.8" rx="49" ry="49" fill="#85889f" filter="url(#blur12)" opacity="0.55"/></g>
<g clip-path="url(#t3)"><path d="M1038.2,1378.3 C1033.6,1370.1 1038.6,1344.3 1040.9,1329.3 C1043.2,1314.4 1046.8,1303 1051.8,1288.5 C1056.8,1274 1065.4,1256.3 1070.8,1242.2 C1076.3,1228.2 1079.4,1215.9 1084.4,1204.1 C1089.4,1192.4 1093.9,1181.5 1100.7,1171.5 C1107.6,1161.5 1116.6,1153.8 1125.2,1144.3 C1133.9,1134.8 1143.4,1123 1152.4,1114.4 C1161.5,1105.7 1175.6,1091.7 1179.7,1092.6 C1183.7,1093.5 1182.8,1111.2 1176.9,1119.8 C1171,1128.4 1153.8,1135.7 1144.3,1144.3 C1134.8,1152.9 1127.1,1158.8 1119.8,1171.5 C1112.5,1184.2 1106.2,1203.2 1100.7,1220.5 C1095.3,1237.7 1091.2,1256.8 1087.1,1274.9 C1083.1,1293 1079.4,1312.1 1076.3,1329.3 C1073.1,1346.6 1074.4,1370.1 1068.1,1378.3 C1061.7,1386.5 1042.7,1386.5 1038.2,1378.3 Z" fill="#b7b8c8" filter="url(#blur6)" opacity="0.85"/></g>
<g clip-path="url(#t3)"><path d="M1253.1,1051.8 C1252.2,1047.7 1266.7,1047.2 1274.9,1049 C1283.1,1050.9 1293,1057.7 1302.1,1062.7 C1311.2,1067.6 1321.2,1073.1 1329.3,1079 C1337.5,1084.9 1346.6,1091.2 1351.1,1098 C1355.6,1104.8 1352,1113 1356.5,1119.8 C1361.1,1126.6 1371.5,1131.1 1378.3,1138.8 C1385.1,1146.6 1391.9,1156.1 1397.3,1166.1 C1402.8,1176 1407.8,1188.7 1411,1198.7 C1414.1,1208.7 1411.9,1216.4 1416.4,1225.9 C1420.9,1235.4 1430,1247.7 1438.2,1255.9 C1446.3,1264 1459.4,1268.1 1465.4,1274.9 C1471.4,1281.7 1473.1,1287.6 1474.1,1296.7 C1475.1,1305.7 1474.5,1319.3 1471.4,1329.3 C1468.2,1339.3 1460.6,1348.4 1455,1356.5 C1449.5,1364.7 1443.7,1375.6 1438.2,1378.3 C1432.6,1381 1425,1383.3 1421.8,1372.9 C1418.7,1362.4 1424.1,1334.3 1419.1,1315.7 C1414.1,1297.1 1400.1,1281.7 1391.9,1261.3 C1383.7,1240.9 1378.3,1212.8 1370.1,1193.3 C1362,1173.8 1352,1158.8 1342.9,1144.3 C1333.9,1129.8 1326.1,1118 1315.7,1106.2 C1305.3,1094.4 1290.8,1082.6 1280.3,1073.5 C1269.9,1064.5 1254,1055.9 1253.1,1051.8 Z" fill="#bdbdc8" filter="url(#blur6)" opacity="0.9"/></g>
<g clip-path="url(#t3)"><path d="M1111.6,1247.7 L1166.1,1274.9 L1206.9,1302.1 L1234.1,1356.5 L1236.8,1383.7" fill="none" stroke="#adafc2" stroke-width="6" opacity="0.7" filter="url(#sb2)"/></g>
<g clip-path="url(#t3)"><path d="M1234.1,1206.9 L1247.7,1242.2 L1288.5,1274.9 L1329.3,1283.1 L1356.5,1261.3 L1364.7,1220.5" fill="none" stroke="#adafc2" stroke-width="6" opacity="0.7" filter="url(#sb2)"/></g>
<g clip-path="url(#t3)"><path d="M1329.3,1285.8 L1315.7,1329.3 L1302.1,1370.1" fill="none" stroke="#adafc2" stroke-width="6" opacity="0.7" filter="url(#sb2)"/></g>
</g>
<path d="M1212.9,1118.4 L1233,1192.7" stroke="#454a52" stroke-width="9" stroke-linecap="round" filter="url(#sb3)" opacity="0.9"/>
<ellipse cx="1421.8" cy="1247.7" rx="3.3" ry="4.9" fill="#3b4a8a" opacity="0.9" transform="rotate(-30 1421.8 1247.7)"/>
<ellipse cx="1445" cy="1245" rx="3.3" ry="4.4" fill="#3b4a8a" opacity="0.9"/>
<ellipse cx="1461.3" cy="1269.5" rx="3.8" ry="10.9" fill="#3b4a8a" opacity="0.9" transform="rotate(-40 1461.3 1269.5)"/>
<ellipse cx="1487.1" cy="1299.4" rx="2.2" ry="4.9" fill="#3b4a8a" opacity="0.9"/>
</g>
<line x1="1385" y1="1416.4" x2="1492.6" y2="1416.4" stroke="#222" stroke-width="1.8" />
<line x1="1385" y1="1413.4" x2="1385" y2="1419.4" stroke="#222" stroke-width="1.5" />
<line x1="1492.6" y1="1413.4" x2="1492.6" y2="1419.4" stroke="#222" stroke-width="1.5" />
<text x="1490.6" y="1410.4" font-size="6" text-anchor="end" fill="#333">1 mm</text>
<clipPath id="f4"><rect x="1507" y="1036.4" width="488.5" height="244.6"/></clipPath>
<rect x="1507" y="1036.4" width="488.5" height="244.6" fill="#e8eae2"/>
<g clip-path="url(#f4)">
<ellipse cx="1876" cy="1088" rx="48" ry="13" fill="#7b827a" filter="url(#blur6)" opacity="0.85" transform="rotate(10 1876 1088)"/>
<ellipse cx="1890" cy="1092" rx="25" ry="7" fill="#5e655e" filter="url(#blur3)" opacity="0.7" transform="rotate(10 1890 1092)"/>
<g filter="url(#tt)">
<clipPath id="t4"><path d="M1522.6,1200.7 C1521.6,1189.4 1524.9,1173.4 1528.2,1161.2 C1531.5,1148.9 1535.3,1136.2 1542.3,1127.3 C1549.4,1118.3 1561.2,1113.6 1570.6,1107.5 C1580,1101.4 1587.1,1095.3 1598.8,1090.6 C1610.6,1085.9 1627,1083.1 1641.2,1079.3 C1655.3,1075.5 1671.7,1071.5 1683.5,1068 C1695.3,1064.5 1700,1060.5 1711.7,1058.1 C1723.5,1055.8 1740,1053.6 1754.1,1053.9 C1768.2,1054.1 1782.3,1055.8 1796.4,1059.5 C1810.6,1063.3 1824.7,1070.3 1838.8,1076.5 C1852.9,1082.6 1867,1091.1 1881.1,1096.2 C1895.3,1101.4 1911.7,1103.3 1923.5,1107.5 C1935.3,1111.8 1942.3,1116 1951.7,1121.6 C1961.1,1127.3 1973.3,1133.9 1980,1141.4 C1986.6,1148.9 1990.3,1156.5 1991.8,1166.8 C1993.3,1177.2 1991,1192.7 1989,1203.5 C1987,1214.3 1985.2,1223.3 1980,1231.7 C1974.7,1240.2 1964.4,1250 1957.4,1254.3 C1950.3,1258.7 1948,1259.1 1937.6,1257.7 C1927.3,1256.3 1907,1248.3 1895.3,1245.9 C1883.5,1243.4 1878.8,1241.2 1867,1243 C1855.3,1244.9 1836.4,1252.9 1824.7,1257.2 C1812.9,1261.4 1805.9,1265.6 1796.4,1268.4 C1787,1271.3 1777.6,1274.1 1768.2,1274.1 C1758.8,1274.1 1751.7,1270.3 1740,1268.4 C1728.2,1266.6 1709.4,1266.6 1697.6,1262.8 C1685.9,1259 1677.9,1251.5 1669.4,1245.9 C1660.9,1240.2 1653.9,1232.7 1646.8,1228.9 C1639.8,1225.2 1632.7,1222.8 1627,1223.3 C1621.4,1223.7 1617.6,1225.6 1612.9,1231.7 C1608.2,1237.9 1603.5,1253.4 1598.8,1260 C1594.1,1266.6 1590.8,1270.3 1584.7,1271.3 C1578.6,1272.2 1567.8,1268.9 1562.1,1265.6 C1556.5,1262.3 1555.5,1257.6 1550.8,1251.5 C1546.1,1245.4 1538.6,1237.4 1533.9,1228.9 C1529.2,1220.5 1523.5,1212 1522.6,1200.7 Z"/></clipPath>
<path d="M1522.6,1200.7 C1521.6,1189.4 1524.9,1173.4 1528.2,1161.2 C1531.5,1148.9 1535.3,1136.2 1542.3,1127.3 C1549.4,1118.3 1561.2,1113.6 1570.6,1107.5 C1580,1101.4 1587.1,1095.3 1598.8,1090.6 C1610.6,1085.9 1627,1083.1 1641.2,1079.3 C1655.3,1075.5 1671.7,1071.5 1683.5,1068 C1695.3,1064.5 1700,1060.5 1711.7,1058.1 C1723.5,1055.8 1740,1053.6 1754.1,1053.9 C1768.2,1054.1 1782.3,1055.8 1796.4,1059.5 C1810.6,1063.3 1824.7,1070.3 1838.8,1076.5 C1852.9,1082.6 1867,1091.1 1881.1,1096.2 C1895.3,1101.4 1911.7,1103.3 1923.5,1107.5 C1935.3,1111.8 1942.3,1116 1951.7,1121.6 C1961.1,1127.3 1973.3,1133.9 1980,1141.4 C1986.6,1148.9 1990.3,1156.5 1991.8,1166.8 C1993.3,1177.2 1991,1192.7 1989,1203.5 C1987,1214.3 1985.2,1223.3 1980,1231.7 C1974.7,1240.2 1964.4,1250 1957.4,1254.3 C1950.3,1258.7 1948,1259.1 1937.6,1257.7 C1927.3,1256.3 1907,1248.3 1895.3,1245.9 C1883.5,1243.4 1878.8,1241.2 1867,1243 C1855.3,1244.9 1836.4,1252.9 1824.7,1257.2 C1812.9,1261.4 1805.9,1265.6 1796.4,1268.4 C1787,1271.3 1777.6,1274.1 1768.2,1274.1 C1758.8,1274.1 1751.7,1270.3 1740,1268.4 C1728.2,1266.6 1709.4,1266.6 1697.6,1262.8 C1685.9,1259 1677.9,1251.5 1669.4,1245.9 C1660.9,1240.2 1653.9,1232.7 1646.8,1228.9 C1639.8,1225.2 1632.7,1222.8 1627,1223.3 C1621.4,1223.7 1617.6,1225.6 1612.9,1231.7 C1608.2,1237.9 1603.5,1253.4 1598.8,1260 C1594.1,1266.6 1590.8,1270.3 1584.7,1271.3 C1578.6,1272.2 1567.8,1268.9 1562.1,1265.6 C1556.5,1262.3 1555.5,1257.6 1550.8,1251.5 C1546.1,1245.4 1538.6,1237.4 1533.9,1228.9 C1529.2,1220.5 1523.5,1212 1522.6,1200.7 Z" fill="#afadbb"/>
<g clip-path="url(#t4)"><path d="M1852.9,1113.2 C1860.9,1106.1 1878.8,1103.3 1895.3,1104.7 C1911.7,1106.1 1938.1,1114.6 1951.7,1121.6 C1965.4,1128.7 1972.4,1135.8 1977.1,1147 C1981.8,1158.3 1981.4,1175.3 1980,1189.4 C1978.5,1203.5 1975.2,1221.4 1968.7,1231.7 C1962.1,1242.1 1952.7,1249.6 1940.4,1251.5 C1928.2,1253.4 1907.5,1245.9 1895.3,1243 C1883,1240.2 1874.6,1242.6 1867,1234.6 C1859.5,1226.6 1853.4,1209.6 1850.1,1195 C1846.8,1180.5 1846.8,1160.7 1847.3,1147 C1847.7,1133.4 1844.9,1120.2 1852.9,1113.2 Z" fill="#a5a3b2" filter="url(#blur3)" opacity="0.95"/></g>
<g clip-path="url(#t4)"><path d="M1533.9,1155.5 C1537.2,1145.2 1548,1144.7 1556.5,1144.2 C1564.9,1143.8 1579.5,1145.2 1584.7,1152.7 C1589.9,1160.2 1588.5,1178.6 1587.5,1189.4 C1586.6,1200.2 1584.2,1212 1579.1,1217.6 C1573.9,1223.3 1563.5,1225.2 1556.5,1223.3 C1549.4,1221.4 1540.5,1217.6 1536.7,1206.3 C1532.9,1195 1530.6,1165.9 1533.9,1155.5 Z" fill="#a5a3b2" filter="url(#blur3)" opacity="0.9"/></g>
<g clip-path="url(#t4)"><path d="M1658.1,1195 C1662.8,1183.7 1684,1179 1697.6,1178.1 C1711.3,1177.2 1730.6,1180.5 1740,1189.4 C1749.4,1198.3 1747,1223.3 1754.1,1231.7 C1761.2,1240.2 1772.9,1239.7 1782.3,1240.2 C1791.7,1240.7 1803.5,1232.7 1810.6,1234.6 C1817.6,1236.5 1829.4,1245.9 1824.7,1251.5 C1820,1257.2 1796.4,1265.6 1782.3,1268.4 C1768.2,1271.3 1754.1,1269.4 1740,1268.4 C1725.9,1267.5 1709.4,1266.6 1697.6,1262.8 C1685.9,1259 1676,1257.2 1669.4,1245.9 C1662.8,1234.6 1653.4,1206.3 1658.1,1195 Z" fill="#acaab9" filter="url(#blur3)" opacity="0.85"/></g>
<g clip-path="url(#t4)"><path d="M1581.9,1118.8 C1590.1,1109.3 1612.5,1101.1 1627,1095.7 C1641.6,1090.3 1655.3,1090.5 1669.4,1086.3 C1683.5,1082.2 1697.6,1074.1 1711.7,1070.8 C1725.9,1067.5 1740,1066.3 1754.1,1066.6 C1768.2,1066.8 1782.3,1068 1796.4,1072.2 C1810.6,1076.5 1827.7,1084.9 1838.8,1092 C1849.8,1099.1 1859.3,1105.4 1862.8,1114.6 C1866.3,1123.8 1862.6,1136.9 1860,1147 C1857.4,1157.2 1851.7,1165.9 1847.3,1175.3 C1842.8,1184.7 1839.3,1194.6 1833.1,1203.5 C1827,1212.5 1820.9,1223.3 1810.6,1228.9 C1800.2,1234.6 1782.3,1239.7 1771,1237.4 C1759.7,1235 1749.9,1224.7 1742.8,1214.8 C1735.7,1204.9 1736.2,1186.1 1728.7,1178.1 C1721.2,1170.1 1707.5,1166.8 1697.6,1166.8 C1687.7,1166.8 1677.9,1174.3 1669.4,1178.1 C1660.9,1181.9 1655.8,1186.8 1646.8,1189.4 C1637.9,1192 1624.5,1194.8 1615.8,1193.6 C1607,1192.5 1600.9,1189.2 1594.6,1182.3 C1588.2,1175.5 1579.8,1163.3 1577.6,1152.7 C1575.5,1142.1 1573.6,1128.3 1581.9,1118.8 Z" fill="#c9bfb3" filter="url(#blur3)" opacity="0.9"/></g>
<g clip-path="url(#t4)"><path d="M1618.6,1147 C1624.7,1142.3 1644.9,1139.5 1658.1,1138.6 C1671.3,1137.6 1688.2,1136.7 1697.6,1141.4 C1707,1146.1 1716.9,1160.7 1714.6,1166.8 C1712.2,1172.9 1694.8,1176.2 1683.5,1178.1 C1672.2,1180 1657.2,1180 1646.8,1178.1 C1636.5,1176.2 1626.1,1172 1621.4,1166.8 C1616.7,1161.6 1612.5,1151.8 1618.6,1147 Z" fill="#c2bdc6" filter="url(#blur6)" opacity="0.6"/></g>
<g clip-path="url(#t4)"><path d="M1522.6,1200.7 C1521.6,1189.4 1524.9,1173.4 1528.2,1161.2 C1531.5,1148.9 1535.3,1136.2 1542.3,1127.3 C1549.4,1118.3 1561.2,1113.6 1570.6,1107.5 C1580,1101.4 1587.1,1095.3 1598.8,1090.6 C1610.6,1085.9 1627,1083.1 1641.2,1079.3 C1655.3,1075.5 1671.7,1071.5 1683.5,1068 C1695.3,1064.5 1700,1060.5 1711.7,1058.1 C1723.5,1055.8 1740,1053.6 1754.1,1053.9 C1768.2,1054.1 1782.3,1055.8 1796.4,1059.5 C1810.6,1063.3 1824.7,1070.3 1838.8,1076.5 C1852.9,1082.6 1867,1091.1 1881.1,1096.2 C1895.3,1101.4 1911.7,1103.3 1923.5,1107.5 C1935.3,1111.8 1942.3,1116 1951.7,1121.6 C1961.1,1127.3 1973.3,1133.9 1980,1141.4 C1986.6,1148.9 1990.3,1156.5 1991.8,1166.8 C1993.3,1177.2 1991,1192.7 1989,1203.5 C1987,1214.3 1985.2,1223.3 1980,1231.7 C1974.7,1240.2 1964.4,1250 1957.4,1254.3 C1950.3,1258.7 1948,1259.1 1937.6,1257.7 C1927.3,1256.3 1907,1248.3 1895.3,1245.9 C1883.5,1243.4 1878.8,1241.2 1867,1243 C1855.3,1244.9 1836.4,1252.9 1824.7,1257.2 C1812.9,1261.4 1805.9,1265.6 1796.4,1268.4 C1787,1271.3 1777.6,1274.1 1768.2,1274.1 C1758.8,1274.1 1751.7,1270.3 1740,1268.4 C1728.2,1266.6 1709.4,1266.6 1697.6,1262.8 C1685.9,1259 1677.9,1251.5 1669.4,1245.9 C1660.9,1240.2 1653.9,1232.7 1646.8,1228.9 C1639.8,1225.2 1632.7,1222.8 1627,1223.3 C1621.4,1223.7 1617.6,1225.6 1612.9,1231.7 C1608.2,1237.9 1603.5,1253.4 1598.8,1260 C1594.1,1266.6 1590.8,1270.3 1584.7,1271.3 C1578.6,1272.2 1567.8,1268.9 1562.1,1265.6 C1556.5,1262.3 1555.5,1257.6 1550.8,1251.5 C1546.1,1245.4 1538.6,1237.4 1533.9,1228.9 C1529.2,1220.5 1523.5,1212 1522.6,1200.7 Z" fill="none" stroke="#cacad6" stroke-width="10" opacity="0.8" filter="url(#sb2)"/></g>
<g clip-path="url(#t4)"><path d="M1550.8,1251.5 C1549.9,1244 1555.1,1228.9 1562.1,1223.3 C1569.2,1217.6 1583.8,1217.6 1593.2,1217.6 C1602.6,1217.6 1615.3,1218.6 1618.6,1223.3 C1621.9,1228 1617.2,1238.3 1612.9,1245.9 C1608.7,1253.4 1600.7,1264.7 1593.2,1268.4 C1585.6,1272.2 1574.8,1271.3 1567.8,1268.4 C1560.7,1265.6 1551.8,1259 1550.8,1251.5 Z" fill="#d3d3dc" filter="url(#blur2)" opacity="0.85"/></g>
<ellipse cx="1776" cy="1077" rx="34" ry="12" fill="#4a4d4a" filter="url(#blur6)" opacity="0.75" transform="rotate(5 1776 1077)"/>
<ellipse cx="1835" cy="1086" rx="30" ry="10" fill="#6a706a" filter="url(#blur6)" opacity="0.6" transform="rotate(12 1835 1086)"/>
<path d="M1583,1126 L1593,1112 L1614.6,1100 L1650.4,1093 L1672,1087 L1693.5,1080 L1715,1071.6 L1744,1065 L1770,1068 L1795,1076 L1818,1084 L1833,1090" fill="none" stroke="#6e4330" stroke-width="8.1" stroke-linecap="round" stroke-linejoin="round" opacity="0.9" filter="url(#sb1)"/>
<path d="M1583,1126 L1574.4,1140 L1567,1154.7 L1571.5,1169 L1581.6,1180.6 L1593,1190.6 L1600,1205" fill="none" stroke="#6e4330" stroke-width="14.9" stroke-linecap="round" stroke-linejoin="round" opacity="0.9" filter="url(#sb1)"/>
<path d="M1588,1128 L1596,1138 L1601,1150" fill="none" stroke="#6e4330" stroke-width="21.6" stroke-linecap="round" stroke-linejoin="round" opacity="0.9" filter="url(#sb1)"/>
<path d="M1622,1163 L1630,1175 L1637,1188 L1636,1196" fill="none" stroke="#6e4330" stroke-width="24.3" stroke-linecap="round" stroke-linejoin="round" opacity="0.9" filter="url(#sb1)"/>
<path d="M1672,1166 L1676,1198 L1690.6,1205 L1708,1212 L1715,1219 L1722,1212 L1729,1183 L1733.6,1175" fill="none" stroke="#6e4330" stroke-width="6.8" stroke-linecap="round" stroke-linejoin="round" opacity="0.9" filter="url(#sb1)"/>
<path d="M1731,1221 L1742,1228 L1752,1238 L1760,1245" fill="none" stroke="#6e4330" stroke-width="13.5" stroke-linecap="round" stroke-linejoin="round" opacity="0.9" filter="url(#sb1)"/>
<path d="M1735,1240 L1745,1250" fill="none" stroke="#6e4330" stroke-width="10.8" stroke-linecap="round" stroke-linejoin="round" opacity="0.9" filter="url(#sb1)"/>
<path d="M1759,1142 L1771,1140 L1776,1151 L1768,1158 L1762,1150" fill="none" stroke="#6e4330" stroke-width="8.1" stroke-linecap="round" stroke-linejoin="round" opacity="0.9" filter="url(#sb1)"/>
<path d="M1782,1140 L1797,1144 L1808,1155 L1803,1166" fill="none" stroke="#6e4330" stroke-width="9.5" stroke-linecap="round" stroke-linejoin="round" opacity="0.9" filter="url(#sb1)"/>
<path d="M1808,1140 L1819,1143 L1827,1156 L1824,1168" fill="none" stroke="#6e4330" stroke-width="9.5" stroke-linecap="round" stroke-linejoin="round" opacity="0.9" filter="url(#sb1)"/>
<path d="M1796,1184 L1810,1187 L1827,1196 L1824,1212 L1810,1218 L1800,1206" fill="none" stroke="#6e4330" stroke-width="20.2" stroke-linecap="round" stroke-linejoin="round" opacity="0.9" filter="url(#sb1)"/>
<path d="M1790,1206 L1796,1222 L1812,1226" fill="none" stroke="#6e4330" stroke-width="10.8" stroke-linecap="round" stroke-linejoin="round" opacity="0.9" filter="url(#sb1)"/>
<path d="M1848,1122 L1855,1128 L1858,1148 L1852,1168 L1844,1178" fill="none" stroke="#6e4330" stroke-width="10.8" stroke-linecap="round" stroke-linejoin="round" opacity="0.9" filter="url(#sb1)"/>
<path d="M1827,1120 L1838,1126" fill="none" stroke="#6e4330" stroke-width="8.1" stroke-linecap="round" stroke-linejoin="round" opacity="0.9" filter="url(#sb1)"/>
</g>
<ellipse cx="1525.4" cy="1189.4" rx="2.4" ry="1.7" fill="#4a5590" opacity="0.8"/>
<ellipse cx="1528.2" cy="1200.7" rx="2.4" ry="1.7" fill="#4a5590" opacity="0.8"/>
<ellipse cx="1531.1" cy="1214.8" rx="2.4" ry="1.7" fill="#4a5590" opacity="0.8"/>
<ellipse cx="1536.7" cy="1223.3" rx="2.4" ry="1.7" fill="#4a5590" opacity="0.8"/>
<ellipse cx="1553.6" cy="1245.9" rx="2.4" ry="1.7" fill="#4a5590" opacity="0.8"/>
<ellipse cx="1559.3" cy="1248.7" rx="2.4" ry="1.7" fill="#4a5590" opacity="0.8"/>
<ellipse cx="1564.9" cy="1245.9" rx="2.4" ry="1.7" fill="#4a5590" opacity="0.8"/>
<ellipse cx="1982.8" cy="1214.8" rx="2.4" ry="1.7" fill="#4a5590" opacity="0.8"/>
</g>
<line x1="1930.5" y1="1275.5" x2="1991" y2="1275.5" stroke="#222" stroke-width="1.8" />
<line x1="1930.5" y1="1272.5" x2="1930.5" y2="1278.5" stroke="#222" stroke-width="1.5" />
<line x1="1991" y1="1272.5" x2="1991" y2="1278.5" stroke="#222" stroke-width="1.5" />
<text x="1989" y="1269.5" font-size="6" text-anchor="end" fill="#333">1 mm</text>
<text x="284.7" y="1524.5" font-size="35" text-anchor="middle" >E1A</text>
<text transform="translate(28.1,1697.4) rotate(-90)" font-size="34" text-anchor="middle" textLength="155.5" lengthAdjust="spacingAndGlyphs">Histoscore</text>
<line x1="141.5" y1="1554" x2="141.5" y2="1849" stroke="#000" stroke-width="2.6" />
<line x1="140.3" y1="1847.8" x2="434" y2="1847.8" stroke="#000" stroke-width="2.6" />
<line x1="129" y1="1834.2" x2="141.5" y2="1834.2" stroke="#000" stroke-width="2.6" />
<text x="122.5" y="1846.5" font-size="35" text-anchor="end" letter-spacing="1.5">0</text>
<line x1="129" y1="1764.5" x2="141.5" y2="1764.5" stroke="#000" stroke-width="2.6" />
<text x="122.5" y="1776.8" font-size="35" text-anchor="end" letter-spacing="1.5">50</text>
<line x1="129" y1="1694.7" x2="141.5" y2="1694.7" stroke="#000" stroke-width="2.6" />
<text x="122.5" y="1707" font-size="35" text-anchor="end" letter-spacing="1.5">100</text>
<line x1="129" y1="1625" x2="141.5" y2="1625" stroke="#000" stroke-width="2.6" />
<text x="122.5" y="1637.2" font-size="35" text-anchor="end" letter-spacing="1.5">150</text>
<line x1="129" y1="1555.2" x2="141.5" y2="1555.2" stroke="#000" stroke-width="2.6" />
<text x="122.5" y="1567.5" font-size="35" text-anchor="end" letter-spacing="1.5">200</text>
<line x1="178.2" y1="1847.8" x2="178.2" y2="1861.3" stroke="#000" stroke-width="2.6" />
<line x1="251.7" y1="1847.8" x2="251.7" y2="1861.3" stroke="#000" stroke-width="2.6" />
<line x1="325.2" y1="1847.8" x2="325.2" y2="1861.3" stroke="#000" stroke-width="2.6" />
<line x1="398.6" y1="1847.8" x2="398.6" y2="1861.3" stroke="#000" stroke-width="2.6" />
<line x1="150" y1="1834.2" x2="434" y2="1834.2" stroke="#000" stroke-width="5.2" stroke-linecap="round" stroke-dasharray="0 8.6"/>
<circle cx="163.3" cy="1834.2" r="10" fill="#282d7c" stroke="none" stroke-width="0"/>
<circle cx="176.9" cy="1835.6" r="10" fill="#282d7c" stroke="none" stroke-width="0"/>
<circle cx="190.5" cy="1834.2" r="10" fill="#282d7c" stroke="none" stroke-width="0"/>
<circle cx="168.7" cy="1818.9" r="10" fill="#282d7c" stroke="none" stroke-width="0"/>
<circle cx="191.8" cy="1802.1" r="10" fill="#282d7c" stroke="none" stroke-width="0"/>
<circle cx="166" cy="1778.4" r="10" fill="#282d7c" stroke="none" stroke-width="0"/>
<circle cx="171.4" cy="1834.2" r="10" fill="#282d7c" stroke="none" stroke-width="0"/>
<circle cx="185" cy="1834.2" r="10" fill="#282d7c" stroke="none" stroke-width="0"/>
<line x1="178.2" y1="1824.4" x2="178.2" y2="1807" stroke="#282d7c" stroke-width="2.4" />
<line x1="167.2" y1="1807" x2="189.2" y2="1807" stroke="#282d7c" stroke-width="2.4" />
<line x1="167.2" y1="1824.4" x2="189.2" y2="1824.4" stroke="#282d7c" stroke-width="2.4" />
<line x1="167.2" y1="1841.9" x2="189.2" y2="1841.9" stroke="#282d7c" stroke-width="2.4" />
<line x1="154.5" y1="1824.7" x2="203" y2="1824.7" stroke="#000" stroke-width="7.6" />
<line x1="251.7" y1="1802.1" x2="251.7" y2="1710" stroke="#282d7c" stroke-width="2.4" />
<line x1="239.2" y1="1710" x2="264.2" y2="1710" stroke="#282d7c" stroke-width="2.4" />
<line x1="239.2" y1="1802.1" x2="264.2" y2="1802.1" stroke="#282d7c" stroke-width="2.4" />
<circle cx="239.5" cy="1696.8" r="8.9" fill="none" stroke="#282d7c" stroke-width="2.6"/>
<circle cx="263.9" cy="1687.7" r="8.9" fill="none" stroke="#282d7c" stroke-width="2.6"/>
<circle cx="261.2" cy="1721.8" r="8.9" fill="none" stroke="#282d7c" stroke-width="2.6"/>
<circle cx="240.8" cy="1731" r="8.9" fill="none" stroke="#282d7c" stroke-width="2.6"/>
<circle cx="242.2" cy="1747.7" r="8.9" fill="none" stroke="#282d7c" stroke-width="2.6"/>
<circle cx="251.7" cy="1747.7" r="8.9" fill="none" stroke="#282d7c" stroke-width="2.6"/>
<circle cx="261.2" cy="1747.7" r="8.9" fill="none" stroke="#282d7c" stroke-width="2.6"/>
<circle cx="266.7" cy="1795.1" r="8.9" fill="none" stroke="#282d7c" stroke-width="2.6"/>
<circle cx="236.7" cy="1803.5" r="8.9" fill="none" stroke="#282d7c" stroke-width="2.6"/>
<circle cx="246.3" cy="1815.1" r="8.9" fill="none" stroke="#282d7c" stroke-width="2.6"/>
<circle cx="258.5" cy="1813.8" r="8.9" fill="none" stroke="#282d7c" stroke-width="2.6"/>
<line x1="227.6" y1="1756.6" x2="276" y2="1756.6" stroke="#282d7c" stroke-width="7.6" />
<circle cx="327.9" cy="1806.3" r="10" fill="#8e2024" stroke="none" stroke-width="0"/>
<circle cx="317" cy="1810.5" r="10" fill="#8e2024" stroke="none" stroke-width="0"/>
<circle cx="337.4" cy="1817.5" r="10" fill="#8e2024" stroke="none" stroke-width="0"/>
<circle cx="310.2" cy="1825.8" r="10" fill="#8e2024" stroke="none" stroke-width="0"/>
<circle cx="340.1" cy="1824.4" r="10" fill="#8e2024" stroke="none" stroke-width="0"/>
<circle cx="321.1" cy="1831.4" r="10" fill="#8e2024" stroke="none" stroke-width="0"/>
<circle cx="332" cy="1834.2" r="10" fill="#8e2024" stroke="none" stroke-width="0"/>
<circle cx="342.9" cy="1834.2" r="10" fill="#8e2024" stroke="none" stroke-width="0"/>
<circle cx="310.2" cy="1835.6" r="10" fill="#8e2024" stroke="none" stroke-width="0"/>
<circle cx="323.8" cy="1821.6" r="10" fill="#8e2024" stroke="none" stroke-width="0"/>
<circle cx="333.3" cy="1813.3" r="10" fill="#8e2024" stroke="none" stroke-width="0"/>
<circle cx="315.6" cy="1834.2" r="10" fill="#8e2024" stroke="none" stroke-width="0"/>
<line x1="300.7" y1="1830" x2="349" y2="1830" stroke="#000" stroke-width="7.6" />
<line x1="398.6" y1="1824.4" x2="398.6" y2="1689.1" stroke="#8e2024" stroke-width="2.4" />
<line x1="386.1" y1="1689.1" x2="411.1" y2="1689.1" stroke="#8e2024" stroke-width="2.4" />
<line x1="386.1" y1="1824.4" x2="411.1" y2="1824.4" stroke="#8e2024" stroke-width="2.4" />
<circle cx="386.4" cy="1637.5" r="8.9" fill="none" stroke="#8e2024" stroke-width="2.6"/>
<circle cx="410.9" cy="1619.6" r="8.9" fill="none" stroke="#8e2024" stroke-width="2.6"/>
<circle cx="408.2" cy="1678" r="8.9" fill="none" stroke="#8e2024" stroke-width="2.6"/>
<circle cx="386.4" cy="1696.1" r="8.9" fill="none" stroke="#8e2024" stroke-width="2.6"/>
<circle cx="398.6" cy="1703.1" r="8.9" fill="none" stroke="#8e2024" stroke-width="2.6"/>
<circle cx="386.4" cy="1737.9" r="8.9" fill="none" stroke="#8e2024" stroke-width="2.6"/>
<circle cx="409.5" cy="1737.9" r="8.9" fill="none" stroke="#8e2024" stroke-width="2.6"/>
<circle cx="386.4" cy="1753.3" r="8.9" fill="none" stroke="#8e2024" stroke-width="2.6"/>
<circle cx="410.9" cy="1749.1" r="8.9" fill="none" stroke="#8e2024" stroke-width="2.6"/>
<circle cx="386.4" cy="1777" r="8.9" fill="none" stroke="#8e2024" stroke-width="2.6"/>
<circle cx="398.6" cy="1777" r="8.9" fill="none" stroke="#8e2024" stroke-width="2.6"/>
<circle cx="409.5" cy="1777" r="8.9" fill="none" stroke="#8e2024" stroke-width="2.6"/>
<circle cx="383.7" cy="1816.5" r="8.9" fill="none" stroke="#8e2024" stroke-width="2.6"/>
<circle cx="412.2" cy="1815.1" r="8.9" fill="none" stroke="#8e2024" stroke-width="2.6"/>
<circle cx="386.4" cy="1830" r="8.9" fill="none" stroke="#8e2024" stroke-width="2.6"/>
<circle cx="410.9" cy="1824.4" r="8.9" fill="none" stroke="#8e2024" stroke-width="2.6"/>
<circle cx="397.3" cy="1834.9" r="8.9" fill="none" stroke="#8e2024" stroke-width="2.6"/>
<circle cx="381" cy="1833.5" r="8.9" fill="none" stroke="#8e2024" stroke-width="2.6"/>
<circle cx="405.4" cy="1835.6" r="8.9" fill="none" stroke="#8e2024" stroke-width="2.6"/>
<line x1="373.8" y1="1756.6" x2="422.3" y2="1756.6" stroke="#8e2024" stroke-width="7.6" />
<text x="703" y="1524.4" font-size="35" text-anchor="middle" >Ad5</text>
<line x1="561" y1="1554.3" x2="561" y2="1849.6" stroke="#000" stroke-width="2.6" />
<line x1="559.8" y1="1848.4" x2="852.8" y2="1848.4" stroke="#000" stroke-width="2.6" />
<line x1="548.5" y1="1834.7" x2="561" y2="1834.7" stroke="#000" stroke-width="2.6" />
<text x="542.5" y="1847" font-size="35" text-anchor="end" letter-spacing="1.5">0</text>
<line x1="548.5" y1="1764.9" x2="561" y2="1764.9" stroke="#000" stroke-width="2.6" />
<text x="542.5" y="1777.2" font-size="35" text-anchor="end" letter-spacing="1.5">50</text>
<line x1="548.5" y1="1695.1" x2="561" y2="1695.1" stroke="#000" stroke-width="2.6" />
<text x="542.5" y="1707.4" font-size="35" text-anchor="end" letter-spacing="1.5">100</text>
<line x1="548.5" y1="1625.3" x2="561" y2="1625.3" stroke="#000" stroke-width="2.6" />
<text x="542.5" y="1637.6" font-size="35" text-anchor="end" letter-spacing="1.5">150</text>
<line x1="548.5" y1="1555.5" x2="561" y2="1555.5" stroke="#000" stroke-width="2.6" />
<text x="542.5" y="1567.8" font-size="35" text-anchor="end" letter-spacing="1.5">200</text>
<line x1="596.6" y1="1848.4" x2="596.6" y2="1861.9" stroke="#000" stroke-width="2.6" />
<line x1="670" y1="1848.4" x2="670" y2="1861.9" stroke="#000" stroke-width="2.6" />
<line x1="743" y1="1848.4" x2="743" y2="1861.9" stroke="#000" stroke-width="2.6" />
<line x1="816.6" y1="1848.4" x2="816.6" y2="1861.9" stroke="#000" stroke-width="2.6" />
<line x1="570" y1="1834.7" x2="852" y2="1834.7" stroke="#000" stroke-width="5.2" stroke-linecap="round" stroke-dasharray="0 8.6"/>
<circle cx="584" cy="1834" r="10" fill="#282d7c" stroke="none" stroke-width="0"/>
<circle cx="592" cy="1834" r="10" fill="#282d7c" stroke="none" stroke-width="0"/>
<circle cx="600" cy="1834" r="10" fill="#282d7c" stroke="none" stroke-width="0"/>
<circle cx="607" cy="1834" r="10" fill="#282d7c" stroke="none" stroke-width="0"/>
<circle cx="613" cy="1834" r="10" fill="#282d7c" stroke="none" stroke-width="0"/>
<line x1="572" y1="1834.7" x2="621" y2="1834.7" stroke="#000" stroke-width="6" />
<line x1="669.5" y1="1794.2" x2="669.5" y2="1710.5" stroke="#282d7c" stroke-width="2.4" />
<line x1="657.5" y1="1710.5" x2="681.5" y2="1710.5" stroke="#282d7c" stroke-width="2.4" />
<line x1="657.5" y1="1794.2" x2="681.5" y2="1794.2" stroke="#282d7c" stroke-width="2.4" />
<circle cx="669.5" cy="1698.2" r="8.9" fill="none" stroke="#282d7c" stroke-width="2.6"/>
<circle cx="655" cy="1721.9" r="8.9" fill="none" stroke="#282d7c" stroke-width="2.6"/>
<circle cx="685.7" cy="1731.4" r="8.9" fill="none" stroke="#282d7c" stroke-width="2.6"/>
<circle cx="664.5" cy="1748.1" r="8.9" fill="none" stroke="#282d7c" stroke-width="2.6"/>
<circle cx="675.7" cy="1753.7" r="8.9" fill="none" stroke="#282d7c" stroke-width="2.6"/>
<circle cx="682" cy="1795.6" r="8.9" fill="none" stroke="#282d7c" stroke-width="2.6"/>
<circle cx="657.8" cy="1817.9" r="8.9" fill="none" stroke="#282d7c" stroke-width="2.6"/>
<line x1="645.8" y1="1753.2" x2="694" y2="1753.2" stroke="#282d7c" stroke-width="7" />
<circle cx="729" cy="1834" r="10" fill="#8e2024" stroke="none" stroke-width="0"/>
<circle cx="737" cy="1834" r="10" fill="#8e2024" stroke="none" stroke-width="0"/>
<circle cx="745" cy="1834" r="10" fill="#8e2024" stroke="none" stroke-width="0"/>
<circle cx="753" cy="1834" r="10" fill="#8e2024" stroke="none" stroke-width="0"/>
<circle cx="757" cy="1834" r="10" fill="#8e2024" stroke="none" stroke-width="0"/>
<line x1="719" y1="1834.7" x2="765.5" y2="1834.7" stroke="#000" stroke-width="6" />
<line x1="816.5" y1="1810.5" x2="816.5" y2="1659.5" stroke="#8e2024" stroke-width="2.4" />
<line x1="804.5" y1="1659.5" x2="828.5" y2="1659.5" stroke="#8e2024" stroke-width="2.4" />
<line x1="804.5" y1="1810.5" x2="828.5" y2="1810.5" stroke="#8e2024" stroke-width="2.4" />
<circle cx="828.6" cy="1621.1" r="8.9" fill="none" stroke="#8e2024" stroke-width="2.6"/>
<circle cx="804.2" cy="1638.4" r="8.9" fill="none" stroke="#8e2024" stroke-width="2.6"/>
<circle cx="826" cy="1678.3" r="8.9" fill="none" stroke="#8e2024" stroke-width="2.6"/>
<circle cx="805.4" cy="1695.7" r="8.9" fill="none" stroke="#8e2024" stroke-width="2.6"/>
<circle cx="816.7" cy="1703.5" r="8.9" fill="none" stroke="#8e2024" stroke-width="2.6"/>
<circle cx="805.4" cy="1742.6" r="8.9" fill="none" stroke="#8e2024" stroke-width="2.6"/>
<circle cx="828" cy="1738.4" r="8.9" fill="none" stroke="#8e2024" stroke-width="2.6"/>
<circle cx="816" cy="1780.8" r="8.9" fill="none" stroke="#8e2024" stroke-width="2.6"/>
<circle cx="805.4" cy="1815.7" r="8.9" fill="none" stroke="#8e2024" stroke-width="2.6"/>
<circle cx="816" cy="1834.1" r="8.9" fill="none" stroke="#8e2024" stroke-width="2.6"/>
<circle cx="826.6" cy="1833.3" r="8.9" fill="none" stroke="#8e2024" stroke-width="2.6"/>
<line x1="791.7" y1="1734.5" x2="840.4" y2="1734.5" stroke="#8e2024" stroke-width="7" />
<circle cx="899.5" cy="1593" r="10" fill="#282d7c" stroke="none" stroke-width="0"/>
<text x="935.5" y="1604.6" font-size="34" text-anchor="start" >LZRS/PBS</text>
<circle cx="899.5" cy="1648" r="8.9" fill="none" stroke="#282d7c" stroke-width="2.6"/>
<text x="935.5" y="1660" font-size="34" text-anchor="start" >LZRS/<tspan font-style="italic">dl</tspan>922</text>
<circle cx="899.5" cy="1708.4" r="10" fill="#8e2024" stroke="none" stroke-width="0"/>
<text x="935.5" y="1719.4" font-size="34" text-anchor="start" >RIPK3/PBS</text>
<circle cx="899.5" cy="1767" r="8.9" fill="none" stroke="#8e2024" stroke-width="2.6"/>
<text x="935.5" y="1783" font-size="34" text-anchor="start" >RIPK3/<tspan font-style="italic">dl</tspan>922</text>
<text x="1231" y="1512.2" font-size="42" text-anchor="start" font-weight="bold" >D</text>
<line x1="1359.7" y1="1554" x2="1359.7" y2="1849" stroke="#000" stroke-width="2.6" />
<line x1="1358.5" y1="1847.8" x2="1652.2" y2="1847.8" stroke="#000" stroke-width="2.6" />
<line x1="1347.2" y1="1836.9" x2="1359.7" y2="1836.9" stroke="#000" stroke-width="2.6" />
<text x="1340.3" y="1849.2" font-size="35" text-anchor="end" letter-spacing="1.5">0</text>
<line x1="1347.2" y1="1780.6" x2="1359.7" y2="1780.6" stroke="#000" stroke-width="2.6" />
<text x="1340.3" y="1792.9" font-size="35" text-anchor="end" letter-spacing="1.5">10</text>
<line x1="1347.2" y1="1724.2" x2="1359.7" y2="1724.2" stroke="#000" stroke-width="2.6" />
<text x="1340.3" y="1736.5" font-size="35" text-anchor="end" letter-spacing="1.5">20</text>
<line x1="1347.2" y1="1667.9" x2="1359.7" y2="1667.9" stroke="#000" stroke-width="2.6" />
<text x="1340.3" y="1680.2" font-size="35" text-anchor="end" letter-spacing="1.5">30</text>
<line x1="1347.2" y1="1611.5" x2="1359.7" y2="1611.5" stroke="#000" stroke-width="2.6" />
<text x="1340.3" y="1623.8" font-size="35" text-anchor="end" letter-spacing="1.5">40</text>
<line x1="1347.2" y1="1555.2" x2="1359.7" y2="1555.2" stroke="#000" stroke-width="2.6" />
<text x="1340.3" y="1567.5" font-size="35" text-anchor="end" letter-spacing="1.5">50</text>
<line x1="1396" y1="1847.8" x2="1396" y2="1861.3" stroke="#000" stroke-width="2.6" />
<line x1="1468.8" y1="1847.8" x2="1468.8" y2="1861.3" stroke="#000" stroke-width="2.6" />
<line x1="1542.3" y1="1847.8" x2="1542.3" y2="1861.3" stroke="#000" stroke-width="2.6" />
<line x1="1615.8" y1="1847.8" x2="1615.8" y2="1861.3" stroke="#000" stroke-width="2.6" />
<text transform="translate(1259.3,1701.6) rotate(-90)" font-size="34" text-anchor="middle" textLength="226" lengthAdjust="spacingAndGlyphs">% necrosis area</text>
<text x="1536" y="1558.5" font-size="35" text-anchor="middle" >*</text>
<line x1="1466.7" y1="1560.7" x2="1613" y2="1560.7" stroke="#000" stroke-width="2.6" />
<text x="1465.7" y="1686.4" font-size="35" text-anchor="middle" >NS</text>
<line x1="1396.5" y1="1698.6" x2="1542.3" y2="1698.6" stroke="#000" stroke-width="2.6" />
<line x1="1395.9" y1="1828.4" x2="1395.9" y2="1736.6" stroke="#282d7c" stroke-width="2.4" />
<line x1="1383.4" y1="1736.6" x2="1408.4" y2="1736.6" stroke="#282d7c" stroke-width="2.4" />
<line x1="1383.4" y1="1828.4" x2="1408.4" y2="1828.4" stroke="#282d7c" stroke-width="2.4" />
<circle cx="1395.9" cy="1735.5" r="10" fill="#282d7c" stroke="none" stroke-width="0"/>
<circle cx="1395.9" cy="1784.5" r="10" fill="#282d7c" stroke="none" stroke-width="0"/>
<circle cx="1395.9" cy="1827.3" r="10" fill="#282d7c" stroke="none" stroke-width="0"/>
<line x1="1372" y1="1782.8" x2="1419.9" y2="1782.8" stroke="#282d7c" stroke-width="6.5" />
<line x1="1468.8" y1="1838" x2="1468.8" y2="1824.5" stroke="#282d7c" stroke-width="2.4" />
<line x1="1457.3" y1="1824.5" x2="1480.3" y2="1824.5" stroke="#282d7c" stroke-width="2.4" />
<line x1="1457.3" y1="1838" x2="1480.3" y2="1838" stroke="#282d7c" stroke-width="2.4" />
<circle cx="1458.5" cy="1822.3" r="8.9" fill="none" stroke="#282d7c" stroke-width="2.6"/>
<circle cx="1469.4" cy="1835.8" r="8.9" fill="none" stroke="#282d7c" stroke-width="2.6"/>
<circle cx="1478.9" cy="1834.1" r="8.9" fill="none" stroke="#282d7c" stroke-width="2.6"/>
<line x1="1445.7" y1="1831.3" x2="1493.3" y2="1831.3" stroke="#282d7c" stroke-width="5.5" />
<line x1="1542.3" y1="1813" x2="1542.3" y2="1793.5" stroke="#8e2024" stroke-width="2.4" />
<line x1="1530.1" y1="1793.5" x2="1554.5" y2="1793.5" stroke="#8e2024" stroke-width="2.4" />
<line x1="1530.1" y1="1813" x2="1554.5" y2="1813" stroke="#8e2024" stroke-width="2.4" />
<circle cx="1542.3" cy="1773.2" r="10" fill="#8e2024" stroke="none" stroke-width="0"/>
<circle cx="1527.9" cy="1809.9" r="10" fill="#8e2024" stroke="none" stroke-width="0"/>
<circle cx="1556.5" cy="1809.9" r="10" fill="#8e2024" stroke="none" stroke-width="0"/>
<circle cx="1537.4" cy="1821.7" r="10" fill="#8e2024" stroke="none" stroke-width="0"/>
<circle cx="1548.3" cy="1827.3" r="10" fill="#8e2024" stroke="none" stroke-width="0"/>
<circle cx="1538.8" cy="1835.2" r="10" fill="#8e2024" stroke="none" stroke-width="0"/>
<circle cx="1532" cy="1817.2" r="10" fill="#8e2024" stroke="none" stroke-width="0"/>
<circle cx="1552" cy="1817.2" r="10" fill="#8e2024" stroke="none" stroke-width="0"/>
<line x1="1517" y1="1813" x2="1566" y2="1813" stroke="#8e2024" stroke-width="6.5" />
<line x1="1615.8" y1="1783.9" x2="1615.8" y2="1644.2" stroke="#8e2024" stroke-width="2.4" />
<line x1="1603.3" y1="1644.2" x2="1628.3" y2="1644.2" stroke="#8e2024" stroke-width="2.4" />
<line x1="1603.3" y1="1783.9" x2="1628.3" y2="1783.9" stroke="#8e2024" stroke-width="2.4" />
<circle cx="1615.8" cy="1600.3" r="8.9" fill="none" stroke="#8e2024" stroke-width="2.6"/>
<circle cx="1615" cy="1707.3" r="8.9" fill="none" stroke="#8e2024" stroke-width="2.6"/>
<circle cx="1603.5" cy="1726.5" r="8.9" fill="none" stroke="#8e2024" stroke-width="2.6"/>
<circle cx="1628" cy="1747.3" r="8.9" fill="none" stroke="#8e2024" stroke-width="2.6"/>
<circle cx="1615.8" cy="1786.8" r="8.9" fill="none" stroke="#8e2024" stroke-width="2.6"/>
<line x1="1591.8" y1="1714.1" x2="1639.5" y2="1714.1" stroke="#8e2024" stroke-width="6.5" />
<circle cx="1708.3" cy="1595.6" r="10" fill="#282d7c" stroke="none" stroke-width="0"/>
<text x="1744.3" y="1607" font-size="34" text-anchor="start" >LZRS/PBS</text>
<circle cx="1708.3" cy="1650.2" r="8.9" fill="none" stroke="#282d7c" stroke-width="2.6"/>
<text x="1744.3" y="1662.6" font-size="34" text-anchor="start" >LZRS/<tspan font-style="italic">dl</tspan>922</text>
<circle cx="1708.3" cy="1710.5" r="10" fill="#8e2024" stroke="none" stroke-width="0"/>
<text x="1744.3" y="1722" font-size="34" text-anchor="start" >RIPK3/PBS</text>
<circle cx="1708.3" cy="1769" r="8.9" fill="none" stroke="#8e2024" stroke-width="2.6"/>
<text x="1744.3" y="1778.5" font-size="34" text-anchor="start" >RIPK3/<tspan font-style="italic">dl</tspan>922</text>
<text x="411" y="1941.3" font-size="42" text-anchor="start" font-weight="bold" >E</text>
<line x1="561.2" y1="1955.1" x2="561.2" y2="2250.5" stroke="#000" stroke-width="2.6" />
<line x1="560" y1="2249.3" x2="1002.6" y2="2249.3" stroke="#000" stroke-width="2.6" />
<line x1="548.7" y1="2249.3" x2="561.2" y2="2249.3" stroke="#000" stroke-width="2.6" />
<text x="541.5" y="2261.6" font-size="35" text-anchor="end" letter-spacing="1.5">0</text>
<line x1="548.7" y1="2176.1" x2="561.2" y2="2176.1" stroke="#000" stroke-width="2.6" />
<text x="541.5" y="2188.4" font-size="35" text-anchor="end" letter-spacing="1.5">200</text>
<line x1="548.7" y1="2102.8" x2="561.2" y2="2102.8" stroke="#000" stroke-width="2.6" />
<text x="541.5" y="2115.1" font-size="35" text-anchor="end" letter-spacing="1.5">400</text>
<line x1="548.7" y1="2029.5" x2="561.2" y2="2029.5" stroke="#000" stroke-width="2.6" />
<text x="541.5" y="2041.8" font-size="35" text-anchor="end" letter-spacing="1.5">600</text>
<line x1="548.7" y1="1956.3" x2="561.2" y2="1956.3" stroke="#000" stroke-width="2.6" />
<text x="541.5" y="1968.6" font-size="35" text-anchor="end" letter-spacing="1.5">800</text>
<line x1="561.2" y1="2249.3" x2="561.2" y2="2263" stroke="#000" stroke-width="2.6" />
<text x="562" y="2299" font-size="35" text-anchor="middle" letter-spacing="1.5">0</text>
<line x1="634.6" y1="2249.3" x2="634.6" y2="2263" stroke="#000" stroke-width="2.6" />
<text x="635.3" y="2299" font-size="35" text-anchor="middle" letter-spacing="1.5">14</text>
<line x1="707.9" y1="2249.3" x2="707.9" y2="2263" stroke="#000" stroke-width="2.6" />
<text x="708.7" y="2299" font-size="35" text-anchor="middle" letter-spacing="1.5">28</text>
<line x1="781.3" y1="2249.3" x2="781.3" y2="2263" stroke="#000" stroke-width="2.6" />
<text x="782.1" y="2299" font-size="35" text-anchor="middle" letter-spacing="1.5">42</text>
<line x1="854.7" y1="2249.3" x2="854.7" y2="2263" stroke="#000" stroke-width="2.6" />
<text x="855.4" y="2299" font-size="35" text-anchor="middle" letter-spacing="1.5">56</text>
<line x1="928" y1="2249.3" x2="928" y2="2263" stroke="#000" stroke-width="2.6" />
<text x="928.8" y="2299" font-size="35" text-anchor="middle" letter-spacing="1.5">70</text>
<line x1="1001.4" y1="2249.3" x2="1001.4" y2="2263" stroke="#000" stroke-width="2.6" />
<text x="1002.2" y="2299" font-size="35" text-anchor="middle" letter-spacing="1.5">84</text>
<text x="781.7" y="2362" font-size="35" text-anchor="middle" >Time (days)</text>
<text transform="translate(438.2,2101.6) rotate(-90)" font-size="34" text-anchor="middle" textLength="217.5" lengthAdjust="spacingAndGlyphs">Volume (mm³)</text>
<line x1="571.7" y1="2231" x2="571.7" y2="2227.3" stroke="#8e2024" stroke-width="2.3" />
<line x1="562.7" y1="2227.3" x2="580.7" y2="2227.3" stroke="#8e2024" stroke-width="2.3" />
<line x1="562.7" y1="2231" x2="580.7" y2="2231" stroke="#8e2024" stroke-width="2.3" />
<line x1="592.6" y1="2232.8" x2="592.6" y2="2229.2" stroke="#8e2024" stroke-width="2.3" />
<line x1="583.6" y1="2229.2" x2="601.6" y2="2229.2" stroke="#8e2024" stroke-width="2.3" />
<line x1="583.6" y1="2232.8" x2="601.6" y2="2232.8" stroke="#8e2024" stroke-width="2.3" />
<line x1="608.4" y1="2233.2" x2="608.4" y2="2229.5" stroke="#8e2024" stroke-width="2.3" />
<line x1="599.4" y1="2229.5" x2="617.4" y2="2229.5" stroke="#8e2024" stroke-width="2.3" />
<line x1="599.4" y1="2233.2" x2="617.4" y2="2233.2" stroke="#8e2024" stroke-width="2.3" />
<line x1="629.3" y1="2232.1" x2="629.3" y2="2226.2" stroke="#8e2024" stroke-width="2.3" />
<line x1="620.3" y1="2226.2" x2="638.3" y2="2226.2" stroke="#8e2024" stroke-width="2.3" />
<line x1="620.3" y1="2232.1" x2="638.3" y2="2232.1" stroke="#8e2024" stroke-width="2.3" />
<line x1="645" y1="2228.4" x2="645" y2="2222.6" stroke="#8e2024" stroke-width="2.3" />
<line x1="636" y1="2222.6" x2="654" y2="2222.6" stroke="#8e2024" stroke-width="2.3" />
<line x1="636" y1="2228.4" x2="654" y2="2228.4" stroke="#8e2024" stroke-width="2.3" />
<line x1="666" y1="2222.2" x2="666" y2="2213.4" stroke="#8e2024" stroke-width="2.3" />
<line x1="657" y1="2213.4" x2="675" y2="2213.4" stroke="#8e2024" stroke-width="2.3" />
<line x1="657" y1="2222.2" x2="675" y2="2222.2" stroke="#8e2024" stroke-width="2.3" />
<line x1="681.7" y1="2215.6" x2="681.7" y2="2204.6" stroke="#8e2024" stroke-width="2.3" />
<line x1="672.7" y1="2204.6" x2="690.7" y2="2204.6" stroke="#8e2024" stroke-width="2.3" />
<line x1="672.7" y1="2215.6" x2="690.7" y2="2215.6" stroke="#8e2024" stroke-width="2.3" />
<line x1="702.7" y1="2207.5" x2="702.7" y2="2192.9" stroke="#8e2024" stroke-width="2.3" />
<line x1="693.7" y1="2192.9" x2="711.7" y2="2192.9" stroke="#8e2024" stroke-width="2.3" />
<line x1="693.7" y1="2207.5" x2="711.7" y2="2207.5" stroke="#8e2024" stroke-width="2.3" />
<line x1="718.4" y1="2211.6" x2="718.4" y2="2196.9" stroke="#8e2024" stroke-width="2.3" />
<line x1="709.4" y1="2196.9" x2="727.4" y2="2196.9" stroke="#8e2024" stroke-width="2.3" />
<line x1="709.4" y1="2211.6" x2="727.4" y2="2211.6" stroke="#8e2024" stroke-width="2.3" />
<line x1="739.4" y1="2211.6" x2="739.4" y2="2193.3" stroke="#8e2024" stroke-width="2.3" />
<line x1="730.4" y1="2193.3" x2="748.4" y2="2193.3" stroke="#8e2024" stroke-width="2.3" />
<line x1="730.4" y1="2211.6" x2="748.4" y2="2211.6" stroke="#8e2024" stroke-width="2.3" />
<line x1="755.1" y1="2221.1" x2="755.1" y2="2206.4" stroke="#8e2024" stroke-width="2.3" />
<line x1="746.1" y1="2206.4" x2="764.1" y2="2206.4" stroke="#8e2024" stroke-width="2.3" />
<line x1="746.1" y1="2221.1" x2="764.1" y2="2221.1" stroke="#8e2024" stroke-width="2.3" />
<line x1="776.1" y1="2217.4" x2="776.1" y2="2202.8" stroke="#8e2024" stroke-width="2.3" />
<line x1="767.1" y1="2202.8" x2="785.1" y2="2202.8" stroke="#8e2024" stroke-width="2.3" />
<line x1="767.1" y1="2217.4" x2="785.1" y2="2217.4" stroke="#8e2024" stroke-width="2.3" />
<line x1="791.8" y1="2221.1" x2="791.8" y2="2206.4" stroke="#8e2024" stroke-width="2.3" />
<line x1="782.8" y1="2206.4" x2="800.8" y2="2206.4" stroke="#8e2024" stroke-width="2.3" />
<line x1="782.8" y1="2221.1" x2="800.8" y2="2221.1" stroke="#8e2024" stroke-width="2.3" />
<line x1="812.7" y1="2226.2" x2="812.7" y2="2213" stroke="#8e2024" stroke-width="2.3" />
<line x1="803.7" y1="2213" x2="821.7" y2="2213" stroke="#8e2024" stroke-width="2.3" />
<line x1="803.7" y1="2226.2" x2="821.7" y2="2226.2" stroke="#8e2024" stroke-width="2.3" />
<line x1="828.5" y1="2224.4" x2="828.5" y2="2211.2" stroke="#8e2024" stroke-width="2.3" />
<line x1="819.5" y1="2211.2" x2="837.5" y2="2211.2" stroke="#8e2024" stroke-width="2.3" />
<line x1="819.5" y1="2224.4" x2="837.5" y2="2224.4" stroke="#8e2024" stroke-width="2.3" />
<line x1="849.4" y1="2227" x2="849.4" y2="2212.3" stroke="#8e2024" stroke-width="2.3" />
<line x1="840.4" y1="2212.3" x2="858.4" y2="2212.3" stroke="#8e2024" stroke-width="2.3" />
<line x1="840.4" y1="2227" x2="858.4" y2="2227" stroke="#8e2024" stroke-width="2.3" />
<line x1="865.1" y1="2224" x2="865.1" y2="2207.9" stroke="#8e2024" stroke-width="2.3" />
<line x1="856.1" y1="2207.9" x2="874.1" y2="2207.9" stroke="#8e2024" stroke-width="2.3" />
<line x1="856.1" y1="2224" x2="874.1" y2="2224" stroke="#8e2024" stroke-width="2.3" />
<line x1="886.1" y1="2232.8" x2="886.1" y2="2218.2" stroke="#8e2024" stroke-width="2.3" />
<line x1="877.1" y1="2218.2" x2="895.1" y2="2218.2" stroke="#8e2024" stroke-width="2.3" />
<line x1="877.1" y1="2232.8" x2="895.1" y2="2232.8" stroke="#8e2024" stroke-width="2.3" />
<line x1="901.8" y1="2229.2" x2="901.8" y2="2202.8" stroke="#8e2024" stroke-width="2.3" />
<line x1="892.8" y1="2202.8" x2="910.8" y2="2202.8" stroke="#8e2024" stroke-width="2.3" />
<line x1="892.8" y1="2229.2" x2="910.8" y2="2229.2" stroke="#8e2024" stroke-width="2.3" />
<line x1="922.8" y1="2231.4" x2="922.8" y2="2207.9" stroke="#8e2024" stroke-width="2.3" />
<line x1="913.8" y1="2207.9" x2="931.8" y2="2207.9" stroke="#8e2024" stroke-width="2.3" />
<line x1="913.8" y1="2231.4" x2="931.8" y2="2231.4" stroke="#8e2024" stroke-width="2.3" />
<line x1="938.5" y1="2234.7" x2="938.5" y2="2212.7" stroke="#8e2024" stroke-width="2.3" />
<line x1="929.5" y1="2212.7" x2="947.5" y2="2212.7" stroke="#8e2024" stroke-width="2.3" />
<line x1="929.5" y1="2234.7" x2="947.5" y2="2234.7" stroke="#8e2024" stroke-width="2.3" />
<line x1="959.5" y1="2236.5" x2="959.5" y2="2213" stroke="#8e2024" stroke-width="2.3" />
<line x1="950.5" y1="2213" x2="968.5" y2="2213" stroke="#8e2024" stroke-width="2.3" />
<line x1="950.5" y1="2236.5" x2="968.5" y2="2236.5" stroke="#8e2024" stroke-width="2.3" />
<line x1="975.2" y1="2240.1" x2="975.2" y2="2214.5" stroke="#8e2024" stroke-width="2.3" />
<line x1="966.2" y1="2214.5" x2="984.2" y2="2214.5" stroke="#8e2024" stroke-width="2.3" />
<line x1="966.2" y1="2240.1" x2="984.2" y2="2240.1" stroke="#8e2024" stroke-width="2.3" />
<line x1="996.2" y1="2241.6" x2="996.2" y2="2221.1" stroke="#8e2024" stroke-width="2.3" />
<line x1="987.2" y1="2221.1" x2="1005.2" y2="2221.1" stroke="#8e2024" stroke-width="2.3" />
<line x1="987.2" y1="2241.6" x2="1005.2" y2="2241.6" stroke="#8e2024" stroke-width="2.3" />
<polyline points="571.7,2229.2 592.6,2231 608.4,2231.4 629.3,2229.2 645,2225.5 666,2217.8 681.7,2210.1 702.7,2200.2 718.4,2204.3 739.4,2202.4 755.1,2213.8 776.1,2210.1 791.8,2213.8 812.7,2219.6 828.5,2217.8 849.4,2219.6 865.1,2216 886.1,2225.5 901.8,2216 922.8,2219.6 938.5,2223.7 959.5,2224.8 975.2,2227.3 996.2,2231.4" fill="none" stroke="#8e2024" stroke-width="2.4" stroke-linejoin="round"/>
<circle cx="571.7" cy="2229.2" r="9.1" fill="none" stroke="#8e2024" stroke-width="2.6"/>
<circle cx="592.6" cy="2231" r="9.1" fill="none" stroke="#8e2024" stroke-width="2.6"/>
<circle cx="608.4" cy="2231.4" r="9.1" fill="none" stroke="#8e2024" stroke-width="2.6"/>
<circle cx="629.3" cy="2229.2" r="9.1" fill="none" stroke="#8e2024" stroke-width="2.6"/>
<circle cx="645" cy="2225.5" r="9.1" fill="none" stroke="#8e2024" stroke-width="2.6"/>
<circle cx="666" cy="2217.8" r="9.1" fill="none" stroke="#8e2024" stroke-width="2.6"/>
<circle cx="681.7" cy="2210.1" r="9.1" fill="none" stroke="#8e2024" stroke-width="2.6"/>
<circle cx="702.7" cy="2200.2" r="9.1" fill="none" stroke="#8e2024" stroke-width="2.6"/>
<circle cx="718.4" cy="2204.3" r="9.1" fill="none" stroke="#8e2024" stroke-width="2.6"/>
<circle cx="739.4" cy="2202.4" r="9.1" fill="none" stroke="#8e2024" stroke-width="2.6"/>
<circle cx="755.1" cy="2213.8" r="9.1" fill="none" stroke="#8e2024" stroke-width="2.6"/>
<circle cx="776.1" cy="2210.1" r="9.1" fill="none" stroke="#8e2024" stroke-width="2.6"/>
<circle cx="791.8" cy="2213.8" r="9.1" fill="none" stroke="#8e2024" stroke-width="2.6"/>
<circle cx="812.7" cy="2219.6" r="9.1" fill="none" stroke="#8e2024" stroke-width="2.6"/>
<circle cx="828.5" cy="2217.8" r="9.1" fill="none" stroke="#8e2024" stroke-width="2.6"/>
<circle cx="849.4" cy="2219.6" r="9.1" fill="none" stroke="#8e2024" stroke-width="2.6"/>
<circle cx="865.1" cy="2216" r="9.1" fill="none" stroke="#8e2024" stroke-width="2.6"/>
<circle cx="886.1" cy="2225.5" r="9.1" fill="none" stroke="#8e2024" stroke-width="2.6"/>
<circle cx="901.8" cy="2216" r="9.1" fill="none" stroke="#8e2024" stroke-width="2.6"/>
<circle cx="922.8" cy="2219.6" r="9.1" fill="none" stroke="#8e2024" stroke-width="2.6"/>
<circle cx="938.5" cy="2223.7" r="9.1" fill="none" stroke="#8e2024" stroke-width="2.6"/>
<circle cx="959.5" cy="2224.8" r="9.1" fill="none" stroke="#8e2024" stroke-width="2.6"/>
<circle cx="975.2" cy="2227.3" r="9.1" fill="none" stroke="#8e2024" stroke-width="2.6"/>
<circle cx="996.2" cy="2231.4" r="9.1" fill="none" stroke="#8e2024" stroke-width="2.6"/>
<line x1="571.7" y1="2228.4" x2="571.7" y2="2224.8" stroke="#8e2024" stroke-width="2.3" />
<line x1="562.7" y1="2224.8" x2="580.7" y2="2224.8" stroke="#8e2024" stroke-width="2.3" />
<line x1="562.7" y1="2228.4" x2="580.7" y2="2228.4" stroke="#8e2024" stroke-width="2.3" />
<line x1="592.6" y1="2233.2" x2="592.6" y2="2229.5" stroke="#8e2024" stroke-width="2.3" />
<line x1="583.6" y1="2229.5" x2="601.6" y2="2229.5" stroke="#8e2024" stroke-width="2.3" />
<line x1="583.6" y1="2233.2" x2="601.6" y2="2233.2" stroke="#8e2024" stroke-width="2.3" />
<line x1="608.4" y1="2226.6" x2="608.4" y2="2220.7" stroke="#8e2024" stroke-width="2.3" />
<line x1="599.4" y1="2220.7" x2="617.4" y2="2220.7" stroke="#8e2024" stroke-width="2.3" />
<line x1="599.4" y1="2226.6" x2="617.4" y2="2226.6" stroke="#8e2024" stroke-width="2.3" />
<line x1="629.3" y1="2223.3" x2="629.3" y2="2216" stroke="#8e2024" stroke-width="2.3" />
<line x1="620.3" y1="2216" x2="638.3" y2="2216" stroke="#8e2024" stroke-width="2.3" />
<line x1="620.3" y1="2223.3" x2="638.3" y2="2223.3" stroke="#8e2024" stroke-width="2.3" />
<line x1="645" y1="2216.7" x2="645" y2="2209.4" stroke="#8e2024" stroke-width="2.3" />
<line x1="636" y1="2209.4" x2="654" y2="2209.4" stroke="#8e2024" stroke-width="2.3" />
<line x1="636" y1="2216.7" x2="654" y2="2216.7" stroke="#8e2024" stroke-width="2.3" />
<line x1="666" y1="2210.5" x2="666" y2="2195.8" stroke="#8e2024" stroke-width="2.3" />
<line x1="657" y1="2195.8" x2="675" y2="2195.8" stroke="#8e2024" stroke-width="2.3" />
<line x1="657" y1="2210.5" x2="675" y2="2210.5" stroke="#8e2024" stroke-width="2.3" />
<line x1="681.7" y1="2207.5" x2="681.7" y2="2185.6" stroke="#8e2024" stroke-width="2.3" />
<line x1="672.7" y1="2185.6" x2="690.7" y2="2185.6" stroke="#8e2024" stroke-width="2.3" />
<line x1="672.7" y1="2207.5" x2="690.7" y2="2207.5" stroke="#8e2024" stroke-width="2.3" />
<line x1="702.7" y1="2199.9" x2="702.7" y2="2174.2" stroke="#8e2024" stroke-width="2.3" />
<line x1="693.7" y1="2174.2" x2="711.7" y2="2174.2" stroke="#8e2024" stroke-width="2.3" />
<line x1="693.7" y1="2199.9" x2="711.7" y2="2199.9" stroke="#8e2024" stroke-width="2.3" />
<line x1="718.4" y1="2205.4" x2="718.4" y2="2179.7" stroke="#8e2024" stroke-width="2.3" />
<line x1="709.4" y1="2179.7" x2="727.4" y2="2179.7" stroke="#8e2024" stroke-width="2.3" />
<line x1="709.4" y1="2205.4" x2="727.4" y2="2205.4" stroke="#8e2024" stroke-width="2.3" />
<line x1="739.4" y1="2205.4" x2="739.4" y2="2176.1" stroke="#8e2024" stroke-width="2.3" />
<line x1="730.4" y1="2176.1" x2="748.4" y2="2176.1" stroke="#8e2024" stroke-width="2.3" />
<line x1="730.4" y1="2205.4" x2="748.4" y2="2205.4" stroke="#8e2024" stroke-width="2.3" />
<line x1="755.1" y1="2213" x2="755.1" y2="2183.7" stroke="#8e2024" stroke-width="2.3" />
<line x1="746.1" y1="2183.7" x2="764.1" y2="2183.7" stroke="#8e2024" stroke-width="2.3" />
<line x1="746.1" y1="2213" x2="764.1" y2="2213" stroke="#8e2024" stroke-width="2.3" />
<line x1="776.1" y1="2213" x2="776.1" y2="2183.7" stroke="#8e2024" stroke-width="2.3" />
<line x1="767.1" y1="2183.7" x2="785.1" y2="2183.7" stroke="#8e2024" stroke-width="2.3" />
<line x1="767.1" y1="2213" x2="785.1" y2="2213" stroke="#8e2024" stroke-width="2.3" />
<line x1="791.8" y1="2208.3" x2="791.8" y2="2179" stroke="#8e2024" stroke-width="2.3" />
<line x1="782.8" y1="2179" x2="800.8" y2="2179" stroke="#8e2024" stroke-width="2.3" />
<line x1="782.8" y1="2208.3" x2="800.8" y2="2208.3" stroke="#8e2024" stroke-width="2.3" />
<line x1="812.7" y1="2203.5" x2="812.7" y2="2170.6" stroke="#8e2024" stroke-width="2.3" />
<line x1="803.7" y1="2170.6" x2="821.7" y2="2170.6" stroke="#8e2024" stroke-width="2.3" />
<line x1="803.7" y1="2203.5" x2="821.7" y2="2203.5" stroke="#8e2024" stroke-width="2.3" />
<line x1="828.5" y1="2209" x2="828.5" y2="2168.7" stroke="#8e2024" stroke-width="2.3" />
<line x1="819.5" y1="2168.7" x2="837.5" y2="2168.7" stroke="#8e2024" stroke-width="2.3" />
<line x1="819.5" y1="2209" x2="837.5" y2="2209" stroke="#8e2024" stroke-width="2.3" />
<line x1="849.4" y1="2203.2" x2="849.4" y2="2159.2" stroke="#8e2024" stroke-width="2.3" />
<line x1="840.4" y1="2159.2" x2="858.4" y2="2159.2" stroke="#8e2024" stroke-width="2.3" />
<line x1="840.4" y1="2203.2" x2="858.4" y2="2203.2" stroke="#8e2024" stroke-width="2.3" />
<line x1="865.1" y1="2196.9" x2="865.1" y2="2145.7" stroke="#8e2024" stroke-width="2.3" />
<line x1="856.1" y1="2145.7" x2="874.1" y2="2145.7" stroke="#8e2024" stroke-width="2.3" />
<line x1="856.1" y1="2196.9" x2="874.1" y2="2196.9" stroke="#8e2024" stroke-width="2.3" />
<line x1="886.1" y1="2206.1" x2="886.1" y2="2144.6" stroke="#8e2024" stroke-width="2.3" />
<line x1="877.1" y1="2144.6" x2="895.1" y2="2144.6" stroke="#8e2024" stroke-width="2.3" />
<line x1="877.1" y1="2206.1" x2="895.1" y2="2206.1" stroke="#8e2024" stroke-width="2.3" />
<line x1="901.8" y1="2209.4" x2="901.8" y2="2143.5" stroke="#8e2024" stroke-width="2.3" />
<line x1="892.8" y1="2143.5" x2="910.8" y2="2143.5" stroke="#8e2024" stroke-width="2.3" />
<line x1="892.8" y1="2209.4" x2="910.8" y2="2209.4" stroke="#8e2024" stroke-width="2.3" />
<line x1="922.8" y1="2201.7" x2="922.8" y2="2125.5" stroke="#8e2024" stroke-width="2.3" />
<line x1="913.8" y1="2125.5" x2="931.8" y2="2125.5" stroke="#8e2024" stroke-width="2.3" />
<line x1="913.8" y1="2201.7" x2="931.8" y2="2201.7" stroke="#8e2024" stroke-width="2.3" />
<line x1="938.5" y1="2202.4" x2="938.5" y2="2129.2" stroke="#8e2024" stroke-width="2.3" />
<line x1="929.5" y1="2129.2" x2="947.5" y2="2129.2" stroke="#8e2024" stroke-width="2.3" />
<line x1="929.5" y1="2202.4" x2="947.5" y2="2202.4" stroke="#8e2024" stroke-width="2.3" />
<line x1="959.5" y1="2199.9" x2="959.5" y2="2112" stroke="#8e2024" stroke-width="2.3" />
<line x1="950.5" y1="2112" x2="968.5" y2="2112" stroke="#8e2024" stroke-width="2.3" />
<line x1="950.5" y1="2199.9" x2="968.5" y2="2199.9" stroke="#8e2024" stroke-width="2.3" />
<line x1="975.2" y1="2204.3" x2="975.2" y2="2088.5" stroke="#8e2024" stroke-width="2.3" />
<line x1="966.2" y1="2088.5" x2="984.2" y2="2088.5" stroke="#8e2024" stroke-width="2.3" />
<line x1="966.2" y1="2204.3" x2="984.2" y2="2204.3" stroke="#8e2024" stroke-width="2.3" />
<line x1="996.2" y1="2202.1" x2="996.2" y2="2051.9" stroke="#8e2024" stroke-width="2.3" />
<line x1="987.2" y1="2051.9" x2="1005.2" y2="2051.9" stroke="#8e2024" stroke-width="2.3" />
<line x1="987.2" y1="2202.1" x2="1005.2" y2="2202.1" stroke="#8e2024" stroke-width="2.3" />
<polyline points="571.7,2226.6 592.6,2231.4 608.4,2223.7 629.3,2219.6 645,2213 666,2203.2 681.7,2196.6 702.7,2187 718.4,2192.5 739.4,2190.7 755.1,2198.4 776.1,2198.4 791.8,2193.6 812.7,2187 828.5,2188.9 849.4,2181.2 865.1,2171.3 886.1,2175.3 901.8,2176.4 922.8,2163.6 938.5,2165.8 959.5,2155.9 975.2,2146.4 996.2,2127" fill="none" stroke="#8e2024" stroke-width="2.4" stroke-linejoin="round"/>
<circle cx="571.7" cy="2226.6" r="10.3" fill="#8e2024" stroke="none" stroke-width="0"/>
<circle cx="592.6" cy="2231.4" r="10.3" fill="#8e2024" stroke="none" stroke-width="0"/>
<circle cx="608.4" cy="2223.7" r="10.3" fill="#8e2024" stroke="none" stroke-width="0"/>
<circle cx="629.3" cy="2219.6" r="10.3" fill="#8e2024" stroke="none" stroke-width="0"/>
<circle cx="645" cy="2213" r="10.3" fill="#8e2024" stroke="none" stroke-width="0"/>
<circle cx="666" cy="2203.2" r="10.3" fill="#8e2024" stroke="none" stroke-width="0"/>
<circle cx="681.7" cy="2196.6" r="10.3" fill="#8e2024" stroke="none" stroke-width="0"/>
<circle cx="702.7" cy="2187" r="10.3" fill="#8e2024" stroke="none" stroke-width="0"/>
<circle cx="718.4" cy="2192.5" r="10.3" fill="#8e2024" stroke="none" stroke-width="0"/>
<circle cx="739.4" cy="2190.7" r="10.3" fill="#8e2024" stroke="none" stroke-width="0"/>
<circle cx="755.1" cy="2198.4" r="10.3" fill="#8e2024" stroke="none" stroke-width="0"/>
<circle cx="776.1" cy="2198.4" r="10.3" fill="#8e2024" stroke="none" stroke-width="0"/>
<circle cx="791.8" cy="2193.6" r="10.3" fill="#8e2024" stroke="none" stroke-width="0"/>
<circle cx="812.7" cy="2187" r="10.3" fill="#8e2024" stroke="none" stroke-width="0"/>
<circle cx="828.5" cy="2188.9" r="10.3" fill="#8e2024" stroke="none" stroke-width="0"/>
<circle cx="849.4" cy="2181.2" r="10.3" fill="#8e2024" stroke="none" stroke-width="0"/>
<circle cx="865.1" cy="2171.3" r="10.3" fill="#8e2024" stroke="none" stroke-width="0"/>
<circle cx="886.1" cy="2175.3" r="10.3" fill="#8e2024" stroke="none" stroke-width="0"/>
<circle cx="901.8" cy="2176.4" r="10.3" fill="#8e2024" stroke="none" stroke-width="0"/>
<circle cx="922.8" cy="2163.6" r="10.3" fill="#8e2024" stroke="none" stroke-width="0"/>
<circle cx="938.5" cy="2165.8" r="10.3" fill="#8e2024" stroke="none" stroke-width="0"/>
<circle cx="959.5" cy="2155.9" r="10.3" fill="#8e2024" stroke="none" stroke-width="0"/>
<circle cx="975.2" cy="2146.4" r="10.3" fill="#8e2024" stroke="none" stroke-width="0"/>
<circle cx="996.2" cy="2127" r="10.3" fill="#8e2024" stroke="none" stroke-width="0"/>
<line x1="571.7" y1="2228.1" x2="571.7" y2="2225.5" stroke="#282d7c" stroke-width="2.3" />
<line x1="562.7" y1="2225.5" x2="580.7" y2="2225.5" stroke="#282d7c" stroke-width="2.3" />
<line x1="562.7" y1="2228.1" x2="580.7" y2="2228.1" stroke="#282d7c" stroke-width="2.3" />
<line x1="592.6" y1="2224.5" x2="592.6" y2="2221.8" stroke="#282d7c" stroke-width="2.3" />
<line x1="583.6" y1="2221.8" x2="601.6" y2="2221.8" stroke="#282d7c" stroke-width="2.3" />
<line x1="583.6" y1="2224.5" x2="601.6" y2="2224.5" stroke="#282d7c" stroke-width="2.3" />
<line x1="608.4" y1="2220.8" x2="608.4" y2="2218.2" stroke="#282d7c" stroke-width="2.3" />
<line x1="599.4" y1="2218.2" x2="617.4" y2="2218.2" stroke="#282d7c" stroke-width="2.3" />
<line x1="599.4" y1="2220.8" x2="617.4" y2="2220.8" stroke="#282d7c" stroke-width="2.3" />
<line x1="629.3" y1="2214.3" x2="629.3" y2="2209" stroke="#282d7c" stroke-width="2.3" />
<line x1="620.3" y1="2209" x2="638.3" y2="2209" stroke="#282d7c" stroke-width="2.3" />
<line x1="620.3" y1="2214.3" x2="638.3" y2="2214.3" stroke="#282d7c" stroke-width="2.3" />
<line x1="645" y1="2210.7" x2="645" y2="2205.4" stroke="#282d7c" stroke-width="2.3" />
<line x1="636" y1="2205.4" x2="654" y2="2205.4" stroke="#282d7c" stroke-width="2.3" />
<line x1="636" y1="2210.7" x2="654" y2="2210.7" stroke="#282d7c" stroke-width="2.3" />
<line x1="666" y1="2185.9" x2="666" y2="2164.7" stroke="#282d7c" stroke-width="2.3" />
<line x1="657" y1="2164.7" x2="675" y2="2164.7" stroke="#282d7c" stroke-width="2.3" />
<line x1="657" y1="2185.9" x2="675" y2="2185.9" stroke="#282d7c" stroke-width="2.3" />
<line x1="681.7" y1="2159.1" x2="681.7" y2="2102.8" stroke="#282d7c" stroke-width="2.3" />
<line x1="672.7" y1="2102.8" x2="690.7" y2="2102.8" stroke="#282d7c" stroke-width="2.3" />
<line x1="672.7" y1="2159.1" x2="690.7" y2="2159.1" stroke="#282d7c" stroke-width="2.3" />
<line x1="702.7" y1="2156" x2="702.7" y2="2088.5" stroke="#282d7c" stroke-width="2.3" />
<line x1="693.7" y1="2088.5" x2="711.7" y2="2088.5" stroke="#282d7c" stroke-width="2.3" />
<line x1="693.7" y1="2156" x2="711.7" y2="2156" stroke="#282d7c" stroke-width="2.3" />
<line x1="718.4" y1="2155.2" x2="718.4" y2="2092.5" stroke="#282d7c" stroke-width="2.3" />
<line x1="709.4" y1="2092.5" x2="727.4" y2="2092.5" stroke="#282d7c" stroke-width="2.3" />
<line x1="709.4" y1="2155.2" x2="727.4" y2="2155.2" stroke="#282d7c" stroke-width="2.3" />
<line x1="739.4" y1="2145.7" x2="739.4" y2="2051.2" stroke="#282d7c" stroke-width="2.3" />
<line x1="730.4" y1="2051.2" x2="748.4" y2="2051.2" stroke="#282d7c" stroke-width="2.3" />
<line x1="730.4" y1="2145.7" x2="748.4" y2="2145.7" stroke="#282d7c" stroke-width="2.3" />
<line x1="755.1" y1="2209.6" x2="755.1" y2="2136.9" stroke="#282d7c" stroke-width="2.3" />
<line x1="746.1" y1="2136.9" x2="764.1" y2="2136.9" stroke="#282d7c" stroke-width="2.3" />
<line x1="746.1" y1="2209.6" x2="764.1" y2="2209.6" stroke="#282d7c" stroke-width="2.3" />
<line x1="776.1" y1="2166.8" x2="776.1" y2="2138.7" stroke="#282d7c" stroke-width="2.3" />
<line x1="767.1" y1="2138.7" x2="785.1" y2="2138.7" stroke="#282d7c" stroke-width="2.3" />
<line x1="767.1" y1="2166.8" x2="785.1" y2="2166.8" stroke="#282d7c" stroke-width="2.3" />
<line x1="791.8" y1="2180.6" x2="791.8" y2="2138.7" stroke="#282d7c" stroke-width="2.3" />
<line x1="782.8" y1="2138.7" x2="800.8" y2="2138.7" stroke="#282d7c" stroke-width="2.3" />
<line x1="782.8" y1="2180.6" x2="800.8" y2="2180.6" stroke="#282d7c" stroke-width="2.3" />
<line x1="812.7" y1="2188.3" x2="812.7" y2="2140.5" stroke="#282d7c" stroke-width="2.3" />
<line x1="803.7" y1="2140.5" x2="821.7" y2="2140.5" stroke="#282d7c" stroke-width="2.3" />
<line x1="803.7" y1="2188.3" x2="821.7" y2="2188.3" stroke="#282d7c" stroke-width="2.3" />
<line x1="828.5" y1="2195" x2="828.5" y2="2123.3" stroke="#282d7c" stroke-width="2.3" />
<line x1="819.5" y1="2123.3" x2="837.5" y2="2123.3" stroke="#282d7c" stroke-width="2.3" />
<line x1="819.5" y1="2195" x2="837.5" y2="2195" stroke="#282d7c" stroke-width="2.3" />
<line x1="849.4" y1="2198.7" x2="849.4" y2="2129.2" stroke="#282d7c" stroke-width="2.3" />
<line x1="840.4" y1="2129.2" x2="858.4" y2="2129.2" stroke="#282d7c" stroke-width="2.3" />
<line x1="840.4" y1="2198.7" x2="858.4" y2="2198.7" stroke="#282d7c" stroke-width="2.3" />
<line x1="865.1" y1="2201.6" x2="865.1" y2="2103.9" stroke="#282d7c" stroke-width="2.3" />
<line x1="856.1" y1="2103.9" x2="874.1" y2="2103.9" stroke="#282d7c" stroke-width="2.3" />
<line x1="856.1" y1="2201.6" x2="874.1" y2="2201.6" stroke="#282d7c" stroke-width="2.3" />
<line x1="886.1" y1="2160.5" x2="886.1" y2="2096.2" stroke="#282d7c" stroke-width="2.3" />
<line x1="877.1" y1="2096.2" x2="895.1" y2="2096.2" stroke="#282d7c" stroke-width="2.3" />
<line x1="877.1" y1="2160.5" x2="895.1" y2="2160.5" stroke="#282d7c" stroke-width="2.3" />
<line x1="901.8" y1="2144.8" x2="901.8" y2="2088.5" stroke="#282d7c" stroke-width="2.3" />
<line x1="892.8" y1="2088.5" x2="910.8" y2="2088.5" stroke="#282d7c" stroke-width="2.3" />
<line x1="892.8" y1="2144.8" x2="910.8" y2="2144.8" stroke="#282d7c" stroke-width="2.3" />
<line x1="922.8" y1="2141.4" x2="922.8" y2="2077.2" stroke="#282d7c" stroke-width="2.3" />
<line x1="913.8" y1="2077.2" x2="931.8" y2="2077.2" stroke="#282d7c" stroke-width="2.3" />
<line x1="913.8" y1="2141.4" x2="931.8" y2="2141.4" stroke="#282d7c" stroke-width="2.3" />
<line x1="938.5" y1="2124.5" x2="938.5" y2="2090" stroke="#282d7c" stroke-width="2.3" />
<line x1="929.5" y1="2090" x2="947.5" y2="2090" stroke="#282d7c" stroke-width="2.3" />
<line x1="929.5" y1="2124.5" x2="947.5" y2="2124.5" stroke="#282d7c" stroke-width="2.3" />
<line x1="959.5" y1="2133.3" x2="959.5" y2="2045.7" stroke="#282d7c" stroke-width="2.3" />
<line x1="950.5" y1="2045.7" x2="968.5" y2="2045.7" stroke="#282d7c" stroke-width="2.3" />
<line x1="950.5" y1="2133.3" x2="968.5" y2="2133.3" stroke="#282d7c" stroke-width="2.3" />
<line x1="975.2" y1="2155.9" x2="975.2" y2="2038" stroke="#282d7c" stroke-width="2.3" />
<line x1="966.2" y1="2038" x2="984.2" y2="2038" stroke="#282d7c" stroke-width="2.3" />
<line x1="966.2" y1="2155.9" x2="984.2" y2="2155.9" stroke="#282d7c" stroke-width="2.3" />
<line x1="996.2" y1="2122.4" x2="996.2" y2="2026.3" stroke="#282d7c" stroke-width="2.3" />
<line x1="987.2" y1="2026.3" x2="1005.2" y2="2026.3" stroke="#282d7c" stroke-width="2.3" />
<line x1="987.2" y1="2122.4" x2="1005.2" y2="2122.4" stroke="#282d7c" stroke-width="2.3" />
<polyline points="571.7,2227.3 592.6,2223.7 608.4,2220 629.3,2212.7 645,2209 666,2179.3 681.7,2141.6 702.7,2135 718.4,2135.8 739.4,2116.4 755.1,2187 776.1,2158.1 791.8,2167.6 812.7,2173.5 828.5,2172.8 849.4,2177.1 865.1,2171.3 886.1,2140.5 901.8,2127.3 922.8,2121.5 938.5,2113.8 959.5,2106.1 975.2,2119.3 996.2,2092.5" fill="none" stroke="#282d7c" stroke-width="2.4" stroke-linejoin="round"/>
<circle cx="571.7" cy="2227.3" r="9.1" fill="none" stroke="#282d7c" stroke-width="2.6"/>
<circle cx="592.6" cy="2223.7" r="9.1" fill="none" stroke="#282d7c" stroke-width="2.6"/>
<circle cx="608.4" cy="2220" r="9.1" fill="none" stroke="#282d7c" stroke-width="2.6"/>
<circle cx="629.3" cy="2212.7" r="9.1" fill="none" stroke="#282d7c" stroke-width="2.6"/>
<circle cx="645" cy="2209" r="9.1" fill="none" stroke="#282d7c" stroke-width="2.6"/>
<circle cx="666" cy="2179.3" r="9.1" fill="none" stroke="#282d7c" stroke-width="2.6"/>
<circle cx="681.7" cy="2141.6" r="9.1" fill="none" stroke="#282d7c" stroke-width="2.6"/>
<circle cx="702.7" cy="2135" r="9.1" fill="none" stroke="#282d7c" stroke-width="2.6"/>
<circle cx="718.4" cy="2135.8" r="9.1" fill="none" stroke="#282d7c" stroke-width="2.6"/>
<circle cx="739.4" cy="2116.4" r="9.1" fill="none" stroke="#282d7c" stroke-width="2.6"/>
<circle cx="755.1" cy="2187" r="9.1" fill="none" stroke="#282d7c" stroke-width="2.6"/>
<circle cx="776.1" cy="2158.1" r="9.1" fill="none" stroke="#282d7c" stroke-width="2.6"/>
<circle cx="791.8" cy="2167.6" r="9.1" fill="none" stroke="#282d7c" stroke-width="2.6"/>
<circle cx="812.7" cy="2173.5" r="9.1" fill="none" stroke="#282d7c" stroke-width="2.6"/>
<circle cx="828.5" cy="2172.8" r="9.1" fill="none" stroke="#282d7c" stroke-width="2.6"/>
<circle cx="849.4" cy="2177.1" r="9.1" fill="none" stroke="#282d7c" stroke-width="2.6"/>
<circle cx="865.1" cy="2171.3" r="9.1" fill="none" stroke="#282d7c" stroke-width="2.6"/>
<circle cx="886.1" cy="2140.5" r="9.1" fill="none" stroke="#282d7c" stroke-width="2.6"/>
<circle cx="901.8" cy="2127.3" r="9.1" fill="none" stroke="#282d7c" stroke-width="2.6"/>
<circle cx="922.8" cy="2121.5" r="9.1" fill="none" stroke="#282d7c" stroke-width="2.6"/>
<circle cx="938.5" cy="2113.8" r="9.1" fill="none" stroke="#282d7c" stroke-width="2.6"/>
<circle cx="959.5" cy="2106.1" r="9.1" fill="none" stroke="#282d7c" stroke-width="2.6"/>
<circle cx="975.2" cy="2119.3" r="9.1" fill="none" stroke="#282d7c" stroke-width="2.6"/>
<circle cx="996.2" cy="2092.5" r="9.1" fill="none" stroke="#282d7c" stroke-width="2.6"/>
<line x1="571.7" y1="2227.7" x2="571.7" y2="2224.8" stroke="#282d7c" stroke-width="2.3" />
<line x1="562.7" y1="2224.8" x2="580.7" y2="2224.8" stroke="#282d7c" stroke-width="2.3" />
<line x1="562.7" y1="2227.7" x2="580.7" y2="2227.7" stroke="#282d7c" stroke-width="2.3" />
<line x1="592.6" y1="2223.2" x2="592.6" y2="2218.5" stroke="#282d7c" stroke-width="2.3" />
<line x1="583.6" y1="2218.5" x2="601.6" y2="2218.5" stroke="#282d7c" stroke-width="2.3" />
<line x1="583.6" y1="2223.2" x2="601.6" y2="2223.2" stroke="#282d7c" stroke-width="2.3" />
<line x1="608.4" y1="2219.3" x2="608.4" y2="2213.4" stroke="#282d7c" stroke-width="2.3" />
<line x1="599.4" y1="2213.4" x2="617.4" y2="2213.4" stroke="#282d7c" stroke-width="2.3" />
<line x1="599.4" y1="2219.3" x2="617.4" y2="2219.3" stroke="#282d7c" stroke-width="2.3" />
<line x1="629.3" y1="2210.6" x2="629.3" y2="2203.5" stroke="#282d7c" stroke-width="2.3" />
<line x1="620.3" y1="2203.5" x2="638.3" y2="2203.5" stroke="#282d7c" stroke-width="2.3" />
<line x1="620.3" y1="2210.6" x2="638.3" y2="2210.6" stroke="#282d7c" stroke-width="2.3" />
<line x1="645" y1="2208.6" x2="645" y2="2199.9" stroke="#282d7c" stroke-width="2.3" />
<line x1="636" y1="2199.9" x2="654" y2="2199.9" stroke="#282d7c" stroke-width="2.3" />
<line x1="636" y1="2208.6" x2="654" y2="2208.6" stroke="#282d7c" stroke-width="2.3" />
<line x1="666" y1="2200.2" x2="666" y2="2165.1" stroke="#282d7c" stroke-width="2.3" />
<line x1="657" y1="2165.1" x2="675" y2="2165.1" stroke="#282d7c" stroke-width="2.3" />
<line x1="657" y1="2200.2" x2="675" y2="2200.2" stroke="#282d7c" stroke-width="2.3" />
<line x1="681.7" y1="2173.5" x2="681.7" y2="2155.9" stroke="#282d7c" stroke-width="2.3" />
<line x1="672.7" y1="2155.9" x2="690.7" y2="2155.9" stroke="#282d7c" stroke-width="2.3" />
<line x1="672.7" y1="2173.5" x2="690.7" y2="2173.5" stroke="#282d7c" stroke-width="2.3" />
<line x1="702.7" y1="2174.6" x2="702.7" y2="2151.1" stroke="#282d7c" stroke-width="2.3" />
<line x1="693.7" y1="2151.1" x2="711.7" y2="2151.1" stroke="#282d7c" stroke-width="2.3" />
<line x1="693.7" y1="2174.6" x2="711.7" y2="2174.6" stroke="#282d7c" stroke-width="2.3" />
<line x1="718.4" y1="2160.3" x2="718.4" y2="2136.9" stroke="#282d7c" stroke-width="2.3" />
<line x1="709.4" y1="2136.9" x2="727.4" y2="2136.9" stroke="#282d7c" stroke-width="2.3" />
<line x1="709.4" y1="2160.3" x2="727.4" y2="2160.3" stroke="#282d7c" stroke-width="2.3" />
<line x1="739.4" y1="2169.8" x2="739.4" y2="2146.4" stroke="#282d7c" stroke-width="2.3" />
<line x1="730.4" y1="2146.4" x2="748.4" y2="2146.4" stroke="#282d7c" stroke-width="2.3" />
<line x1="730.4" y1="2169.8" x2="748.4" y2="2169.8" stroke="#282d7c" stroke-width="2.3" />
<line x1="755.1" y1="2160.3" x2="755.1" y2="2136.9" stroke="#282d7c" stroke-width="2.3" />
<line x1="746.1" y1="2136.9" x2="764.1" y2="2136.9" stroke="#282d7c" stroke-width="2.3" />
<line x1="746.1" y1="2160.3" x2="764.1" y2="2160.3" stroke="#282d7c" stroke-width="2.3" />
<line x1="776.1" y1="2162.1" x2="776.1" y2="2138.7" stroke="#282d7c" stroke-width="2.3" />
<line x1="767.1" y1="2138.7" x2="785.1" y2="2138.7" stroke="#282d7c" stroke-width="2.3" />
<line x1="767.1" y1="2162.1" x2="785.1" y2="2162.1" stroke="#282d7c" stroke-width="2.3" />
<line x1="791.8" y1="2164" x2="791.8" y2="2137.6" stroke="#282d7c" stroke-width="2.3" />
<line x1="782.8" y1="2137.6" x2="800.8" y2="2137.6" stroke="#282d7c" stroke-width="2.3" />
<line x1="782.8" y1="2164" x2="800.8" y2="2164" stroke="#282d7c" stroke-width="2.3" />
<line x1="812.7" y1="2166.9" x2="812.7" y2="2140.5" stroke="#282d7c" stroke-width="2.3" />
<line x1="803.7" y1="2140.5" x2="821.7" y2="2140.5" stroke="#282d7c" stroke-width="2.3" />
<line x1="803.7" y1="2166.9" x2="821.7" y2="2166.9" stroke="#282d7c" stroke-width="2.3" />
<line x1="828.5" y1="2159.6" x2="828.5" y2="2124.4" stroke="#282d7c" stroke-width="2.3" />
<line x1="819.5" y1="2124.4" x2="837.5" y2="2124.4" stroke="#282d7c" stroke-width="2.3" />
<line x1="819.5" y1="2159.6" x2="837.5" y2="2159.6" stroke="#282d7c" stroke-width="2.3" />
<line x1="849.4" y1="2165.4" x2="849.4" y2="2130.3" stroke="#282d7c" stroke-width="2.3" />
<line x1="840.4" y1="2130.3" x2="858.4" y2="2130.3" stroke="#282d7c" stroke-width="2.3" />
<line x1="840.4" y1="2165.4" x2="858.4" y2="2165.4" stroke="#282d7c" stroke-width="2.3" />
<line x1="865.1" y1="2151.5" x2="865.1" y2="2104.6" stroke="#282d7c" stroke-width="2.3" />
<line x1="856.1" y1="2104.6" x2="874.1" y2="2104.6" stroke="#282d7c" stroke-width="2.3" />
<line x1="856.1" y1="2151.5" x2="874.1" y2="2151.5" stroke="#282d7c" stroke-width="2.3" />
<line x1="886.1" y1="2148.9" x2="886.1" y2="2096.2" stroke="#282d7c" stroke-width="2.3" />
<line x1="877.1" y1="2096.2" x2="895.1" y2="2096.2" stroke="#282d7c" stroke-width="2.3" />
<line x1="877.1" y1="2148.9" x2="895.1" y2="2148.9" stroke="#282d7c" stroke-width="2.3" />
<line x1="901.8" y1="2144.2" x2="901.8" y2="2088.5" stroke="#282d7c" stroke-width="2.3" />
<line x1="892.8" y1="2088.5" x2="910.8" y2="2088.5" stroke="#282d7c" stroke-width="2.3" />
<line x1="892.8" y1="2144.2" x2="910.8" y2="2144.2" stroke="#282d7c" stroke-width="2.3" />
<line x1="922.8" y1="2141.6" x2="922.8" y2="2077.2" stroke="#282d7c" stroke-width="2.3" />
<line x1="913.8" y1="2077.2" x2="931.8" y2="2077.2" stroke="#282d7c" stroke-width="2.3" />
<line x1="913.8" y1="2141.6" x2="931.8" y2="2141.6" stroke="#282d7c" stroke-width="2.3" />
<line x1="938.5" y1="2150" x2="938.5" y2="2091.4" stroke="#282d7c" stroke-width="2.3" />
<line x1="929.5" y1="2091.4" x2="947.5" y2="2091.4" stroke="#282d7c" stroke-width="2.3" />
<line x1="929.5" y1="2150" x2="947.5" y2="2150" stroke="#282d7c" stroke-width="2.3" />
<line x1="959.5" y1="2134.3" x2="959.5" y2="2046.4" stroke="#282d7c" stroke-width="2.3" />
<line x1="950.5" y1="2046.4" x2="968.5" y2="2046.4" stroke="#282d7c" stroke-width="2.3" />
<line x1="950.5" y1="2134.3" x2="968.5" y2="2134.3" stroke="#282d7c" stroke-width="2.3" />
<line x1="975.2" y1="2115.6" x2="975.2" y2="2027.7" stroke="#282d7c" stroke-width="2.3" />
<line x1="966.2" y1="2027.7" x2="984.2" y2="2027.7" stroke="#282d7c" stroke-width="2.3" />
<line x1="966.2" y1="2115.6" x2="984.2" y2="2115.6" stroke="#282d7c" stroke-width="2.3" />
<line x1="996.2" y1="2114.9" x2="996.2" y2="2027" stroke="#282d7c" stroke-width="2.3" />
<line x1="987.2" y1="2027" x2="1005.2" y2="2027" stroke="#282d7c" stroke-width="2.3" />
<line x1="987.2" y1="2114.9" x2="1005.2" y2="2114.9" stroke="#282d7c" stroke-width="2.3" />
<polyline points="571.7,2226.6 592.6,2221.5 608.4,2217.1 629.3,2207.9 645,2205.4 666,2187 681.7,2166.9 702.7,2165.8 718.4,2151.5 739.4,2161 755.1,2151.5 776.1,2153.3 791.8,2154.1 812.7,2157 828.5,2146.4 849.4,2152.2 865.1,2133.9 886.1,2129.2 901.8,2123.3 922.8,2117.5 938.5,2128.1 959.5,2101.3 975.2,2082.7 996.2,2081.9" fill="none" stroke="#282d7c" stroke-width="2.4" stroke-linejoin="round"/>
<circle cx="571.7" cy="2226.6" r="10.3" fill="#282d7c" stroke="none" stroke-width="0"/>
<circle cx="592.6" cy="2221.5" r="10.3" fill="#282d7c" stroke="none" stroke-width="0"/>
<circle cx="608.4" cy="2217.1" r="10.3" fill="#282d7c" stroke="none" stroke-width="0"/>
<circle cx="629.3" cy="2207.9" r="10.3" fill="#282d7c" stroke="none" stroke-width="0"/>
<circle cx="645" cy="2205.4" r="10.3" fill="#282d7c" stroke="none" stroke-width="0"/>
<circle cx="666" cy="2187" r="10.3" fill="#282d7c" stroke="none" stroke-width="0"/>
<circle cx="681.7" cy="2166.9" r="10.3" fill="#282d7c" stroke="none" stroke-width="0"/>
<circle cx="702.7" cy="2165.8" r="10.3" fill="#282d7c" stroke="none" stroke-width="0"/>
<circle cx="718.4" cy="2151.5" r="10.3" fill="#282d7c" stroke="none" stroke-width="0"/>
<circle cx="739.4" cy="2161" r="10.3" fill="#282d7c" stroke="none" stroke-width="0"/>
<circle cx="755.1" cy="2151.5" r="10.3" fill="#282d7c" stroke="none" stroke-width="0"/>
<circle cx="776.1" cy="2153.3" r="10.3" fill="#282d7c" stroke="none" stroke-width="0"/>
<circle cx="791.8" cy="2154.1" r="10.3" fill="#282d7c" stroke="none" stroke-width="0"/>
<circle cx="812.7" cy="2157" r="10.3" fill="#282d7c" stroke="none" stroke-width="0"/>
<circle cx="828.5" cy="2146.4" r="10.3" fill="#282d7c" stroke="none" stroke-width="0"/>
<circle cx="849.4" cy="2152.2" r="10.3" fill="#282d7c" stroke="none" stroke-width="0"/>
<circle cx="865.1" cy="2133.9" r="10.3" fill="#282d7c" stroke="none" stroke-width="0"/>
<circle cx="886.1" cy="2129.2" r="10.3" fill="#282d7c" stroke="none" stroke-width="0"/>
<circle cx="901.8" cy="2123.3" r="10.3" fill="#282d7c" stroke="none" stroke-width="0"/>
<circle cx="922.8" cy="2117.5" r="10.3" fill="#282d7c" stroke="none" stroke-width="0"/>
<circle cx="938.5" cy="2128.1" r="10.3" fill="#282d7c" stroke="none" stroke-width="0"/>
<circle cx="959.5" cy="2101.3" r="10.3" fill="#282d7c" stroke="none" stroke-width="0"/>
<circle cx="975.2" cy="2082.7" r="10.3" fill="#282d7c" stroke="none" stroke-width="0"/>
<circle cx="996.2" cy="2081.9" r="10.3" fill="#282d7c" stroke="none" stroke-width="0"/>
<line x1="1081.4" y1="1991" x2="1142" y2="1991" stroke="#282d7c" stroke-width="2.4" />
<circle cx="1112" cy="1991" r="10.3" fill="#282d7c" stroke="none" stroke-width="0"/>
<text x="1164" y="2001" font-size="34" text-anchor="start" >LZRS/PBS</text>
<line x1="1081.4" y1="2039.8" x2="1142" y2="2039.8" stroke="#282d7c" stroke-width="2.4" />
<circle cx="1112" cy="2039.8" r="9.1" fill="none" stroke="#282d7c" stroke-width="2.6"/>
<text x="1164" y="2051.7" font-size="34" text-anchor="start" >LZRS/<tspan font-style="italic">dl</tspan>922</text>
<line x1="1081.4" y1="2114.3" x2="1142" y2="2114.3" stroke="#8e2024" stroke-width="2.4" />
<circle cx="1112" cy="2114.3" r="10.3" fill="#8e2024" stroke="none" stroke-width="0"/>
<text x="1164" y="2126.7" font-size="34" text-anchor="start" >RIPK3 D2/PBS</text>
<line x1="1081.4" y1="2162.4" x2="1142" y2="2162.4" stroke="#8e2024" stroke-width="2.4" />
<circle cx="1112" cy="2162.4" r="9.1" fill="none" stroke="#8e2024" stroke-width="2.6"/>
<text x="1164" y="2173.6" font-size="34" text-anchor="start" >RIPK3 D2/<tspan font-style="italic">dl</tspan>922</text>
<line x1="1427" y1="2040.5" x2="1427" y2="2163.6" stroke="#000" stroke-width="2.6" />
<line x1="1419" y1="2040.5" x2="1435.7" y2="2040.5" stroke="#000" stroke-width="2.6" />
<line x1="1419" y1="2163.6" x2="1435.7" y2="2163.6" stroke="#000" stroke-width="2.6" />
<text x="1436.5" y="2121" font-size="35" text-anchor="start" >*</text>
</svg></body></html>
